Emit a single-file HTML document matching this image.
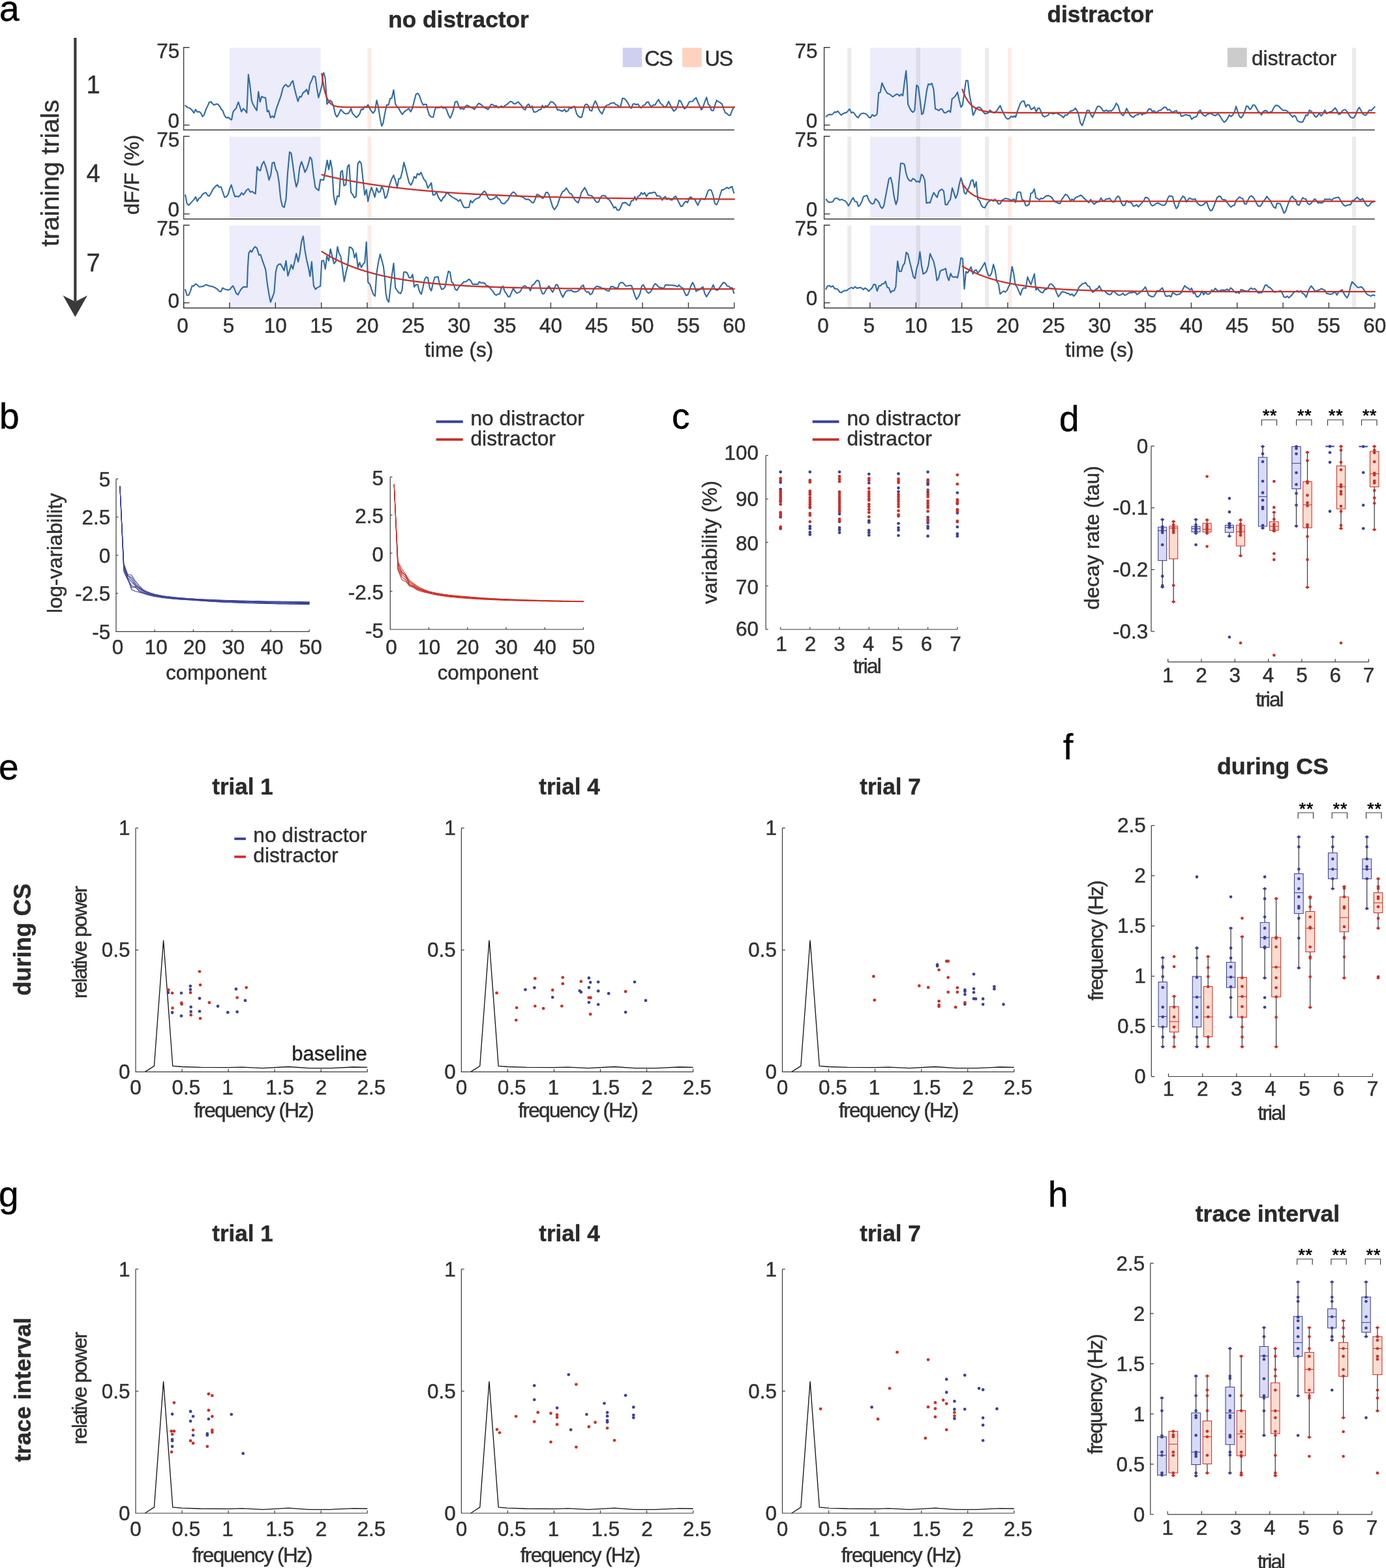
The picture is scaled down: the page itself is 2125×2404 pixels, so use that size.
<!DOCTYPE html>
<html lang="en">
<head>
<meta charset="utf-8">
<title>Figure: distractor effects on neural dynamics</title>
<style>
html,body{margin:0;padding:0;background:#fff;}
body{width:2125px;height:2404px;overflow:hidden;}
svg{display:block;}
svg text{font-family:"Liberation Sans",Arial,Helvetica,sans-serif;fill:#303030;stroke:#303030;stroke-width:0.45px;}
</style>
</head>
<body>
<svg width="2125" height="2404" viewBox="0 0 2125 2404">
<rect width="2125" height="2404" fill="#ffffff"/>
<rect x="352" y="73.3" width="139.6" height="126" fill="#ececfb"/>
<rect x="563.3" y="73.3" width="6" height="126" fill="#fdebe4"/>
<path d="M284.1,161.8 287.5,164.6 291.6,166.3 294.9,169.6 297.4,173.2 299.9,167.9 302.4,171.6 305.7,171.3 308.2,173.7 310.4,178.7 312.9,176.2 315.7,167.9 318.5,162.1 320.7,156.8 323.5,156 325.6,158.8 328.1,161 331.4,159.6 333.9,159.6 336.8,163 339.7,167.9 341.4,169.6 343.9,176.2 346.1,179.9 348,180.9 349.7,179.6 352.2,182 355,183.7 357.5,171.3 359.7,168.3 362.2,165.9 363.8,160.5 365.5,156.6 367.6,163 370.1,171.3 373,166.6 375.4,168.8 378.3,172.9 379.6,144.7 380.8,114.3 382.9,128.1 385.9,154.7 387.9,160 390.4,164.3 393.7,169.3 396.2,140.5 398.7,156.3 401.2,148 403.7,149.3 407,149.7 409.8,171.3 412,169.6 414.8,180.4 417.4,177.9 420.3,180.4 423.3,167.9 427.4,156.3 430.7,147.2 433.6,135.6 436,131.4 438.5,129.7 441.5,133.1 444.3,131.4 446.8,126.4 449,123.9 451.3,134.7 454,145.5 456.8,155.5 459.3,148 461.8,148.8 464.6,142.2 467.3,140.5 470.1,137.2 472.6,144.7 475.1,128.9 477.9,123.1 480.5,116.5 483.4,117.8 485.8,134.7 488.3,149.7 490.8,141.4 493.8,129.7 495,114 496.3,111.5 498.6,119.8 500,139.7 501.3,159.6 503.8,156.6 506.1,153.8 508.8,156.3 511.6,163.8 514.1,175.4 516.6,179.2 519.1,175.4 522.4,167.9 524.9,170.4 527.4,173.2 530.7,174.6 534,173.7 536.5,170.4 538.1,166.3 540.3,173.7 543.1,176.6 546.1,180.1 548.9,177.9 551.4,174.6 553.9,167.6 556.4,167.9 558.9,163.3 561.4,164.6 564.2,160.5 568.3,168.8 572,173.7 575,169.3 577.5,153.8 579.9,163 582.4,179.6 585.3,193.2 587.4,188.7 589.9,174.6 592.9,161 595.7,161 598.2,151.3 600.7,150.5 603.5,138 606.2,159.6 608.5,163 611.5,166.6 614,171.3 616.8,175.4 619.8,171.3 623.1,168.8 626.8,166.6 629.7,171.3 632.2,166.3 635.1,154.7 637.7,144.7 640.5,143 643,146.4 646,155.5 648.8,161 651.3,160 653.8,160 656,169.6 658.3,176.6 661.3,179.2 664.3,179.6 666.6,168.8 668.8,164.6 672.1,165.1 674.6,164.6 677.1,163.3 679.6,165.9 682.5,164.3 684.9,168.8 687.5,176.2 690.3,180.9 692.8,175.4 695.3,167.9 697.8,156.3 700.8,155.6 703.1,162.1 705.8,167.1 708.1,165.9 711.1,167.6 713.6,163 716.1,161.3 719.1,163 721.9,164.6 724.7,165.9 727.4,167.6 729.4,164.6 731.9,161 734.3,158.3 737.7,160.5 740.7,163.3 743.5,165.4 746,166.3 748.1,167.9 750.6,164.6 752.9,160 755.6,160.5 758.4,162.6 760.9,162.1 763.9,165.1 766.2,163.8 768.9,162.6 771.2,164.6 773.9,162.1 776.7,160.5 779.5,158 782.5,155.6 785,156.3 787.5,158.8 790,159.3 792.8,157.1 794.9,156.3 797.4,159.6 799.9,162.1 802.4,167.1 805.4,168.3 807.7,162.1 810.4,159.6 813.7,165.1 815.7,162.6 818.2,171.8 821.5,171.6 824,170.4 826.5,168.3 829.3,167.9 831.5,161.6 834,165.4 836.4,162.1 838.9,163.3 841.4,160.5 843.9,156.6 846.4,156 848.9,158 851.9,161.3 854.7,168.8 857.5,168.3 860,169.9 863,170.4 865.3,167.6 867.9,171.3 870.8,169.9 873.3,165.1 875.8,166.3 878.2,164.3 880.7,163 882.4,168.3 884.1,174.6 886.5,177.9 889,179.9 891.9,179.6 894,171.3 896.5,161.3 899,159.6 901.5,161.3 904.5,169.3 907.3,169.9 909.8,161.3 912.6,154.7 915.1,159.3 917.8,167.1 920.2,171.6 923.1,174.6 925.6,168.8 928,163.3 930.5,161.3 933,161 935.5,158.8 938,158 941.3,157.5 944.3,160.5 946.6,161 948.3,163 951.3,164.3 954.3,150.8 957.1,151 959.9,153.8 962.9,158.3 965.4,163.3 967.9,165.9 970.4,159.6 972.9,159.3 975.4,160.5 978.2,159.6 980.3,163 983.2,165.4 986.2,161.6 988.6,161 991.1,157.1 994.1,156.3 996.4,161.3 999.1,163.8 1001.4,161 1004.4,161 1006.9,156.3 1009.7,152.7 1012.4,158 1015.2,160.5 1017.7,163.3 1020.2,164.3 1022.7,161 1025.2,155.5 1027.7,161.3 1030.2,165.9 1033,170.4 1036,167.9 1038.5,163 1041.3,153.8 1043.9,155.5 1046.8,162.1 1049.2,166.8 1051.7,165.4 1054.2,161.3 1056.7,156.3 1059.2,155.5 1061.7,155.5 1064.5,152.2 1067.2,149.7 1069.7,156 1072.5,162.1 1075.3,168.3 1077.8,164.6 1080.5,156.3 1083.3,149.3 1085.8,159.6 1088.3,162.1 1090.7,169.3 1093.7,169.6 1096.1,161.6 1098.7,153.8 1101.5,156 1104,157.1 1107,159.6 1109.3,166.3 1112,172.9 1114.3,173.7 1117,176.6 1119.8,176.6 1122.3,169.6 1125.3,163.8" stroke="#2e6ba5" stroke-width="2.1" fill="none" stroke-linejoin="round" stroke-linecap="round"/>
<path d="M493.4,113.1 494.8,123.5 496.2,131.8 497.6,138.5 499,143.7 500.4,147.9 501.8,151.3 503.2,153.9 504.6,156.1 506,157.8 507.4,159.1 508.8,160.2 510.2,161 511.6,161.7 513.1,162.3 514.5,162.7 515.9,163 517.3,163.3 518.7,163.5 520.1,163.7 521.5,163.9 522.9,164 524.3,164.1 525.7,164.1 527.1,164.2 528.5,164.2 529.9,164.3 531.3,164.3 532.7,164.3 534.2,164.3 535.6,164.3 537,164.4 538.4,164.4 539.8,164.4 541.2,164.4 542.6,164.4 544,164.4 545.4,164.4 546.8,164.4 548.2,164.4 549.6,164.4 551,164.4 552.4,164.4 553.9,164.4 555.3,164.4 556.7,164.4 558.1,164.4 559.5,164.4 560.9,164.4 562.3,164.4 563.7,164.4 565.1,164.4 566.5,164.4 567.9,164.4 569.3,164.4 570.7,164.4 572.1,164.4 573.6,164.4 575,164.4 576.4,164.4 577.8,164.4 579.2,164.4 580.6,164.4 582,164.4 583.4,164.4 584.8,164.4 586.2,164.4 587.6,164.4 589,164.4 590.4,164.4 591.8,164.4 593.3,164.4 594.7,164.4 596.1,164.4 597.5,164.4 598.9,164.4 600.3,164.4 601.7,164.4 603.1,164.4 604.5,164.4 605.9,164.4 607.3,164.4 608.7,164.4 610.1,164.4 611.5,164.4 612.9,164.4 614.4,164.4 615.8,164.4 617.2,164.4 618.6,164.4 620,164.4 621.4,164.4 622.8,164.4 624.2,164.4 625.6,164.4 627,164.4 628.4,164.4 629.8,164.4 631.2,164.4 632.6,164.4 634.1,164.4 641.1,164.4 648.1,164.4 655.2,164.4 662.2,164.4 669.2,164.4 676.3,164.4 683.3,164.4 690.3,164.4 697.4,164.4 704.4,164.4 711.4,164.4 718.5,164.4 725.5,164.4 732.5,164.4 739.6,164.4 746.6,164.4 753.6,164.4 760.7,164.4 767.7,164.4 774.8,164.4 781.8,164.4 788.8,164.4 795.9,164.4 802.9,164.4 809.9,164.4 817,164.4 824,164.4 831,164.4 838.1,164.4 845.1,164.4 852.1,164.4 859.2,164.4 866.2,164.4 873.2,164.4 880.3,164.4 887.3,164.4 894.3,164.4 901.4,164.4 908.4,164.4 915.5,164.4 922.5,164.4 929.5,164.4 936.6,164.4 943.6,164.4 950.6,164.4 957.7,164.4 964.7,164.4 971.7,164.4 978.8,164.4 985.8,164.4 992.8,164.4 999.9,164.4 1006.9,164.4 1013.9,164.4 1021,164.4 1028,164.4 1035,164.4 1042.1,164.4 1049.1,164.4 1056.2,164.4 1063.2,164.4 1070.2,164.4 1077.3,164.4 1084.3,164.4 1091.3,164.4 1098.4,164.4 1105.4,164.4 1112.4,164.4 1119.5,164.4 1125.8,164.4" stroke="#c9302c" stroke-width="2.3" fill="none" stroke-linejoin="round" stroke-linecap="round"/>
<path d="M290.6,72.8 H281.6 V199.3 H1125.8" stroke="#3a3a3a" stroke-width="1.4" fill="none"/>
<line x1="281.6" y1="191.7" x2="290.6" y2="191.7" stroke="#3a3a3a" stroke-width="1.4"/>
<text x="275.4" y="88.8" font-size="31.5" text-anchor="end">75</text>
<text x="275.1" y="195.5" font-size="31.5" text-anchor="end">0</text>
<rect x="352" y="209.5" width="139.6" height="126.3" fill="#ececfb"/>
<rect x="563.3" y="209.5" width="6" height="126.3" fill="#fdebe4"/>
<path d="M284.1,299 286.6,311.9 289.4,314.7 292.4,311.4 294.9,308.6 297.4,305.9 299.9,301.9 302.4,308.6 305.2,303.9 307.7,302.6 310.2,298.1 313.2,296.1 315.7,295.3 318.5,299.8 320.7,300.6 323.1,297 326.1,290.7 329,287.3 331.4,284.8 333.4,283.5 336.1,287 338.9,286.5 341.4,294 344.4,302.6 347.2,301.4 349.7,298.1 352.2,289 354.7,283.5 357.2,292.3 360,301.1 363,300.9 365.5,301.6 368,299.8 370.5,295.6 373,298.6 375.4,295.6 377.9,291.5 380.8,289.5 383.7,294.5 386.6,293.6 389.2,295.6 391.7,297 392.9,277.4 394.2,255.8 397,261.1 399.2,261.6 401.5,252.5 404.5,247.5 407,254.1 409.8,264.1 412.5,276 415.3,267.4 417.4,250 420.3,248.8 422.8,259.4 425.2,264.1 427.7,279 430.2,303.9 432.7,315.6 435.7,318 438.5,305.6 441,265.7 444,233 446.5,235 449,252.5 451.8,274 454.3,286.5 456.8,279 459.3,257.4 462.3,247.8 464.6,254.1 467.6,264.1 470.6,258.3 472.9,250.8 475.4,240.8 477.9,244.5 480.5,267.4 483.4,287.3 485.8,289.8 488.7,292 491.2,275.4 493.8,275.7 496.1,276 498.8,262.4 501.6,245.8 504.1,259.9 506.6,245.8 509.1,259.1 511.6,300.6 514.4,313.9 517.1,300.6 519.9,301.4 522.4,263.3 524.9,261.6 527.4,284.8 530.3,283.2 532.7,255.8 535.3,252.5 538.1,294.8 540.6,298.1 543.5,303.1 545.9,301.1 548.6,250.8 551.4,247.2 553.9,250.8 556.4,274 559.2,299 561.7,290.7 564.2,308.9 567,295.6 569.5,287.3 572,294 574.6,302.3 577.5,288.2 580.3,294.8 582.9,294 585.3,285.7 587.9,291.5 590.4,303.9 592.9,301.4 595.2,292.3 597.4,283.2 600.7,274 603.5,268.7 606.2,276.5 609,287.3 611.5,273.7 614,273.6 616.5,264.1 619.3,249.1 621.8,258.3 624.4,269.1 627.3,280.4 630.1,283.7 632.7,278.2 635.1,270.7 637.7,273.2 640,266.2 642.7,268.2 645.5,264.4 648,270.7 650.5,275.7 653,278.2 656,288.5 658.3,284.8 661.3,280.4 663.8,299 666.6,298.6 669.3,294.3 671.6,301.4 674.2,305.6 676.6,308.6 679.2,303.6 681.7,301.4 684.2,296.5 686.7,296 689.5,299.3 692.5,301.6 695.3,303.1 697.8,304.8 700.3,305.9 703.1,308.6 705.8,305.9 708.1,311.4 710.8,317.2 713.6,318.5 716.4,318 719.1,317.7 721.4,307.3 724,310.9 726.9,307.3 729.4,305.3 732.3,303.9 734.7,303.1 737.3,298.6 740.2,295.6 742.6,293.1 745.1,295.6 747.6,301.9 750.1,305.3 752.6,305.9 755.6,305.3 758.4,303.6 760.9,300.6 763.4,304.3 765.9,305.6 768.4,310.6 770.9,312.2 773.4,312.2 776.2,308.9 779.2,305.9 781.7,300.3 784.5,296.5 787.1,294.3 790,296.5 792.8,300.3 795.8,300.6 798.3,301.4 801.1,301.9 804.1,304.3 807.1,305.9 809.9,305.3 812.7,307.3 815.7,310.6 818.2,310.6 820.7,304.8 823.2,298.1 826,299 829,301.1 832,304.3 834.3,302.3 836.8,295.3 839.3,294.8 841.9,299 844.7,308.9 847.2,316.9 850.1,321.5 852.5,318 854.7,314.7 857.5,305.6 860,299 862.5,294 865.3,292.3 868.3,288.2 870.8,292.3 873.3,296.5 875.8,297 878.2,301.1 880.7,305.6 883.6,308.9 886.5,310.9 889,303.6 891.5,294.8 894,291.5 896.5,287.7 899,292.3 901.8,299 904.5,299.8 907.3,300.3 909.8,303.1 912.3,307.3 914.8,310.1 917.8,309.7 920.1,303.6 922.7,300.3 925.6,299.8 928.4,300.6 931,304.8 933.4,305.6 936,308.9 938.8,313.9 941.3,318.9 943.8,317.2 946.3,321.9 949.3,322.2 951.6,318 954.3,311.4 957.1,310.9 959.6,310.6 962.6,313.9 965.4,315.2 967.9,308.1 970.9,307.3 973.2,301.4 975.4,306.9 978.2,301.1 980.8,299.8 983.2,295.3 985.8,298.1 988.3,295.3 991.1,301.4 993.6,297.3 996.1,295.6 999.1,296 1001.9,294.8 1004.4,295 1007.4,300.6 1010.2,300.3 1012.7,301.9 1015.2,306.9 1017.7,303.1 1020.2,301.4 1022.7,305.9 1025.2,303.9 1028,306.4 1030.7,306.4 1033.5,302.6 1036,300.6 1038.5,305.6 1040.9,310.6 1043.9,316.4 1046.3,315.9 1048.9,311.4 1051.7,308.6 1054.2,310.6 1056.7,303.6 1059.2,301.9 1062.2,305.3 1064.5,304.8 1067.2,309.7 1070,314.7 1072.5,308.9 1075,304.3 1077.5,305.3 1080.5,305.9 1082.8,300.6 1085.4,293.1 1087.8,290.7 1090.4,291.5 1093.2,299 1096.1,312.2 1098.7,313.9 1101.5,308.1 1104,299 1106.9,290.7 1109,291.1 1112,289 1114.5,287.3 1117.3,289 1119.8,287.3 1122.3,286 1125.3,296" stroke="#2e6ba5" stroke-width="2.1" fill="none" stroke-linejoin="round" stroke-linecap="round"/>
<path d="M493.4,267.9 494.8,268.2 496.2,268.6 497.6,268.9 499,269.3 500.4,269.6 501.8,269.9 503.2,270.2 504.6,270.6 506,270.9 507.4,271.2 508.8,271.5 510.2,271.8 511.6,272.1 513.1,272.5 514.5,272.8 515.9,273.1 517.3,273.4 518.7,273.7 520.1,273.9 521.5,274.2 522.9,274.5 524.3,274.8 525.7,275.1 527.1,275.4 528.5,275.6 529.9,275.9 531.3,276.2 532.7,276.5 534.2,276.7 535.6,277 537,277.3 538.4,277.5 539.8,277.8 541.2,278 542.6,278.3 544,278.5 545.4,278.8 546.8,279 548.2,279.3 549.6,279.5 551,279.8 552.4,280 553.9,280.2 555.3,280.5 556.7,280.7 558.1,280.9 559.5,281.1 560.9,281.4 562.3,281.6 563.7,281.8 565.1,282 566.5,282.3 567.9,282.5 569.3,282.7 570.7,282.9 572.1,283.1 573.6,283.3 575,283.5 576.4,283.7 577.8,283.9 579.2,284.1 580.6,284.3 582,284.5 583.4,284.7 584.8,284.9 586.2,285.1 587.6,285.3 589,285.5 590.4,285.7 591.8,285.8 593.3,286 594.7,286.2 596.1,286.4 597.5,286.6 598.9,286.7 600.3,286.9 601.7,287.1 603.1,287.3 604.5,287.4 605.9,287.6 607.3,287.8 608.7,287.9 610.1,288.1 611.5,288.2 612.9,288.4 614.4,288.6 615.8,288.7 617.2,288.9 618.6,289 620,289.2 621.4,289.3 622.8,289.5 624.2,289.6 625.6,289.8 627,289.9 628.4,290.1 629.8,290.2 631.2,290.4 632.6,290.5 634.1,290.6 641.1,291.3 648.1,292 655.2,292.6 662.2,293.2 669.2,293.8 676.3,294.3 683.3,294.8 690.3,295.3 697.4,295.8 704.4,296.3 711.4,296.7 718.5,297.1 725.5,297.5 732.5,297.9 739.6,298.2 746.6,298.6 753.6,298.9 760.7,299.2 767.7,299.5 774.8,299.8 781.8,300.1 788.8,300.4 795.9,300.6 802.9,300.8 809.9,301.1 817,301.3 824,301.5 831,301.7 838.1,301.9 845.1,302.1 852.1,302.2 859.2,302.4 866.2,302.6 873.2,302.7 880.3,302.9 887.3,303 894.3,303.1 901.4,303.3 908.4,303.4 915.5,303.5 922.5,303.6 929.5,303.7 936.6,303.8 943.6,303.9 950.6,304 957.7,304.1 964.7,304.2 971.7,304.3 978.8,304.3 985.8,304.4 992.8,304.5 999.9,304.6 1006.9,304.6 1013.9,304.7 1021,304.7 1028,304.8 1035,304.8 1042.1,304.9 1049.1,304.9 1056.2,305 1063.2,305 1070.2,305.1 1077.3,305.1 1084.3,305.2 1091.3,305.2 1098.4,305.2 1105.4,305.3 1112.4,305.3 1119.5,305.3 1125.8,305.4" stroke="#c9302c" stroke-width="2.3" fill="none" stroke-linejoin="round" stroke-linecap="round"/>
<path d="M290.6,209 H281.6 V335.8 H1125.8" stroke="#3a3a3a" stroke-width="1.4" fill="none"/>
<line x1="281.6" y1="328" x2="290.6" y2="328" stroke="#3a3a3a" stroke-width="1.4"/>
<text x="275.4" y="225" font-size="31.5" text-anchor="end">75</text>
<text x="275.1" y="331.8" font-size="31.5" text-anchor="end">0</text>
<rect x="352" y="345.7" width="139.6" height="126.6" fill="#ececfb"/>
<rect x="563.3" y="345.7" width="6" height="126.6" fill="#fdebe4"/>
<path d="M284.1,444.1 286.6,452.7 289.4,452.4 291.9,446.6 294.6,438.3 296.9,438.6 299.6,435.3 302.4,436.6 305.2,439.6 308.2,439.4 310.7,439.1 313.2,438.3 315.7,436.3 318.5,437.4 321.5,438.6 324.5,439.1 327.3,439.9 330.1,441.3 333.1,443.3 336.1,446.6 338.9,446.9 341.4,441.3 344.4,443.3 347.2,444.1 350,444.6 352.2,444.1 354.7,440.8 357.2,438.3 359.7,443.3 362.2,449.9 365,451.9 367.6,446.6 370.5,442.4 373.3,439.9 376.3,439.9 378.8,440.3 379.9,410 381.3,388.5 383.7,384 385.9,386.5 388.7,381 391.2,378.2 393.7,380.2 395.9,386.8 397,391 399.5,390.5 402,398.4 404.5,405.4 407.3,413.7 409.8,435 412.5,451.6 414.8,463.2 417.4,456.5 420.3,448.6 422.8,416.7 425.2,407.6 427.7,405.1 430.2,404.7 432.7,409.2 435.7,414.7 438.5,399.8 441.4,423 444,415 446.5,405.9 449,412.5 451.8,400.9 454.3,388.8 457.1,401.4 459.6,390.1 462.3,370.2 464.8,362.2 467.3,382.7 470.1,398.4 472.9,410 475.4,423.7 477.9,401.4 480.9,438.3 483.7,443.6 486.2,441.3 488.8,439.9 491.2,438.6 493.3,399.8 496.1,399.6 498.8,412.5 501.1,392.6 504.1,399.8 506.6,381.8 509.1,391.8 512.1,404.2 514.9,400.9 517.4,378.2 519.9,388.5 522.4,393.1 524.9,410 527.7,431.6 530.7,416.7 533.2,406.7 535.7,378.8 538.6,379.8 541.1,382.7 543.6,395.1 546.1,388.1 548.9,410 551.4,402.6 553.9,410 556.7,405.1 559.2,402.6 561.7,371 564.2,432.5 567.5,436.6 570,444.9 572.5,451.6 575,454 577.5,418.4 579.9,403.4 582.8,389.8 585.3,398.4 587.9,408.4 589.9,426.7 591.6,449.9 593.6,459.5 596,463.2 598.2,444.9 600.7,423.3 603.5,403.7 606.2,441.3 608.5,444.9 611.2,448.6 614,450.2 616.5,444.9 619,417.2 621.8,417 624.4,418.7 627.3,425.8 630.1,425.8 632.6,420.8 635.1,439.9 637.7,436.6 640.5,436.3 643,446.6 645.9,451.2 648.3,441.6 650.8,429.1 653.3,424.7 656,425.8 658.8,441.6 661.3,445.7 664.1,433.3 666.6,425 669.3,424.5 671.6,424.2 674.2,436.6 677.1,443.6 679.9,442.9 682.4,439.9 684.9,427.5 687.5,415.9 690,417.5 692.5,432.5 695.3,435 697.8,443.3 700.6,445.2 703.1,440.8 705.8,437.4 708.6,435 711.1,432 713.9,432 716.4,430.3 719.1,428 721.9,430.8 724.4,435.6 727.4,435.9 730.2,435.9 732.7,435.9 734.7,432 737.7,433.6 740.2,433.6 743,434.1 745.6,437.9 748.5,438.3 750.9,441.3 753.4,444.1 755.9,446.9 758.4,451.2 760.9,452.7 763.4,450.7 766.2,450.7 768.7,441.6 771.2,438.6 773.7,446.6 776.2,449.9 779.2,454.9 781.7,454.5 784.1,448.6 787,441.9 789.5,446.6 792.4,449.6 794.9,448.6 797.8,446.9 800.4,441.3 803.2,438.6 805.7,438.3 808.2,441.3 810.7,440.8 813.2,445.7 815.7,437.4 818.7,435.8 821.5,431.6 824,429.6 826.5,431.3 829,443.3 831.8,450.7 834.3,449.9 836.8,444.9 839.3,441.3 841.9,438.6 844.7,444.1 847.2,447.9 849.7,443.3 852.2,436.6 854.7,436.6 857.5,443.3 860,449.9 863,455.7 865.3,450.7 867.9,446.6 870.8,445.2 873.3,445.7 875.8,444.9 878.2,446.9 880.7,447.4 883.6,447.4 886.2,446.2 889,443.6 891.5,439.1 894.3,437.1 896.8,444.9 899.5,447.9 902.3,447.4 904.8,451.6 907.6,450.2 910.1,444.1 912.8,440.3 915.6,438.6 918.1,439.9 920.6,440.3 923.1,442.4 926.1,442.4 928.9,444.6 931.4,445.7 933.9,446.2 936.4,439.6 938.8,439.1 941.3,440.3 944.3,441.6 947.1,441.3 949.6,435 952.1,433 954.6,433.3 957.1,435.8 959.6,438.6 962.6,438.3 965.4,437.6 968.2,437.9 970.7,444.9 973.2,452.4 975.9,459 978.7,455.2 981.2,450.2 983.7,439.1 986.2,436.6 988.6,440.8 991.5,446.6 994.1,449.6 996.9,447.9 999.4,444.6 1001.9,438.6 1004.4,435 1006.9,436.6 1009.7,439.9 1012.4,440.8 1015.2,441.6 1017.7,441.9 1020.2,436.9 1022.7,436.8 1026,437.1 1029.3,437.3 1032.6,437.6 1035.1,437.9 1038.5,439.6 1040.9,436.9 1043.4,439.9 1046.8,441.6 1049.2,447.4 1051.7,452.9 1054.2,452.4 1056.7,446.6 1059.2,438.3 1062,433 1064.5,438.3 1067.2,446.6 1070,444.6 1072.5,444.1 1075,441.6 1077.8,439.9 1080.5,449.9 1083.3,454.9 1085.8,450.7 1088.3,446.6 1090.7,443.3 1093.6,436.6 1096.1,443.3 1098.7,444.9 1101.5,444.1 1104,439.9 1106.9,435.8 1109.3,433 1112,434.1 1114.8,438.3 1117.3,439.1 1120.1,441.3 1122.6,441.3 1125.3,449.6" stroke="#2e6ba5" stroke-width="2.1" fill="none" stroke-linejoin="round" stroke-linecap="round"/>
<path d="M493.4,385.6 494.8,386.5 496.2,387.4 497.6,388.2 499,389.1 500.4,389.9 501.8,390.8 503.2,391.6 504.6,392.4 506,393.2 507.4,393.9 508.8,394.7 510.2,395.4 511.6,396.2 513.1,396.9 514.5,397.6 515.9,398.3 517.3,399 518.7,399.7 520.1,400.4 521.5,401.1 522.9,401.7 524.3,402.4 525.7,403 527.1,403.6 528.5,404.2 529.9,404.8 531.3,405.4 532.7,406 534.2,406.6 535.6,407.2 537,407.7 538.4,408.3 539.8,408.8 541.2,409.3 542.6,409.9 544,410.4 545.4,410.9 546.8,411.4 548.2,411.9 549.6,412.4 551,412.8 552.4,413.3 553.9,413.8 555.3,414.2 556.7,414.7 558.1,415.1 559.5,415.6 560.9,416 562.3,416.4 563.7,416.8 565.1,417.2 566.5,417.6 567.9,418 569.3,418.4 570.7,418.8 572.1,419.2 573.6,419.6 575,419.9 576.4,420.3 577.8,420.6 579.2,421 580.6,421.3 582,421.7 583.4,422 584.8,422.3 586.2,422.7 587.6,423 589,423.3 590.4,423.6 591.8,423.9 593.3,424.2 594.7,424.5 596.1,424.8 597.5,425.1 598.9,425.4 600.3,425.6 601.7,425.9 603.1,426.2 604.5,426.4 605.9,426.7 607.3,427 608.7,427.2 610.1,427.5 611.5,427.7 612.9,427.9 614.4,428.2 615.8,428.4 617.2,428.6 618.6,428.9 620,429.1 621.4,429.3 622.8,429.5 624.2,429.7 625.6,429.9 627,430.1 628.4,430.3 629.8,430.5 631.2,430.7 632.6,430.9 634.1,431.1 641.1,432 648.1,432.9 655.2,433.6 662.2,434.4 669.2,435 676.3,435.6 683.3,436.2 690.3,436.7 697.4,437.2 704.4,437.7 711.4,438.1 718.5,438.5 725.5,438.8 732.5,439.2 739.6,439.5 746.6,439.7 753.6,440 760.7,440.2 767.7,440.5 774.8,440.7 781.8,440.9 788.8,441 795.9,441.2 802.9,441.3 809.9,441.5 817,441.6 824,441.7 831,441.8 838.1,441.9 845.1,442 852.1,442.1 859.2,442.2 866.2,442.3 873.2,442.4 880.3,442.4 887.3,442.5 894.3,442.5 901.4,442.6 908.4,442.6 915.5,442.7 922.5,442.7 929.5,442.7 936.6,442.8 943.6,442.8 950.6,442.8 957.7,442.9 964.7,442.9 971.7,442.9 978.8,442.9 985.8,443 992.8,443 999.9,443 1006.9,443 1013.9,443 1021,443 1028,443 1035,443.1 1042.1,443.1 1049.1,443.1 1056.2,443.1 1063.2,443.1 1070.2,443.1 1077.3,443.1 1084.3,443.1 1091.3,443.1 1098.4,443.1 1105.4,443.1 1112.4,443.1 1119.5,443.1 1125.8,443.1" stroke="#c9302c" stroke-width="2.3" fill="none" stroke-linejoin="round" stroke-linecap="round"/>
<path d="M290.6,345.2 H281.6 V472.3 H1125.8" stroke="#3a3a3a" stroke-width="1.4" fill="none"/>
<line x1="281.6" y1="464.3" x2="290.6" y2="464.3" stroke="#3a3a3a" stroke-width="1.4"/>
<text x="275.4" y="361.2" font-size="31.5" text-anchor="end">75</text>
<text x="275.1" y="471.9" font-size="31.5" text-anchor="end">0</text>
<line x1="281.6" y1="472.3" x2="281.6" y2="463.8" stroke="#3a3a3a" stroke-width="1.4"/>
<text x="280.1" y="509.5" font-size="31.5" text-anchor="middle">0</text>
<line x1="352" y1="472.3" x2="352" y2="463.8" stroke="#3a3a3a" stroke-width="1.4"/>
<text x="350.5" y="509.5" font-size="31.5" text-anchor="middle">5</text>
<line x1="422.3" y1="472.3" x2="422.3" y2="463.8" stroke="#3a3a3a" stroke-width="1.4"/>
<text x="422.3" y="509.5" font-size="31.5" text-anchor="middle">10</text>
<line x1="492.7" y1="472.3" x2="492.7" y2="463.8" stroke="#3a3a3a" stroke-width="1.4"/>
<text x="492.7" y="509.5" font-size="31.5" text-anchor="middle">15</text>
<line x1="563" y1="472.3" x2="563" y2="463.8" stroke="#3a3a3a" stroke-width="1.4"/>
<text x="563" y="509.5" font-size="31.5" text-anchor="middle">20</text>
<line x1="633.4" y1="472.3" x2="633.4" y2="463.8" stroke="#3a3a3a" stroke-width="1.4"/>
<text x="633.4" y="509.5" font-size="31.5" text-anchor="middle">25</text>
<line x1="703.7" y1="472.3" x2="703.7" y2="463.8" stroke="#3a3a3a" stroke-width="1.4"/>
<text x="703.7" y="509.5" font-size="31.5" text-anchor="middle">30</text>
<line x1="774" y1="472.3" x2="774" y2="463.8" stroke="#3a3a3a" stroke-width="1.4"/>
<text x="774" y="509.5" font-size="31.5" text-anchor="middle">35</text>
<line x1="844.4" y1="472.3" x2="844.4" y2="463.8" stroke="#3a3a3a" stroke-width="1.4"/>
<text x="844.4" y="509.5" font-size="31.5" text-anchor="middle">40</text>
<line x1="914.8" y1="472.3" x2="914.8" y2="463.8" stroke="#3a3a3a" stroke-width="1.4"/>
<text x="914.8" y="509.5" font-size="31.5" text-anchor="middle">45</text>
<line x1="985.1" y1="472.3" x2="985.1" y2="463.8" stroke="#3a3a3a" stroke-width="1.4"/>
<text x="985.1" y="509.5" font-size="31.5" text-anchor="middle">50</text>
<line x1="1055.5" y1="472.3" x2="1055.5" y2="463.8" stroke="#3a3a3a" stroke-width="1.4"/>
<text x="1055.5" y="509.5" font-size="31.5" text-anchor="middle">55</text>
<line x1="1125.8" y1="472.3" x2="1125.8" y2="463.8" stroke="#3a3a3a" stroke-width="1.4"/>
<text x="1125.8" y="509.5" font-size="31.5" text-anchor="middle">60</text>
<text x="703.7" y="546.5" font-size="31.5" text-anchor="middle">time (s)</text>
<rect x="1333.9" y="73.3" width="139.6" height="126" fill="#ececfb"/>
<rect x="1545.3" y="73.3" width="6" height="126" fill="#fdebe4"/>
<rect x="1299.2" y="73.3" width="6.2" height="126" fill="#ebebeb"/>
<rect x="1404.7" y="73.3" width="6.2" height="126" fill="#dcdce8"/>
<rect x="1510.2" y="73.3" width="6.2" height="126" fill="#ebebeb"/>
<rect x="2073" y="73.3" width="6.2" height="126" fill="#ebebeb"/>
<path d="M1266.6,178.7 1269.3,176.2 1272.1,175.4 1274.6,175.9 1277.1,174.6 1279.6,171.6 1282.1,172.1 1284.6,170.4 1287.1,173.7 1289.9,176.6 1292.5,174.2 1295.4,172.9 1297.8,172.6 1300.3,169.9 1302.5,167.1 1305.3,172.9 1307.8,172.1 1310.3,174.6 1313.1,178.7 1315.8,180.4 1318.6,175.9 1321.1,174.2 1323.6,173.4 1326.4,174.2 1329.4,175.9 1332.2,179.9 1334.7,180.4 1337.4,175.9 1340.2,177.9 1342.7,177.1 1344.7,174.6 1346,158 1347.2,142.2 1349.6,141.7 1352.3,127.3 1354.6,132.2 1357.3,138 1360.1,142.7 1362.9,143.9 1365.9,146 1368.7,148.5 1371.7,146.4 1374.2,144.4 1376.7,144.7 1379.2,147.2 1381.7,144.4 1384.2,146.7 1386.7,126.4 1389.2,108.5 1390.8,131.4 1392.1,159.6 1395,166.3 1397.5,170.4 1399.9,172.1 1402.4,168.8 1404.1,144.7 1405.3,130.6 1407.9,133.1 1410.4,151.3 1413.2,175.4 1415.4,173.7 1418.2,158 1420.7,139.7 1423.2,128.9 1426,129.7 1428.7,127.8 1431.5,137.2 1434,167.1 1437,167.9 1439.5,169.6 1442,167.1 1444.4,167.3 1447.3,172.6 1449.8,172.9 1452.2,171.3 1454.7,169.6 1457.2,172.1 1459.7,151.3 1462.5,149.7 1465.2,146.4 1468,141.4 1470.5,153 1473.3,164.3 1475.8,161 1478.5,141.4 1481,123.6 1483.8,123.6 1486.6,146.4 1489.3,159.6 1491.8,176.6 1494.1,172.9 1496.7,165.9 1499.6,164.3 1502.1,164.6 1505,167.6 1507.9,172.1 1510.4,174.6 1512.8,173.7 1515.3,172.9 1517.8,168.8 1520.6,171.6 1523.3,172.9 1525.8,172.6 1528.6,169.3 1531.1,165.4 1533.6,161.8 1536.4,169.6 1539.1,174.6 1541.9,179.9 1544.7,182.5 1546.9,182 1550.5,178.2 1553,179.6 1555,177.9 1557.1,179.6 1559.6,171.3 1562.1,164.6 1564.6,158 1567.1,155.5 1569.9,154.7 1572.9,163.8 1575.4,160.5 1577.9,161.3 1580.9,167.9 1583.2,166.6 1585.9,164.3 1588.7,171.3 1591.2,165.9 1593.7,165.9 1596.1,171.3 1598.6,177.1 1601.1,179.2 1604.1,177.9 1606.9,176.6 1609.4,173.2 1612.4,173.7 1614.7,174.6 1617.4,173.7 1620.2,172.9 1622.7,175.1 1625.2,175.9 1627.7,177.9 1630.5,180.4 1633,176.2 1635.7,176.6 1638.5,173.7 1641,170.4 1643.5,169.9 1646,168.8 1648.8,165.8 1651.3,169.6 1653.8,175.9 1656.2,187.9 1659.2,192.5 1661.7,185.4 1664.2,177.9 1666.7,169.3 1669.7,169.3 1672.2,175.4 1675,179.9 1677.5,174.6 1680,168.8 1682.8,163 1685.5,163 1688.3,165.4 1691.1,169.9 1693.6,170.4 1696.1,168.8 1699.1,170.9 1701.6,169.6 1704.1,170.1 1706.6,167.6 1709,163.8 1711.5,158.3 1714.4,162.1 1717,171.3 1719.5,175.4 1722,177.1 1724.8,172.9 1727.3,166.3 1729.8,171.3 1732.3,175.9 1735.1,178.7 1737.8,179.9 1740.6,177.1 1743.1,175.9 1745.6,175.4 1748.4,172.6 1750.9,176.2 1753.5,174.2 1756.4,174.2 1758.8,171.3 1761.3,167.1 1764.2,167.1 1766.8,171.3 1769.3,169.6 1772.1,172.9 1774.6,171.3 1777.1,169.3 1779.6,169.3 1782.4,166.3 1785.1,164.3 1787.6,164.6 1790.4,168.8 1792.9,167.6 1795.7,170.9 1798.4,172.1 1800.9,170.4 1803.7,169.6 1806.2,174.2 1808.7,172.1 1811.1,178.2 1813.6,177.9 1816.5,176.2 1819.1,175.9 1821.6,177.1 1824.1,176.6 1827,182.9 1829.6,180.4 1832.5,179.6 1835,177.9 1837.5,171.3 1840.3,168.8 1842.4,173.7 1844.9,176.2 1847.9,178.2 1850.7,175.4 1853.2,174.6 1855.7,173.7 1858.2,174.9 1861,176.6 1863.5,177.1 1866,175.4 1868.5,175.4 1871.2,179.2 1874,183.7 1876.8,187.5 1879.5,185.4 1882.3,181.2 1884.8,176.2 1887.3,178.7 1890.1,176.2 1892.7,172.1 1895.1,163 1897.7,171.3 1900.2,178.2 1903,180.7 1905.9,176.6 1908.3,171.3 1911,162.6 1913.5,163.3 1916,167.6 1918.3,166.3 1921,161 1923.8,161.3 1926.3,165.4 1929.1,170.9 1931.6,172.9 1934.1,176.2 1936.6,171.3 1939.2,169.6 1942,169.9 1944.9,173.7 1947.5,171.8 1950.3,170.9 1952.8,165.4 1955.7,161.6 1958.3,161.6 1961.1,163.3 1964,166.6 1966.4,168.8 1969.1,169.1 1971.9,169.3 1974.4,171.3 1976.9,173.7 1979.4,176.6 1981.9,179.6 1984.4,177.1 1986.9,179.6 1989.4,185.4 1991.9,186.7 1994.7,187.4 1997.2,187 1999.7,182 2002.3,176.2 2004.8,177.1 2007.6,168.8 2010.1,170.4 2012.6,172.9 2015.4,177.6 2017.9,179.6 2020.4,177.1 2022.9,173.7 2025.6,177.6 2028.4,174.6 2031.2,168.8 2033.9,174.2 2036.7,172.9 2039.2,171.3 2041.7,171.3 2044.5,168.3 2047.1,165.4 2050,169.9 2052.4,175.4 2054.9,174.6 2057.8,170.4 2060.4,168.3 2062.9,168.3 2065.4,171.3 2068.2,176.2 2070.7,179.6 2073.5,180.9 2076,180.4 2078.7,175.4 2081.5,168.3 2084,164.6 2086.8,169.6 2089.3,174.6 2092,176.2 2094.3,176.6 2096.9,172.9 2099.4,168.8 2101.9,169.6 2104.7,167.1 2107.7,163.8" stroke="#2e6ba5" stroke-width="2.1" fill="none" stroke-linejoin="round" stroke-linecap="round"/>
<path d="M1475.4,137.2 1476.8,141 1478.2,144.3 1479.6,147.3 1481,150 1482.4,152.4 1483.8,154.6 1485.2,156.5 1486.6,158.2 1488,159.8 1489.4,161.1 1490.8,162.4 1492.2,163.5 1493.6,164.5 1495.1,165.4 1496.5,166.2 1497.9,166.9 1499.3,167.5 1500.7,168.1 1502.1,168.6 1503.5,169 1504.9,169.4 1506.3,169.8 1507.7,170.1 1509.1,170.4 1510.5,170.7 1511.9,170.9 1513.3,171.1 1514.7,171.3 1516.2,171.5 1517.6,171.6 1519,171.8 1520.4,171.9 1521.8,172 1523.2,172.1 1524.6,172.2 1526,172.2 1527.4,172.3 1528.8,172.4 1530.2,172.4 1531.6,172.5 1533,172.5 1534.4,172.6 1535.9,172.6 1537.3,172.6 1538.7,172.7 1540.1,172.7 1541.5,172.7 1542.9,172.7 1544.3,172.7 1545.7,172.8 1547.1,172.8 1548.5,172.8 1549.9,172.8 1551.3,172.8 1552.7,172.8 1554.1,172.8 1555.6,172.8 1557,172.8 1558.4,172.8 1559.8,172.9 1561.2,172.9 1562.6,172.9 1564,172.9 1565.4,172.9 1566.8,172.9 1568.2,172.9 1569.6,172.9 1571,172.9 1572.4,172.9 1573.8,172.9 1575.3,172.9 1576.7,172.9 1578.1,172.9 1579.5,172.9 1580.9,172.9 1582.3,172.9 1583.7,172.9 1585.1,172.9 1586.5,172.9 1587.9,172.9 1589.3,172.9 1590.7,172.9 1592.1,172.9 1593.5,172.9 1594.9,172.9 1596.4,172.9 1597.8,172.9 1599.2,172.9 1600.6,172.9 1602,172.9 1603.4,172.9 1604.8,172.9 1606.2,172.9 1607.6,172.9 1609,172.9 1610.4,172.9 1611.8,172.9 1613.2,172.9 1614.6,172.9 1616.1,172.9 1623.1,172.9 1630.1,172.9 1637.2,172.9 1644.2,172.9 1651.2,172.9 1658.3,172.9 1665.3,172.9 1672.3,172.9 1679.4,172.9 1686.4,172.9 1693.4,172.9 1700.5,172.9 1707.5,172.9 1714.5,172.9 1721.6,172.9 1728.6,172.9 1735.6,172.9 1742.7,172.9 1749.7,172.9 1756.8,172.9 1763.8,172.9 1770.8,172.9 1777.9,172.9 1784.9,172.9 1791.9,172.9 1799,172.9 1806,172.9 1813,172.9 1820.1,172.9 1827.1,172.9 1834.1,172.9 1841.2,172.9 1848.2,172.9 1855.2,172.9 1862.3,172.9 1869.3,172.9 1876.3,172.9 1883.4,172.9 1890.4,172.9 1897.5,172.9 1904.5,172.9 1911.5,172.9 1918.6,172.9 1925.6,172.9 1932.6,172.9 1939.7,172.9 1946.7,172.9 1953.7,172.9 1960.8,172.9 1967.8,172.9 1974.8,172.9 1981.9,172.9 1988.9,172.9 1995.9,172.9 2003,172.9 2010,172.9 2017,172.9 2024.1,172.9 2031.1,172.9 2038.2,172.9 2045.2,172.9 2052.2,172.9 2059.3,172.9 2066.3,172.9 2073.3,172.9 2080.4,172.9 2087.4,172.9 2094.4,172.9 2101.5,172.9 2107.8,172.9" stroke="#c9302c" stroke-width="2.3" fill="none" stroke-linejoin="round" stroke-linecap="round"/>
<path d="M1272.6,72.8 H1263.6 V199.3 H2107.8" stroke="#3a3a3a" stroke-width="1.4" fill="none"/>
<line x1="1263.6" y1="191.7" x2="1272.6" y2="191.7" stroke="#3a3a3a" stroke-width="1.4"/>
<text x="1253.6" y="88.8" font-size="31.5" text-anchor="end">75</text>
<text x="1253.3" y="195.5" font-size="31.5" text-anchor="end">0</text>
<rect x="1333.9" y="209.5" width="139.6" height="126.3" fill="#ececfb"/>
<rect x="1545.3" y="209.5" width="6" height="126.3" fill="#fdebe4"/>
<rect x="1299.2" y="209.5" width="6.2" height="126.3" fill="#ebebeb"/>
<rect x="1404.7" y="209.5" width="6.2" height="126.3" fill="#dcdce8"/>
<rect x="1510.2" y="209.5" width="6.2" height="126.3" fill="#ebebeb"/>
<rect x="2073" y="209.5" width="6.2" height="126.3" fill="#ebebeb"/>
<path d="M1266.6,305.6 1269.3,309.2 1272.1,310.2 1274.6,309.7 1277.1,308.9 1279.6,304.8 1282.1,303.6 1284.9,304.8 1287.6,306.9 1290.4,305.6 1292.9,306.9 1295.9,308.1 1298.2,310.6 1300.7,315.6 1303.2,311.9 1305.8,306.4 1308.1,303.1 1310.8,308.9 1313.6,309.2 1316.1,316.4 1318.6,313.9 1321.1,309.7 1323.9,301.4 1326.4,300.6 1329.1,299.5 1331.9,306.4 1334.4,310.6 1337.2,312.6 1339.7,311.9 1342.3,304.8 1345.2,307.3 1347.7,310.6 1350.1,317.2 1352.6,319.4 1355.1,315.6 1357.6,302.3 1360.1,289 1362.9,274 1365.6,272.1 1368.1,282.4 1370.9,302.3 1373.7,313.6 1376.2,305.6 1378.4,277.4 1380.9,250.5 1383.8,250.3 1386.7,252.1 1389.2,265.7 1391.6,273.2 1394.1,276.5 1397,277.7 1399.4,273.7 1402.1,274.9 1404.9,278.7 1407.4,277.9 1409.9,279.4 1412.7,267.4 1415.2,269.4 1417.9,276.5 1420.4,311.4 1423.2,310.6 1426,310.9 1428.7,302.3 1431.5,295.3 1434,299 1436.8,302.6 1439.3,294 1442,291 1444.4,290.3 1446.9,293.1 1449.4,313.6 1452.2,313.9 1454.7,308.9 1457.2,305.6 1460,288.2 1462.5,295.6 1465.2,303.9 1468,297.3 1470.5,284 1473.3,272.7 1475.8,280.7 1478.5,295.6 1481,297.3 1483.5,291.5 1486.3,285.7 1488.8,277.4 1491.6,275.7 1494.1,287.3 1496.7,278.7 1499.2,305.6 1501.7,307.3 1504.5,314.7 1507,317.7 1509.9,318.5 1512.3,313.9 1515,309.7 1517.5,308.1 1520.3,306.4 1522.8,308.1 1525.6,305.6 1528.3,308.6 1530.8,312.6 1533.6,312.2 1536.4,306.9 1538.9,305.6 1541.6,304.3 1544.4,304.8 1547.2,305.6 1550.5,307.3 1553,305.9 1555,305.6 1557.1,310.2 1559.6,295.6 1562.1,294.3 1564.6,294.8 1567.1,306.4 1569.9,307.3 1572.6,315.2 1575.1,315.2 1577.9,313.1 1580.4,296.5 1582.9,295.6 1585.7,289.8 1588.3,303.1 1591.2,304.8 1593.7,306.4 1596.1,303.9 1598.6,304.8 1601.5,302.3 1604.4,300.1 1607.3,299.9 1609.9,300.9 1612.7,303.1 1615.2,306.9 1617.7,309.2 1620.6,310.6 1623,311.9 1625.5,311.9 1628,305.6 1630.5,302.3 1633.2,298.1 1636,299 1638.8,303.1 1641.3,307.8 1643.8,305.3 1646.3,307.3 1648.8,303.1 1651.3,301.9 1653.9,300.9 1656.7,299.3 1659.2,300.6 1661.7,303.9 1664.2,305.9 1666.7,308.1 1669.5,310.6 1672.2,305.9 1675,310.2 1677.5,313.1 1680.3,310.6 1682.8,309.7 1685.3,308.9 1688,303.6 1690.4,307.3 1692.9,308.1 1695.8,305.3 1698.2,305.3 1701.1,303.9 1703.6,307.3 1706.2,309.7 1708.7,309.2 1711.2,303.9 1714,300.6 1716.5,302.6 1719,310.6 1721.8,315.2 1724.5,314.7 1727.3,307.6 1729.8,309.7 1732.3,310.2 1734.8,310.9 1737.6,315.9 1740.3,315.6 1742.7,313.9 1745.6,317.2 1748.4,313.6 1750.9,310.9 1753.5,308.1 1756,302.6 1758.8,303.1 1761.3,305.3 1764.2,312.6 1766.6,315.6 1769.3,314.7 1772.1,312.2 1774.6,311.4 1777.1,311.9 1779.9,313.6 1782.4,314.7 1785.1,314.7 1787.6,312.2 1790.1,304.8 1792.5,300.6 1795.4,300.6 1797.9,301.4 1800.4,312.2 1803.3,319.7 1805.8,317.2 1808.3,308.9 1811.1,304.8 1813.6,300.6 1816.1,302.3 1818.9,309.7 1821.6,305.9 1824.1,303.6 1827,305.3 1830,305.9 1832.5,304.8 1835,310.6 1837.5,313.1 1840.3,315.2 1842.9,314.7 1845.4,313.6 1847.9,310.6 1850.4,310.2 1852.9,318 1855.7,323 1858.2,322.5 1861,316.4 1863.5,309.7 1866,303.1 1868.5,300.9 1871.2,301.1 1873.6,305.6 1876.1,306.4 1878.6,306.4 1881.4,310.6 1884.3,314.2 1887.3,317.5 1890.1,315.2 1892.6,314.7 1895.1,307.3 1897.7,304.8 1900.2,301.9 1903,303.6 1905.5,304.8 1908,312.6 1910.8,312.6 1913.3,306.9 1915.8,301.9 1918.5,300.3 1921.3,302.3 1923.8,306.4 1926.3,311.4 1929.1,315.9 1931.6,316.4 1934.1,313.9 1936.6,308.9 1939.6,305.6 1942.4,301.1 1945,304.8 1947.5,307.3 1950,312.6 1952.8,317.5 1955.7,319.2 1957.8,311.9 1960.3,311.9 1963.1,312.6 1965.8,319.7 1968.6,326.8 1971.1,323.9 1973.6,316.4 1976.1,309.7 1978.6,303.9 1981.1,300.6 1983.9,304.8 1986.4,305.9 1989,313.6 1991.9,314.7 1994.3,308.9 1997.2,303.1 1999.7,304.8 2002.3,305.3 2004.8,311.9 2007.6,313.6 2010.1,311.9 2012.9,308.1 2015.6,304.8 2018.1,307.3 2020.9,311.4 2023.4,310.6 2025.9,311.4 2028.4,310.2 2031.2,305.3 2033.9,305.6 2036.7,305.6 2039.2,305.3 2041.7,306.9 2044.5,304.3 2047,303.6 2049.6,302.8 2052.4,302.6 2055.3,307.3 2057.9,311.4 2060.4,314.7 2062.9,315.9 2065.4,314.7 2068.2,313.9 2070.7,313.9 2073.5,307.3 2076,307.3 2078.5,304.3 2081.2,302.3 2084,305.9 2086.8,306.4 2089,304.3 2091.8,308.9 2094.3,313.6 2096.8,315.9 2099.3,315.2 2101.9,311.4 2104.7,309.7 2107.7,308.9" stroke="#2e6ba5" stroke-width="2.1" fill="none" stroke-linejoin="round" stroke-linecap="round"/>
<path d="M1475.4,281 1476.8,283.3 1478.2,285.4 1479.6,287.3 1481,289.1 1482.4,290.7 1483.8,292.2 1485.2,293.6 1486.6,294.8 1488,296 1489.4,297 1490.8,298 1492.2,298.9 1493.6,299.7 1495.1,300.4 1496.5,301.1 1497.9,301.7 1499.3,302.3 1500.7,302.8 1502.1,303.3 1503.5,303.8 1504.9,304.2 1506.3,304.5 1507.7,304.9 1509.1,305.2 1510.5,305.5 1511.9,305.7 1513.3,306 1514.7,306.2 1516.2,306.4 1517.6,306.6 1519,306.7 1520.4,306.9 1521.8,307 1523.2,307.2 1524.6,307.3 1526,307.4 1527.4,307.5 1528.8,307.6 1530.2,307.7 1531.6,307.7 1533,307.8 1534.4,307.9 1535.9,307.9 1537.3,308 1538.7,308 1540.1,308.1 1541.5,308.1 1542.9,308.2 1544.3,308.2 1545.7,308.2 1547.1,308.3 1548.5,308.3 1549.9,308.3 1551.3,308.3 1552.7,308.4 1554.1,308.4 1555.6,308.4 1557,308.4 1558.4,308.4 1559.8,308.5 1561.2,308.5 1562.6,308.5 1564,308.5 1565.4,308.5 1566.8,308.5 1568.2,308.5 1569.6,308.5 1571,308.5 1572.4,308.5 1573.8,308.5 1575.3,308.5 1576.7,308.5 1578.1,308.6 1579.5,308.6 1580.9,308.6 1582.3,308.6 1583.7,308.6 1585.1,308.6 1586.5,308.6 1587.9,308.6 1589.3,308.6 1590.7,308.6 1592.1,308.6 1593.5,308.6 1594.9,308.6 1596.4,308.6 1597.8,308.6 1599.2,308.6 1600.6,308.6 1602,308.6 1603.4,308.6 1604.8,308.6 1606.2,308.6 1607.6,308.6 1609,308.6 1610.4,308.6 1611.8,308.6 1613.2,308.6 1614.6,308.6 1616.1,308.6 1623.1,308.6 1630.1,308.6 1637.2,308.6 1644.2,308.6 1651.2,308.6 1658.3,308.6 1665.3,308.6 1672.3,308.6 1679.4,308.6 1686.4,308.6 1693.4,308.6 1700.5,308.6 1707.5,308.6 1714.5,308.6 1721.6,308.6 1728.6,308.6 1735.6,308.6 1742.7,308.6 1749.7,308.6 1756.8,308.6 1763.8,308.6 1770.8,308.6 1777.9,308.6 1784.9,308.6 1791.9,308.6 1799,308.6 1806,308.6 1813,308.6 1820.1,308.6 1827.1,308.6 1834.1,308.6 1841.2,308.6 1848.2,308.6 1855.2,308.6 1862.3,308.6 1869.3,308.6 1876.3,308.6 1883.4,308.6 1890.4,308.6 1897.5,308.6 1904.5,308.6 1911.5,308.6 1918.6,308.6 1925.6,308.6 1932.6,308.6 1939.7,308.6 1946.7,308.6 1953.7,308.6 1960.8,308.6 1967.8,308.6 1974.8,308.6 1981.9,308.6 1988.9,308.6 1995.9,308.6 2003,308.6 2010,308.6 2017,308.6 2024.1,308.6 2031.1,308.6 2038.2,308.6 2045.2,308.6 2052.2,308.6 2059.3,308.6 2066.3,308.6 2073.3,308.6 2080.4,308.6 2087.4,308.6 2094.4,308.6 2101.5,308.6 2107.8,308.6" stroke="#c9302c" stroke-width="2.3" fill="none" stroke-linejoin="round" stroke-linecap="round"/>
<path d="M1272.6,209 H1263.6 V335.8 H2107.8" stroke="#3a3a3a" stroke-width="1.4" fill="none"/>
<line x1="1263.6" y1="328" x2="1272.6" y2="328" stroke="#3a3a3a" stroke-width="1.4"/>
<text x="1253.6" y="225" font-size="31.5" text-anchor="end">75</text>
<text x="1253.3" y="331.8" font-size="31.5" text-anchor="end">0</text>
<rect x="1333.9" y="345.7" width="139.6" height="126.6" fill="#ececfb"/>
<rect x="1545.3" y="345.7" width="6" height="126.6" fill="#fdebe4"/>
<rect x="1299.2" y="345.7" width="6.2" height="126.6" fill="#ebebeb"/>
<rect x="1404.7" y="345.7" width="6.2" height="126.6" fill="#dcdce8"/>
<rect x="1510.2" y="345.7" width="6.2" height="126.6" fill="#ebebeb"/>
<rect x="2073" y="345.7" width="6.2" height="126.6" fill="#ebebeb"/>
<path d="M1266.3,443.3 1268.8,438.6 1271.6,437.9 1274.3,439.9 1276.8,438.3 1279.6,442.4 1282.1,442.9 1284.6,443.6 1287.4,447.9 1289.9,448.6 1292.5,446.6 1295.4,445.2 1297.8,445.7 1300.7,443.3 1303.2,441.9 1305.8,440.8 1308.3,442.4 1310.8,439.6 1313.6,441.6 1316.1,441.6 1318.9,440.8 1321.4,441.9 1323.9,444.1 1326.4,441.6 1329.1,443.3 1331.9,446.6 1334.4,444.1 1336.9,441.6 1339.4,436.1 1342.2,436.3 1344.8,446.2 1347.7,438.3 1350.1,437.9 1352.6,435.3 1355.1,435 1357.6,431.3 1360.4,440.8 1362.9,441.3 1365.6,448.6 1368.4,445.7 1370.9,445.7 1373.4,439.6 1374.7,420 1376.2,400.4 1378.7,415.9 1381.7,416.2 1384.2,407.6 1387,403.4 1389.5,386.8 1392.1,389.8 1395,401.7 1397.8,413.4 1400.4,424.2 1402.9,427 1405.4,411.7 1408.2,402.6 1410.4,386 1412.9,406.7 1415.4,420 1418.2,418.4 1420.7,415.9 1423.5,406.7 1426,388.8 1428.7,395.1 1431.5,400.9 1434,412.5 1436.5,430 1439,426.7 1441.5,415.9 1444.3,413.9 1446.9,413.4 1449.8,411.7 1452.2,423.3 1454.7,430 1457.6,419.2 1460,424.2 1462.7,425 1465.5,424.2 1468,425.8 1470.5,414.2 1473.3,395.4 1476,396.8 1478.5,442.9 1481,416.4 1483.5,418.4 1486.3,413.9 1488.8,409.2 1491.6,420 1494.1,415 1496.6,413.7 1499.1,418.4 1501.7,415.9 1504.5,411.7 1507.4,406.7 1509.9,402.6 1512.5,413.4 1515.3,422.5 1517.8,423 1520.3,418.4 1523.1,405.4 1525.8,415 1528.3,431.6 1530.8,435 1533.3,450.7 1536.1,448.2 1538.6,446.2 1541.4,447.9 1544.1,444.9 1546.9,438.3 1548,437.4 1549.7,423.3 1551.7,408.7 1554.3,420 1556.6,436.6 1559.3,439.9 1562.1,446.6 1564.6,452.4 1567.1,444.1 1569.6,441.3 1572.9,441.9 1575.4,424.7 1577.9,430.8 1580.7,436.3 1583.2,428 1585.9,420 1588.3,444.6 1590.8,441.9 1593.7,446.2 1596.5,448.2 1599.1,448.6 1601.6,444.1 1604.4,443.6 1606.9,440.8 1609.4,435.8 1611.9,435.3 1614.7,437.9 1617.4,441.6 1619.9,448.6 1622.7,454.9 1625.2,451.6 1628,447.4 1630.5,447.4 1633,448.2 1636,449.9 1638.5,449.9 1641,452.4 1643.5,450.7 1646.3,454 1648.9,451.2 1651.8,446.6 1654.3,440.3 1656.7,437.9 1659.6,435 1662.1,434.5 1664.5,433.3 1667.5,438.3 1670,439.1 1672.8,444.9 1675.3,448.2 1677.8,446.6 1680.3,443.3 1682.8,442.4 1685.5,438.3 1688,443.6 1690.8,446.2 1693.3,445.7 1695.8,448.6 1698.6,450.7 1701.1,451.9 1703.7,450.7 1706.2,446.2 1708.7,447.4 1711.2,449.9 1713.7,451.9 1716.5,452.7 1719,451.6 1721.8,449.6 1724.3,452.9 1727,451.6 1729.8,449.9 1732.3,448.6 1735.1,448.6 1737.8,448.2 1740.6,447.9 1743.1,451.6 1745.6,449.9 1748.4,447.9 1750.9,445.7 1753.5,443.3 1756,439.9 1758.5,445.7 1761,452.4 1763.8,454 1766.3,454.9 1769.1,454.5 1771.6,450.7 1774.1,445.7 1776.8,446.2 1779.3,444.1 1782.1,441.3 1784.6,447.4 1787.1,454 1789.9,454 1792.5,453.2 1795.4,455.2 1797.9,448.6 1800.4,449.9 1803.2,451.9 1805.8,451.6 1808.7,450.7 1811.1,448.6 1813.6,443.3 1816.5,437.9 1819.1,440.8 1821.9,441.9 1824.4,444.6 1827,441.9 1829.6,449.9 1832,449.1 1834.6,454.9 1837.5,454.9 1840.3,451.6 1842.9,446.2 1845.3,451.9 1847.9,447.4 1850.4,450.7 1852.9,450.9 1855.2,449.6 1857.7,444.6 1860.2,446.6 1863.2,442.1 1866,444.9 1868.5,446.9 1871.2,445.2 1873.6,444.6 1876.1,444.9 1878.6,445.2 1881.4,443.3 1883.9,446.2 1886.8,441.3 1889.4,443.3 1891.9,446.6 1894.7,448.6 1897.6,448.2 1900,449.6 1902.5,444.1 1905.2,444.6 1908,445.7 1910.8,446.2 1913.3,446.6 1915.8,443.3 1918.3,441.6 1921,443.6 1923.8,442.4 1926.6,445.7 1929.1,449.1 1931.8,448.6 1934.6,448.6 1937.1,443.3 1939.6,437.4 1942.4,437.1 1944.9,440.3 1947.5,441.3 1950.3,444.1 1952.8,447.4 1955.7,447.9 1958.1,446.9 1960.8,446.6 1963.6,445.7 1966.1,449.9 1968.6,455.2 1971.1,456 1973.6,454 1976.1,456.5 1978.9,454 1981.4,451.2 1984,447.9 1986.5,446.9 1989.4,445.7 1991.9,447.9 1994.3,445.7 1997.2,449.9 1999.7,451.2 2002.6,455.7 2005.1,448.6 2007.6,442.4 2010.4,438.3 2012.9,441.6 2015.6,445.7 2018.1,446.2 2020.9,444.9 2023.4,444.1 2026.2,442.4 2028.9,444.1 2031.4,444.9 2033.9,449.9 2036.7,450.4 2039.2,451.1 2042,450.7 2044.5,449.1 2047.1,447.4 2049.6,452.4 2052.4,447.4 2055.3,445.7 2057.8,444.1 2060.4,449.9 2062.9,454 2065.4,456.5 2067.9,451.6 2070.4,439.9 2072.9,432.1 2075.7,434.6 2078.5,437.4 2081.5,440.8 2084,440.8 2086.8,439.6 2089.3,441.6 2092,445.7 2094.3,449.1 2096.8,451.9 2099.3,452.9 2101.9,454 2104.7,452.1 2107.7,453.2" stroke="#2e6ba5" stroke-width="2.1" fill="none" stroke-linejoin="round" stroke-linecap="round"/>
<path d="M1475.4,408.1 1476.8,408.9 1478.2,409.8 1479.6,410.6 1481,411.4 1482.4,412.1 1483.8,412.9 1485.2,413.6 1486.6,414.3 1488,415 1489.4,415.7 1490.8,416.4 1492.2,417.1 1493.6,417.7 1495.1,418.4 1496.5,419 1497.9,419.6 1499.3,420.2 1500.7,420.8 1502.1,421.3 1503.5,421.9 1504.9,422.4 1506.3,423 1507.7,423.5 1509.1,424 1510.5,424.5 1511.9,425 1513.3,425.5 1514.7,425.9 1516.2,426.4 1517.6,426.8 1519,427.3 1520.4,427.7 1521.8,428.1 1523.2,428.5 1524.6,428.9 1526,429.3 1527.4,429.7 1528.8,430.1 1530.2,430.5 1531.6,430.8 1533,431.2 1534.4,431.5 1535.9,431.8 1537.3,432.2 1538.7,432.5 1540.1,432.8 1541.5,433.1 1542.9,433.4 1544.3,433.7 1545.7,434 1547.1,434.3 1548.5,434.6 1549.9,434.8 1551.3,435.1 1552.7,435.4 1554.1,435.6 1555.6,435.9 1557,436.1 1558.4,436.4 1559.8,436.6 1561.2,436.8 1562.6,437 1564,437.3 1565.4,437.5 1566.8,437.7 1568.2,437.9 1569.6,438.1 1571,438.3 1572.4,438.5 1573.8,438.7 1575.3,438.8 1576.7,439 1578.1,439.2 1579.5,439.4 1580.9,439.5 1582.3,439.7 1583.7,439.9 1585.1,440 1586.5,440.2 1587.9,440.3 1589.3,440.5 1590.7,440.6 1592.1,440.8 1593.5,440.9 1594.9,441 1596.4,441.2 1597.8,441.3 1599.2,441.4 1600.6,441.6 1602,441.7 1603.4,441.8 1604.8,441.9 1606.2,442 1607.6,442.1 1609,442.2 1610.4,442.3 1611.8,442.5 1613.2,442.6 1614.6,442.7 1616.1,442.8 1623.1,443.2 1630.1,443.6 1637.2,444 1644.2,444.3 1651.2,444.6 1658.3,444.9 1665.3,445.1 1672.3,445.3 1679.4,445.5 1686.4,445.7 1693.4,445.9 1700.5,446 1707.5,446.1 1714.5,446.2 1721.6,446.3 1728.6,446.4 1735.6,446.5 1742.7,446.6 1749.7,446.6 1756.8,446.7 1763.8,446.7 1770.8,446.8 1777.9,446.8 1784.9,446.9 1791.9,446.9 1799,446.9 1806,447 1813,447 1820.1,447 1827.1,447 1834.1,447 1841.2,447.1 1848.2,447.1 1855.2,447.1 1862.3,447.1 1869.3,447.1 1876.3,447.1 1883.4,447.1 1890.4,447.1 1897.5,447.1 1904.5,447.1 1911.5,447.2 1918.6,447.2 1925.6,447.2 1932.6,447.2 1939.7,447.2 1946.7,447.2 1953.7,447.2 1960.8,447.2 1967.8,447.2 1974.8,447.2 1981.9,447.2 1988.9,447.2 1995.9,447.2 2003,447.2 2010,447.2 2017,447.2 2024.1,447.2 2031.1,447.2 2038.2,447.2 2045.2,447.2 2052.2,447.2 2059.3,447.2 2066.3,447.2 2073.3,447.2 2080.4,447.2 2087.4,447.2 2094.4,447.2 2101.5,447.2 2107.8,447.2" stroke="#c9302c" stroke-width="2.3" fill="none" stroke-linejoin="round" stroke-linecap="round"/>
<path d="M1272.6,345.2 H1263.6 V472.3 H2107.8" stroke="#3a3a3a" stroke-width="1.4" fill="none"/>
<line x1="1263.6" y1="464.3" x2="1272.6" y2="464.3" stroke="#3a3a3a" stroke-width="1.4"/>
<text x="1253.6" y="361.2" font-size="31.5" text-anchor="end">75</text>
<text x="1253.3" y="468.1" font-size="31.5" text-anchor="end">0</text>
<line x1="1263.6" y1="472.3" x2="1263.6" y2="463.8" stroke="#3a3a3a" stroke-width="1.4"/>
<text x="1262.1" y="509.5" font-size="31.5" text-anchor="middle">0</text>
<line x1="1333.9" y1="472.3" x2="1333.9" y2="463.8" stroke="#3a3a3a" stroke-width="1.4"/>
<text x="1332.4" y="509.5" font-size="31.5" text-anchor="middle">5</text>
<line x1="1404.3" y1="472.3" x2="1404.3" y2="463.8" stroke="#3a3a3a" stroke-width="1.4"/>
<text x="1404.3" y="509.5" font-size="31.5" text-anchor="middle">10</text>
<line x1="1474.6" y1="472.3" x2="1474.6" y2="463.8" stroke="#3a3a3a" stroke-width="1.4"/>
<text x="1474.6" y="509.5" font-size="31.5" text-anchor="middle">15</text>
<line x1="1545" y1="472.3" x2="1545" y2="463.8" stroke="#3a3a3a" stroke-width="1.4"/>
<text x="1545" y="509.5" font-size="31.5" text-anchor="middle">20</text>
<line x1="1615.3" y1="472.3" x2="1615.3" y2="463.8" stroke="#3a3a3a" stroke-width="1.4"/>
<text x="1615.3" y="509.5" font-size="31.5" text-anchor="middle">25</text>
<line x1="1685.7" y1="472.3" x2="1685.7" y2="463.8" stroke="#3a3a3a" stroke-width="1.4"/>
<text x="1685.7" y="509.5" font-size="31.5" text-anchor="middle">30</text>
<line x1="1756" y1="472.3" x2="1756" y2="463.8" stroke="#3a3a3a" stroke-width="1.4"/>
<text x="1756" y="509.5" font-size="31.5" text-anchor="middle">35</text>
<line x1="1826.4" y1="472.3" x2="1826.4" y2="463.8" stroke="#3a3a3a" stroke-width="1.4"/>
<text x="1826.4" y="509.5" font-size="31.5" text-anchor="middle">40</text>
<line x1="1896.8" y1="472.3" x2="1896.8" y2="463.8" stroke="#3a3a3a" stroke-width="1.4"/>
<text x="1896.8" y="509.5" font-size="31.5" text-anchor="middle">45</text>
<line x1="1967.1" y1="472.3" x2="1967.1" y2="463.8" stroke="#3a3a3a" stroke-width="1.4"/>
<text x="1967.1" y="509.5" font-size="31.5" text-anchor="middle">50</text>
<line x1="2037.4" y1="472.3" x2="2037.4" y2="463.8" stroke="#3a3a3a" stroke-width="1.4"/>
<text x="2037.4" y="509.5" font-size="31.5" text-anchor="middle">55</text>
<line x1="2107.8" y1="472.3" x2="2107.8" y2="463.8" stroke="#3a3a3a" stroke-width="1.4"/>
<text x="2107.8" y="509.5" font-size="31.5" text-anchor="middle">60</text>
<text x="1685.7" y="546.5" font-size="31.5" text-anchor="middle">time (s)</text>
<text x="703" y="41.6" font-size="35.3" text-anchor="middle" font-weight="bold" style="fill:#2a2a2a;stroke:#2a2a2a;">no distractor</text>
<text x="1686.9" y="34" font-size="35.3" text-anchor="middle" font-weight="bold" style="fill:#2a2a2a;stroke:#2a2a2a;">distractor</text>
<rect x="954.8" y="73.2" width="29.5" height="29.7" fill="#cfcff0"/>
<text x="988.3" y="100.5" font-size="32.5" style="letter-spacing:-1.5px;">CS</text>
<rect x="1046.2" y="73.2" width="29.5" height="29.7" fill="#fdd3bf"/>
<text x="1080.5" y="100.5" font-size="32.5" style="letter-spacing:-1.5px;">US</text>
<rect x="1882" y="73.2" width="29.8" height="29.7" fill="#cccccc"/>
<text x="1919" y="100.4" font-size="31.7">distractor</text>
<line x1="115.3" y1="58" x2="115.3" y2="462" stroke="#3a3a3a" stroke-width="4.2"/>
<path d="M96.5,453 L115.3,462.5 L134,453 L115.3,486 Z" fill="#3a3a3a"/>
<text x="143" y="142.5" font-size="38" text-anchor="middle">1</text>
<text x="143" y="279" font-size="38" text-anchor="middle">4</text>
<text x="143" y="415.5" font-size="38" text-anchor="middle">7</text>
<text x="90" y="265.5" font-size="39.7" text-anchor="middle" transform="rotate(-90 90 265.5)">training trials</text>
<text x="212.5" y="268" font-size="31.5" text-anchor="middle" transform="rotate(-90 212.5 268)">dF/F (%)</text>
<text x="-1" y="31.5" font-size="55" style="fill:#000000;stroke:#000000;">a</text>
<text x="-1" y="656.5" font-size="55" style="fill:#000000;stroke:#000000;">b</text>
<text x="1030" y="656.5" font-size="55" style="fill:#000000;stroke:#000000;">c</text>
<text x="1624" y="660.5" font-size="55" style="fill:#000000;stroke:#000000;">d</text>
<text x="-2" y="1194.5" font-size="55" style="fill:#000000;stroke:#000000;">e</text>
<text x="1630" y="1164" font-size="55" style="fill:#000000;stroke:#000000;">f</text>
<text x="-2" y="1850" font-size="55" style="fill:#000000;stroke:#000000;">g</text>
<text x="1607" y="1849.5" font-size="55" style="fill:#000000;stroke:#000000;">h</text>
<path d="M183.9,745.9 189.8,864.2 195.8,880.6 201.7,881.7 207.6,891.1 213.6,898.1 219.5,904 225.4,906.9 231.3,909.2 237.2,911 243.2,912.3 249.1,913.4 255,914.3 260.9,915 266.9,915.7 272.8,916.3 278.7,916.8 284.6,917.3 290.6,917.7 296.5,918 302.4,918.4 308.4,918.8 314.3,919.1 320.2,919.3 326.1,919.6 332,919.8 338,920.1 343.9,920.3 349.8,920.5 355.8,920.6 361.7,920.8 367.6,921 373.5,921.1 379.4,921.3 385.4,921.4 391.3,921.5 397.2,921.6 403.1,921.7 409.1,921.9 415,922 420.9,922 426.9,922.1 432.8,922.2 438.7,922.3 444.6,922.4 450.6,922.5 456.5,922.5 462.4,922.6 468.3,922.7 474.2,922.7" stroke="#3b4098" stroke-width="1.05" fill="none" stroke-linejoin="round" stroke-linecap="round"/>
<path d="M183.9,745.9 189.8,867.7 195.8,882.9 201.7,885.3 207.6,894.6 213.6,900.5 219.5,905.2 225.4,908.1 231.3,910.4 237.2,912.2 243.2,913.3 249.1,914.3 255,915.1 260.9,915.8 266.9,916.4 272.8,916.9 278.7,917.4 284.6,917.8 290.6,918.2 296.5,918.5 302.4,918.9 308.4,919.3 314.3,919.7 320.2,920 326.1,920.3 332,920.6 338,920.8 343.9,921.1 349.8,921.3 355.8,921.5 361.7,921.7 367.6,921.9 373.5,922.1 379.4,922.2 385.4,922.4 391.3,922.5 397.2,922.6 403.1,922.8 409.1,922.9 415,923 420.9,923.1 426.9,923.2 432.8,923.3 438.7,923.4 444.6,923.5 450.6,923.6 456.5,923.7 462.4,923.8 468.3,923.8 474.2,923.9" stroke="#3b4098" stroke-width="1.05" fill="none" stroke-linejoin="round" stroke-linecap="round"/>
<path d="M183.9,745.9 189.8,870 195.8,885.3 201.7,892.3 207.6,898.1 213.6,902.8 219.5,906.3 225.4,909 231.3,911 237.2,912.7 243.2,913.9 249.1,914.8 255,915.7 260.9,916.4 266.9,917 272.8,917.6 278.7,918.1 284.6,918.5 290.6,918.9 296.5,919.2 302.4,919.6 308.4,920 314.3,920.4 320.2,920.7 326.1,921 332,921.3 338,921.5 343.9,921.8 349.8,922 355.8,922.2 361.7,922.4 367.6,922.6 373.5,922.8 379.4,922.9 385.4,923.1 391.3,923.2 397.2,923.3 403.1,923.5 409.1,923.6 415,923.7 420.9,923.8 426.9,923.9 432.8,924 438.7,924.1 444.6,924.2 450.6,924.3 456.5,924.4 462.4,924.5 468.3,924.5 474.2,924.6" stroke="#3b4098" stroke-width="1.05" fill="none" stroke-linejoin="round" stroke-linecap="round"/>
<path d="M183.9,745.9 189.8,873.5 195.8,887.6 201.7,898.1 207.6,900.5 213.6,905.2 219.5,908 225.4,910.3 231.3,912.1 237.2,913.6 243.2,914.7 249.1,915.6 255,916.4 260.9,917.1 266.9,917.7 272.8,918.2 278.7,918.6 284.6,919 290.6,919.4 296.5,919.7 302.4,920.2 308.4,920.6 314.3,921 320.2,921.3 326.1,921.6 332,921.9 338,922.2 343.9,922.5 349.8,922.7 355.8,922.9 361.7,923.1 367.6,923.3 373.5,923.5 379.4,923.7 385.4,923.9 391.3,924 397.2,924.2 403.1,924.3 409.1,924.4 415,924.6 420.9,924.7 426.9,924.8 432.8,924.9 438.7,925 444.6,925.1 450.6,925.2 456.5,925.3 462.4,925.4 468.3,925.5 474.2,925.5" stroke="#3b4098" stroke-width="1.05" fill="none" stroke-linejoin="round" stroke-linecap="round"/>
<path d="M183.9,745.9 189.8,876.4 195.8,888.8 201.7,901 207.6,899.3 213.6,907 219.5,908.9 225.4,911.1 231.3,912.7 237.2,914.1 243.2,915.1 249.1,916 255,916.8 260.9,917.4 266.9,918 272.8,918.5 278.7,918.9 284.6,919.3 290.6,919.6 296.5,919.9 302.4,920.4 308.4,920.9 314.3,921.3 320.2,921.7 326.1,922 332,922.4 338,922.7 343.9,922.9 349.8,923.2 355.8,923.4 361.7,923.7 367.6,923.9 373.5,924.1 379.4,924.3 385.4,924.4 391.3,924.6 397.2,924.8 403.1,924.9 409.1,925.1 415,925.2 420.9,925.3 426.9,925.4 432.8,925.6 438.7,925.7 444.6,925.8 450.6,925.9 456.5,926 462.4,926.1 468.3,926.2 474.2,926.2" stroke="#3b4098" stroke-width="1.05" fill="none" stroke-linejoin="round" stroke-linecap="round"/>
<path d="M183.9,745.9 189.8,865.4 195.8,886.4 201.7,904 207.6,906.6 213.6,908 219.5,909.8 225.4,911.8 231.3,913.3 237.2,914.5 243.2,915.6 249.1,916.4 255,917.1 260.9,917.7 266.9,918.3 272.8,918.7 278.7,919.2 284.6,919.5 290.6,919.9 296.5,920.2 302.4,920.7 308.4,921.1 314.3,921.6 320.2,922 326.1,922.3 332,922.7 338,923 343.9,923.3 349.8,923.5 355.8,923.8 361.7,924 367.6,924.3 373.5,924.5 379.4,924.7 385.4,924.8 391.3,925 397.2,925.2 403.1,925.3 409.1,925.5 415,925.6 420.9,925.8 426.9,925.9 432.8,926 438.7,926.1 444.6,926.2 450.6,926.3 456.5,926.4 462.4,926.5 468.3,926.6 474.2,926.7" stroke="#3b4098" stroke-width="1.05" fill="none" stroke-linejoin="round" stroke-linecap="round"/>
<path d="M183.9,745.9 189.8,868.9 195.8,881.7 201.7,888.8 207.6,897 213.6,901.7 219.5,905.9 225.4,908.3 231.3,910.2 237.2,911.7 243.2,912.9 249.1,913.9 255,914.8 260.9,915.5 266.9,916.1 272.8,916.6 278.7,917.1 284.6,917.6 290.6,917.9 296.5,918.3 302.4,918.7 308.4,919.1 314.3,919.4 320.2,919.7 326.1,920 332,920.3 338,920.5 343.9,920.7 349.8,920.9 355.8,921.1 361.7,921.3 367.6,921.5 373.5,921.7 379.4,921.8 385.4,922 391.3,922.1 397.2,922.2 403.1,922.3 409.1,922.5 415,922.6 420.9,922.7 426.9,922.8 432.8,922.9 438.7,923 444.6,923.1 450.6,923.1 456.5,923.2 462.4,923.3 468.3,923.4 474.2,923.4" stroke="#3b4098" stroke-width="1.05" fill="none" stroke-linejoin="round" stroke-linecap="round"/>
<path d="M178,734.2 V968.4 H474.2" stroke="#3a3a3a" stroke-width="1.2" fill="none"/>
<line x1="178" y1="734.2" x2="181.2" y2="734.2" stroke="#3a3a3a" stroke-width="1.2"/>
<text x="169.2" y="745.5" font-size="31.5" text-anchor="end">5</text>
<line x1="178" y1="792.8" x2="181.2" y2="792.8" stroke="#3a3a3a" stroke-width="1.2"/>
<text x="169.2" y="804" font-size="31.5" text-anchor="end">2.5</text>
<line x1="178" y1="851.3" x2="181.2" y2="851.3" stroke="#3a3a3a" stroke-width="1.2"/>
<text x="169.2" y="862.6" font-size="31.5" text-anchor="end">0</text>
<line x1="178" y1="909.8" x2="181.2" y2="909.8" stroke="#3a3a3a" stroke-width="1.2"/>
<text x="169.2" y="921.1" font-size="31.5" text-anchor="end">-2.5</text>
<text x="169.2" y="979.7" font-size="31.5" text-anchor="end">-5</text>
<text x="180.5" y="1002.6" font-size="31.5" text-anchor="middle">0</text>
<line x1="237.2" y1="968.4" x2="237.2" y2="965.2" stroke="#3a3a3a" stroke-width="1.2"/>
<text x="239.2" y="1002.6" font-size="31.5" text-anchor="middle">10</text>
<line x1="296.5" y1="968.4" x2="296.5" y2="965.2" stroke="#3a3a3a" stroke-width="1.2"/>
<text x="298.5" y="1002.6" font-size="31.5" text-anchor="middle">20</text>
<line x1="355.8" y1="968.4" x2="355.8" y2="965.2" stroke="#3a3a3a" stroke-width="1.2"/>
<text x="357.8" y="1002.6" font-size="31.5" text-anchor="middle">30</text>
<line x1="415" y1="968.4" x2="415" y2="965.2" stroke="#3a3a3a" stroke-width="1.2"/>
<text x="417" y="1002.6" font-size="31.5" text-anchor="middle">40</text>
<line x1="474.2" y1="968.4" x2="474.2" y2="965.2" stroke="#3a3a3a" stroke-width="1.2"/>
<text x="476.2" y="1002.6" font-size="31.5" text-anchor="middle">50</text>
<path d="M604.2,742.9 610.1,861 616.1,872.2 622,880.8 627.9,890.2 633.8,894.4 639.8,898.6 645.7,901.9 651.6,904.5 657.5,906.5 663.5,908 669.4,909.3 675.3,910.3 681.2,911.2 687.2,912 693.1,912.7 699,913.3 704.9,913.8 710.9,914.3 716.8,914.7 722.7,915.3 728.6,915.8 734.6,916.3 740.5,916.7 746.4,917.1 752.3,917.4 758.3,917.8 764.2,918.1 770.1,918.4 776,918.6 782,918.9 787.9,919.1 793.8,919.3 799.8,919.5 805.7,919.7 811.6,919.9 817.5,920.1 823.4,920.3 829.4,920.4 835.3,920.6 841.2,920.7 847.1,920.9 853.1,921 859,921.1 864.9,921.2 870.8,921.3 876.8,921.4 882.7,921.6 888.6,921.7 894.5,921.7" stroke="#cb2f27" stroke-width="1.05" fill="none" stroke-linejoin="round" stroke-linecap="round"/>
<path d="M604.2,742.9 610.1,865.6 616.1,876.2 622,883.2 627.9,892.5 633.8,896 639.8,900 645.7,903.1 651.6,905.5 657.5,907.5 663.5,908.9 669.4,910.1 675.3,911.2 681.2,912 687.2,912.8 693.1,913.4 699,914 704.9,914.6 710.9,915 716.8,915.4 722.7,916 728.6,916.4 734.6,916.9 740.5,917.3 746.4,917.6 752.3,918 758.3,918.3 764.2,918.6 770.1,918.8 776,919.1 782,919.3 787.9,919.5 793.8,919.7 799.8,919.9 805.7,920.1 811.6,920.3 817.5,920.4 823.4,920.6 829.4,920.7 835.3,920.9 841.2,921 847.1,921.1 853.1,921.3 859,921.4 864.9,921.5 870.8,921.6 876.8,921.7 882.7,921.8 888.6,921.9 894.5,922" stroke="#cb2f27" stroke-width="1.05" fill="none" stroke-linejoin="round" stroke-linecap="round"/>
<path d="M604.2,742.9 610.1,869.1 616.1,880.8 622,885.5 627.9,894.9 633.8,897.7 639.8,901.9 645.7,904.6 651.6,906.7 657.5,908.4 663.5,909.8 669.4,911 675.3,912 681.2,912.8 687.2,913.6 693.1,914.2 699,914.8 704.9,915.3 710.9,915.7 716.8,916.1 722.7,916.6 728.6,917.1 734.6,917.5 740.5,917.8 746.4,918.2 752.3,918.5 758.3,918.8 764.2,919 770.1,919.3 776,919.5 782,919.7 787.9,919.9 793.8,920.1 799.8,920.3 805.7,920.5 811.6,920.6 817.5,920.8 823.4,920.9 829.4,921.1 835.3,921.2 841.2,921.3 847.1,921.4 853.1,921.6 859,921.7 864.9,921.8 870.8,921.9 876.8,922 882.7,922 888.6,922.1 894.5,922.2" stroke="#cb2f27" stroke-width="1.05" fill="none" stroke-linejoin="round" stroke-linecap="round"/>
<path d="M604.2,742.9 610.1,871.5 616.1,884.3 622,889 627.9,896.7 633.8,899.1 639.8,903.3 645.7,905.6 651.6,907.4 657.5,908.9 663.5,910.3 669.4,911.5 675.3,912.6 681.2,913.4 687.2,914.2 693.1,914.8 699,915.4 704.9,916 710.9,916.4 716.8,916.8 722.7,917.3 728.6,917.7 734.6,918.1 740.5,918.4 746.4,918.7 752.3,919 758.3,919.3 764.2,919.5 770.1,919.7 776,920 782,920.2 787.9,920.3 793.8,920.5 799.8,920.7 805.7,920.8 811.6,921 817.5,921.1 823.4,921.3 829.4,921.4 835.3,921.5 841.2,921.6 847.1,921.7 853.1,921.8 859,921.9 864.9,922 870.8,922.1 876.8,922.2 882.7,922.3 888.6,922.4 894.5,922.4" stroke="#cb2f27" stroke-width="1.05" fill="none" stroke-linejoin="round" stroke-linecap="round"/>
<path d="M604.2,742.9 610.1,873.8 616.1,888.8 622,891.4 627.9,898.4 633.8,900.5 639.8,904.7 645.7,906.7 651.6,908.3 657.5,909.6 663.5,911 669.4,912.2 675.3,913.3 681.2,914.1 687.2,914.9 693.1,915.6 699,916.1 704.9,916.7 710.9,917.1 716.8,917.5 722.7,917.9 728.6,918.3 734.6,918.7 740.5,919 746.4,919.3 752.3,919.5 758.3,919.8 764.2,920 770.1,920.2 776,920.4 782,920.6 787.9,920.8 793.8,920.9 799.8,921.1 805.7,921.2 811.6,921.3 817.5,921.5 823.4,921.6 829.4,921.7 835.3,921.8 841.2,921.9 847.1,922 853.1,922.1 859,922.2 864.9,922.3 870.8,922.4 876.8,922.5 882.7,922.5 888.6,922.6 894.5,922.7" stroke="#cb2f27" stroke-width="1.05" fill="none" stroke-linejoin="round" stroke-linecap="round"/>
<path d="M604.2,742.9 610.1,863.3 616.1,878.5 622,882 627.9,897.2 633.8,899.5 639.8,901.4 645.7,904.1 651.6,906.3 657.5,908 663.5,909.4 669.4,910.6 675.3,911.6 681.2,912.5 687.2,913.3 693.1,913.9 699,914.5 704.9,915 710.9,915.5 716.8,915.9 722.7,916.4 728.6,916.9 734.6,917.3 740.5,917.7 746.4,918 752.3,918.3 758.3,918.6 764.2,918.9 770.1,919.2 776,919.4 782,919.6 787.9,919.8 793.8,920 799.8,920.2 805.7,920.4 811.6,920.6 817.5,920.7 823.4,920.9 829.4,921 835.3,921.2 841.2,921.3 847.1,921.4 853.1,921.5 859,921.6 864.9,921.7 870.8,921.8 876.8,921.9 882.7,922 888.6,922.1 894.5,922.2" stroke="#cb2f27" stroke-width="1.05" fill="none" stroke-linejoin="round" stroke-linecap="round"/>
<path d="M598.3,731.2 V965 H894.5" stroke="#3a3a3a" stroke-width="1.2" fill="none"/>
<line x1="598.3" y1="731.2" x2="601.5" y2="731.2" stroke="#3a3a3a" stroke-width="1.2"/>
<text x="588" y="743.8" font-size="31.5" text-anchor="end">5</text>
<line x1="598.3" y1="789.7" x2="601.5" y2="789.7" stroke="#3a3a3a" stroke-width="1.2"/>
<text x="588" y="802.3" font-size="31.5" text-anchor="end">2.5</text>
<line x1="598.3" y1="848.1" x2="601.5" y2="848.1" stroke="#3a3a3a" stroke-width="1.2"/>
<text x="588" y="860.7" font-size="31.5" text-anchor="end">0</text>
<line x1="598.3" y1="906.5" x2="601.5" y2="906.5" stroke="#3a3a3a" stroke-width="1.2"/>
<text x="588" y="919.1" font-size="31.5" text-anchor="end">-2.5</text>
<text x="588" y="977.6" font-size="31.5" text-anchor="end">-5</text>
<text x="600" y="1002.5" font-size="31.5" text-anchor="middle">0</text>
<line x1="657.5" y1="965" x2="657.5" y2="961.8" stroke="#3a3a3a" stroke-width="1.2"/>
<text x="657.8" y="1002.5" font-size="31.5" text-anchor="middle">10</text>
<line x1="716.8" y1="965" x2="716.8" y2="961.8" stroke="#3a3a3a" stroke-width="1.2"/>
<text x="717" y="1002.5" font-size="31.5" text-anchor="middle">20</text>
<line x1="776" y1="965" x2="776" y2="961.8" stroke="#3a3a3a" stroke-width="1.2"/>
<text x="776.2" y="1002.5" font-size="31.5" text-anchor="middle">30</text>
<line x1="835.3" y1="965" x2="835.3" y2="961.8" stroke="#3a3a3a" stroke-width="1.2"/>
<text x="835.5" y="1002.5" font-size="31.5" text-anchor="middle">40</text>
<line x1="894.5" y1="965" x2="894.5" y2="961.8" stroke="#3a3a3a" stroke-width="1.2"/>
<text x="894.8" y="1002.5" font-size="31.5" text-anchor="middle">50</text>
<text x="331.3" y="1041.5" font-size="31.2" text-anchor="middle">component</text>
<text x="747.9" y="1041.5" font-size="31.2" text-anchor="middle">component</text>
<text x="94.5" y="848" font-size="31.5" text-anchor="middle" transform="rotate(-90 94.5 848)">log-variability</text>
<line x1="668.7" y1="646.5" x2="709.8" y2="646.5" stroke="#3b4098" stroke-width="3.8"/>
<line x1="668.7" y1="673.8" x2="709.8" y2="673.8" stroke="#cb2f27" stroke-width="3.8"/>
<text x="721.5" y="651.5" font-size="31.7">no distractor</text>
<text x="721.5" y="682.5" font-size="31.7">distractor</text>
<line x1="1174.2" y1="698.3" x2="1174.2" y2="965" stroke="#3a3a3a" stroke-width="1.2"/>
<line x1="1174.2" y1="965" x2="1177.7" y2="965" stroke="#3a3a3a" stroke-width="1.2"/>
<text x="1163" y="975" font-size="31.5" text-anchor="end">60</text>
<line x1="1174.2" y1="898.3" x2="1177.7" y2="898.3" stroke="#3a3a3a" stroke-width="1.2"/>
<text x="1163" y="911" font-size="31.5" text-anchor="end">70</text>
<line x1="1174.2" y1="831.6" x2="1177.7" y2="831.6" stroke="#3a3a3a" stroke-width="1.2"/>
<text x="1163" y="843.8" font-size="31.5" text-anchor="end">80</text>
<line x1="1174.2" y1="765" x2="1177.7" y2="765" stroke="#3a3a3a" stroke-width="1.2"/>
<text x="1163" y="775.8" font-size="31.5" text-anchor="end">90</text>
<line x1="1174.2" y1="698.3" x2="1177.7" y2="698.3" stroke="#3a3a3a" stroke-width="1.2"/>
<text x="1163" y="705.2" font-size="31.5" text-anchor="end">100</text>
<line x1="1196.7" y1="965" x2="1467.8" y2="965" stroke="#3a3a3a" stroke-width="1.2"/>
<line x1="1196.7" y1="965" x2="1196.7" y2="961.5" stroke="#3a3a3a" stroke-width="1.2"/>
<text x="1198" y="998" font-size="31.5" text-anchor="middle">1</text>
<line x1="1241.8" y1="965" x2="1241.8" y2="961.5" stroke="#3a3a3a" stroke-width="1.2"/>
<text x="1242.5" y="998" font-size="31.5" text-anchor="middle">2</text>
<line x1="1287.1" y1="965" x2="1287.1" y2="961.5" stroke="#3a3a3a" stroke-width="1.2"/>
<text x="1287" y="998" font-size="31.5" text-anchor="middle">3</text>
<line x1="1332.3" y1="965" x2="1332.3" y2="961.5" stroke="#3a3a3a" stroke-width="1.2"/>
<text x="1331.6" y="998" font-size="31.5" text-anchor="middle">4</text>
<line x1="1377.5" y1="965" x2="1377.5" y2="961.5" stroke="#3a3a3a" stroke-width="1.2"/>
<text x="1376.1" y="998" font-size="31.5" text-anchor="middle">5</text>
<line x1="1422.6" y1="965" x2="1422.6" y2="961.5" stroke="#3a3a3a" stroke-width="1.2"/>
<text x="1420.6" y="998" font-size="31.5" text-anchor="middle">6</text>
<line x1="1467.8" y1="965" x2="1467.8" y2="961.5" stroke="#3a3a3a" stroke-width="1.2"/>
<text x="1465.1" y="998" font-size="31.5" text-anchor="middle">7</text>
<circle cx="1196.7" cy="723.6" r="2.35" fill="#3b4098"/>
<circle cx="1196.7" cy="739.6" r="2.35" fill="#3b4098"/>
<circle cx="1196.7" cy="750.2" r="2.35" fill="#3b4098"/>
<circle cx="1196.7" cy="768.8" r="2.35" fill="#3b4098"/>
<circle cx="1196.7" cy="792.7" r="2.35" fill="#3b4098"/>
<circle cx="1196.7" cy="810.4" r="2.35" fill="#3b4098"/>
<circle cx="1241.8" cy="723.6" r="2.35" fill="#3b4098"/>
<circle cx="1241.8" cy="806.9" r="2.35" fill="#3b4098"/>
<circle cx="1241.8" cy="810.4" r="2.35" fill="#3b4098"/>
<circle cx="1241.8" cy="816.1" r="2.35" fill="#3b4098"/>
<circle cx="1241.8" cy="819.6" r="2.35" fill="#3b4098"/>
<circle cx="1287.1" cy="723.6" r="2.35" fill="#3b4098"/>
<circle cx="1287.1" cy="787.9" r="2.35" fill="#3b4098"/>
<circle cx="1287.1" cy="799.8" r="2.35" fill="#3b4098"/>
<circle cx="1287.1" cy="809" r="2.35" fill="#3b4098"/>
<circle cx="1287.1" cy="812.2" r="2.35" fill="#3b4098"/>
<circle cx="1287.1" cy="816.6" r="2.35" fill="#3b4098"/>
<circle cx="1332.3" cy="726.8" r="2.35" fill="#3b4098"/>
<circle cx="1332.3" cy="740.5" r="2.35" fill="#3b4098"/>
<circle cx="1332.3" cy="798.4" r="2.35" fill="#3b4098"/>
<circle cx="1332.3" cy="800.7" r="2.35" fill="#3b4098"/>
<circle cx="1332.3" cy="813.1" r="2.35" fill="#3b4098"/>
<circle cx="1332.3" cy="816.6" r="2.35" fill="#3b4098"/>
<circle cx="1332.3" cy="820.5" r="2.35" fill="#3b4098"/>
<circle cx="1377.5" cy="726.3" r="2.35" fill="#3b4098"/>
<circle cx="1377.5" cy="748.1" r="2.35" fill="#3b4098"/>
<circle cx="1377.5" cy="753.8" r="2.35" fill="#3b4098"/>
<circle cx="1377.5" cy="802.5" r="2.35" fill="#3b4098"/>
<circle cx="1377.5" cy="809" r="2.35" fill="#3b4098"/>
<circle cx="1377.5" cy="812.7" r="2.35" fill="#3b4098"/>
<circle cx="1377.5" cy="821" r="2.35" fill="#3b4098"/>
<circle cx="1422.6" cy="723.6" r="2.35" fill="#3b4098"/>
<circle cx="1422.6" cy="740.5" r="2.35" fill="#3b4098"/>
<circle cx="1422.6" cy="742.8" r="2.35" fill="#3b4098"/>
<circle cx="1422.6" cy="754.6" r="2.35" fill="#3b4098"/>
<circle cx="1422.6" cy="793.1" r="2.35" fill="#3b4098"/>
<circle cx="1422.6" cy="801.6" r="2.35" fill="#3b4098"/>
<circle cx="1422.6" cy="806.9" r="2.35" fill="#3b4098"/>
<circle cx="1422.6" cy="809.9" r="2.35" fill="#3b4098"/>
<circle cx="1422.6" cy="821.9" r="2.35" fill="#3b4098"/>
<circle cx="1467.8" cy="755.5" r="2.35" fill="#3b4098"/>
<circle cx="1467.8" cy="772.3" r="2.35" fill="#3b4098"/>
<circle cx="1467.8" cy="786.5" r="2.35" fill="#3b4098"/>
<circle cx="1467.8" cy="807.8" r="2.35" fill="#3b4098"/>
<circle cx="1467.8" cy="818.4" r="2.35" fill="#3b4098"/>
<circle cx="1467.8" cy="821.9" r="2.35" fill="#3b4098"/>
<circle cx="1196.7" cy="733.4" r="2.35" fill="#cb2f27"/>
<circle cx="1196.7" cy="736.4" r="2.35" fill="#cb2f27"/>
<circle cx="1196.7" cy="753.4" r="2.35" fill="#cb2f27"/>
<circle cx="1196.7" cy="755.9" r="2.35" fill="#cb2f27"/>
<circle cx="1196.7" cy="758.4" r="2.35" fill="#cb2f27"/>
<circle cx="1196.7" cy="760.8" r="2.35" fill="#cb2f27"/>
<circle cx="1196.7" cy="763.3" r="2.35" fill="#cb2f27"/>
<circle cx="1196.7" cy="765.8" r="2.35" fill="#cb2f27"/>
<circle cx="1196.7" cy="768.3" r="2.35" fill="#cb2f27"/>
<circle cx="1196.7" cy="773.2" r="2.35" fill="#cb2f27"/>
<circle cx="1196.7" cy="785.6" r="2.35" fill="#cb2f27"/>
<circle cx="1196.7" cy="788.3" r="2.35" fill="#cb2f27"/>
<circle cx="1196.7" cy="790.9" r="2.35" fill="#cb2f27"/>
<circle cx="1196.7" cy="807.8" r="2.35" fill="#cb2f27"/>
<circle cx="1196.7" cy="809.5" r="2.35" fill="#cb2f27"/>
<circle cx="1241.8" cy="736.4" r="2.35" fill="#cb2f27"/>
<circle cx="1241.8" cy="739.2" r="2.35" fill="#cb2f27"/>
<circle cx="1241.8" cy="752.9" r="2.35" fill="#cb2f27"/>
<circle cx="1241.8" cy="755.5" r="2.35" fill="#cb2f27"/>
<circle cx="1241.8" cy="758.2" r="2.35" fill="#cb2f27"/>
<circle cx="1241.8" cy="762.6" r="2.35" fill="#cb2f27"/>
<circle cx="1241.8" cy="766.1" r="2.35" fill="#cb2f27"/>
<circle cx="1241.8" cy="769.7" r="2.35" fill="#cb2f27"/>
<circle cx="1241.8" cy="773.2" r="2.35" fill="#cb2f27"/>
<circle cx="1241.8" cy="776.8" r="2.35" fill="#cb2f27"/>
<circle cx="1241.8" cy="778.5" r="2.35" fill="#cb2f27"/>
<circle cx="1241.8" cy="787" r="2.35" fill="#cb2f27"/>
<circle cx="1241.8" cy="790.1" r="2.35" fill="#cb2f27"/>
<circle cx="1241.8" cy="799.8" r="2.35" fill="#cb2f27"/>
<circle cx="1287.1" cy="730.4" r="2.35" fill="#cb2f27"/>
<circle cx="1287.1" cy="734.3" r="2.35" fill="#cb2f27"/>
<circle cx="1287.1" cy="738.2" r="2.35" fill="#cb2f27"/>
<circle cx="1287.1" cy="754.1" r="2.35" fill="#cb2f27"/>
<circle cx="1287.1" cy="756.9" r="2.35" fill="#cb2f27"/>
<circle cx="1287.1" cy="760.8" r="2.35" fill="#cb2f27"/>
<circle cx="1287.1" cy="764.4" r="2.35" fill="#cb2f27"/>
<circle cx="1287.1" cy="767.9" r="2.35" fill="#cb2f27"/>
<circle cx="1287.1" cy="771.5" r="2.35" fill="#cb2f27"/>
<circle cx="1287.1" cy="775" r="2.35" fill="#cb2f27"/>
<circle cx="1287.1" cy="778.5" r="2.35" fill="#cb2f27"/>
<circle cx="1287.1" cy="782.1" r="2.35" fill="#cb2f27"/>
<circle cx="1287.1" cy="784.7" r="2.35" fill="#cb2f27"/>
<circle cx="1287.1" cy="795.9" r="2.35" fill="#cb2f27"/>
<circle cx="1287.1" cy="798.4" r="2.35" fill="#cb2f27"/>
<circle cx="1332.3" cy="733.4" r="2.35" fill="#cb2f27"/>
<circle cx="1332.3" cy="736.4" r="2.35" fill="#cb2f27"/>
<circle cx="1332.3" cy="748.8" r="2.35" fill="#cb2f27"/>
<circle cx="1332.3" cy="753.8" r="2.35" fill="#cb2f27"/>
<circle cx="1332.3" cy="757.3" r="2.35" fill="#cb2f27"/>
<circle cx="1332.3" cy="760.8" r="2.35" fill="#cb2f27"/>
<circle cx="1332.3" cy="764.4" r="2.35" fill="#cb2f27"/>
<circle cx="1332.3" cy="767" r="2.35" fill="#cb2f27"/>
<circle cx="1332.3" cy="773.2" r="2.35" fill="#cb2f27"/>
<circle cx="1332.3" cy="776.8" r="2.35" fill="#cb2f27"/>
<circle cx="1332.3" cy="781.2" r="2.35" fill="#cb2f27"/>
<circle cx="1332.3" cy="785.6" r="2.35" fill="#cb2f27"/>
<circle cx="1332.3" cy="792.4" r="2.35" fill="#cb2f27"/>
<circle cx="1377.5" cy="734.3" r="2.35" fill="#cb2f27"/>
<circle cx="1377.5" cy="737.5" r="2.35" fill="#cb2f27"/>
<circle cx="1377.5" cy="740.1" r="2.35" fill="#cb2f27"/>
<circle cx="1377.5" cy="758.2" r="2.35" fill="#cb2f27"/>
<circle cx="1377.5" cy="761.7" r="2.35" fill="#cb2f27"/>
<circle cx="1377.5" cy="765.3" r="2.35" fill="#cb2f27"/>
<circle cx="1377.5" cy="768.8" r="2.35" fill="#cb2f27"/>
<circle cx="1377.5" cy="772.9" r="2.35" fill="#cb2f27"/>
<circle cx="1377.5" cy="776.8" r="2.35" fill="#cb2f27"/>
<circle cx="1377.5" cy="783" r="2.35" fill="#cb2f27"/>
<circle cx="1377.5" cy="789.2" r="2.35" fill="#cb2f27"/>
<circle cx="1377.5" cy="791.3" r="2.35" fill="#cb2f27"/>
<circle cx="1422.6" cy="735.7" r="2.35" fill="#cb2f27"/>
<circle cx="1422.6" cy="737.8" r="2.35" fill="#cb2f27"/>
<circle cx="1422.6" cy="751.1" r="2.35" fill="#cb2f27"/>
<circle cx="1422.6" cy="758.2" r="2.35" fill="#cb2f27"/>
<circle cx="1422.6" cy="761.7" r="2.35" fill="#cb2f27"/>
<circle cx="1422.6" cy="767.9" r="2.35" fill="#cb2f27"/>
<circle cx="1422.6" cy="771.5" r="2.35" fill="#cb2f27"/>
<circle cx="1422.6" cy="775" r="2.35" fill="#cb2f27"/>
<circle cx="1422.6" cy="778.2" r="2.35" fill="#cb2f27"/>
<circle cx="1422.6" cy="783.9" r="2.35" fill="#cb2f27"/>
<circle cx="1422.6" cy="796.3" r="2.35" fill="#cb2f27"/>
<circle cx="1422.6" cy="798.4" r="2.35" fill="#cb2f27"/>
<circle cx="1467.8" cy="728.1" r="2.35" fill="#cb2f27"/>
<circle cx="1467.8" cy="742.2" r="2.35" fill="#cb2f27"/>
<circle cx="1467.8" cy="766.1" r="2.35" fill="#cb2f27"/>
<circle cx="1467.8" cy="768.8" r="2.35" fill="#cb2f27"/>
<circle cx="1467.8" cy="771.1" r="2.35" fill="#cb2f27"/>
<circle cx="1467.8" cy="781.2" r="2.35" fill="#cb2f27"/>
<circle cx="1467.8" cy="783.9" r="2.35" fill="#cb2f27"/>
<circle cx="1467.8" cy="798.9" r="2.35" fill="#cb2f27"/>
<circle cx="1467.8" cy="800.1" r="2.35" fill="#cb2f27"/>
<text x="1329" y="1031.5" font-size="31.5" text-anchor="middle" style="letter-spacing:-1.8px;">trial</text>
<text x="1098.5" y="831.5" font-size="31.5" text-anchor="middle" transform="rotate(-90 1098.5 831.5)">variability (%)</text>
<line x1="1245.7" y1="646.5" x2="1286.5" y2="646.5" stroke="#3b4098" stroke-width="3.8"/>
<line x1="1245.7" y1="673.8" x2="1286.5" y2="673.8" stroke="#cb2f27" stroke-width="3.8"/>
<text x="1298.5" y="651.5" font-size="31.7">no distractor</text>
<text x="1298.5" y="682.5" font-size="31.7">distractor</text>
<line x1="1765" y1="683.9" x2="1765" y2="968.1" stroke="#3a3a3a" stroke-width="1.2"/>
<line x1="1765" y1="683.9" x2="1770" y2="683.9" stroke="#3a3a3a" stroke-width="1.2"/>
<text x="1760.2" y="694.7" font-size="31.5" text-anchor="end">0</text>
<line x1="1765" y1="778.6" x2="1770" y2="778.6" stroke="#3a3a3a" stroke-width="1.2"/>
<text x="1760.2" y="789.4" font-size="31.5" text-anchor="end">-0.1</text>
<line x1="1765" y1="873.4" x2="1770" y2="873.4" stroke="#3a3a3a" stroke-width="1.2"/>
<text x="1760.2" y="884.2" font-size="31.5" text-anchor="end">-0.2</text>
<line x1="1765" y1="968.1" x2="1770" y2="968.1" stroke="#3a3a3a" stroke-width="1.2"/>
<text x="1760.2" y="978.9" font-size="31.5" text-anchor="end">-0.3</text>
<line x1="1790.7" y1="1014.9" x2="2098.5" y2="1014.9" stroke="#3a3a3a" stroke-width="1.2"/>
<line x1="1790.7" y1="1014.9" x2="1790.7" y2="1010.2" stroke="#3a3a3a" stroke-width="1.2"/>
<text x="1790.7" y="1046.2" font-size="31.5" text-anchor="middle">1</text>
<line x1="1842" y1="1014.9" x2="1842" y2="1010.2" stroke="#3a3a3a" stroke-width="1.2"/>
<text x="1842" y="1046.2" font-size="31.5" text-anchor="middle">2</text>
<line x1="1893.3" y1="1014.9" x2="1893.3" y2="1010.2" stroke="#3a3a3a" stroke-width="1.2"/>
<text x="1893.3" y="1046.2" font-size="31.5" text-anchor="middle">3</text>
<line x1="1944.6" y1="1014.9" x2="1944.6" y2="1010.2" stroke="#3a3a3a" stroke-width="1.2"/>
<text x="1944.6" y="1046.2" font-size="31.5" text-anchor="middle">4</text>
<line x1="1995.9" y1="1014.9" x2="1995.9" y2="1010.2" stroke="#3a3a3a" stroke-width="1.2"/>
<text x="1995.9" y="1046.2" font-size="31.5" text-anchor="middle">5</text>
<line x1="2047.2" y1="1014.9" x2="2047.2" y2="1010.2" stroke="#3a3a3a" stroke-width="1.2"/>
<text x="2047.2" y="1046.2" font-size="31.5" text-anchor="middle">6</text>
<line x1="2098.5" y1="1014.9" x2="2098.5" y2="1010.2" stroke="#3a3a3a" stroke-width="1.2"/>
<text x="2098.5" y="1046.2" font-size="31.5" text-anchor="middle">7</text>
<line x1="1782.2" y1="796.6" x2="1782.2" y2="808.2" stroke="#3c3c46" stroke-width="1.25"/>
<line x1="1782.2" y1="859.4" x2="1782.2" y2="899.9" stroke="#3c3c46" stroke-width="1.25"/>
<rect x="1775.7" y="808.2" width="13" height="51.2" fill="#d9dbf6" stroke="#3b4098" stroke-width="1.05"/>
<line x1="1775.7" y1="813.6" x2="1788.7" y2="813.6" stroke="#3b4098" stroke-width="1.05"/>
<path d="M1778.9,796.6 l3.3,-2.6 l3.3,2.6 l-3.3,2.6 z" fill="#3b4098"/>
<path d="M1778.9,899.9 l3.3,-2.6 l3.3,2.6 l-3.3,2.6 z" fill="#3b4098"/>
<circle cx="1782.2" cy="807.6" r="2.3" fill="#3b4098"/>
<circle cx="1782.2" cy="810.6" r="2.3" fill="#3b4098"/>
<circle cx="1782.2" cy="813.6" r="2.3" fill="#3b4098"/>
<circle cx="1782.2" cy="816.6" r="2.3" fill="#3b4098"/>
<circle cx="1782.2" cy="835.3" r="2.3" fill="#3b4098"/>
<circle cx="1782.2" cy="883.4" r="2.3" fill="#3b4098"/>
<circle cx="1782.2" cy="897.9" r="2.3" fill="#3b4098"/>
<line x1="1799.2" y1="799.6" x2="1799.2" y2="806.6" stroke="#3c3c46" stroke-width="1.25"/>
<line x1="1799.2" y1="856.7" x2="1799.2" y2="922.6" stroke="#3c3c46" stroke-width="1.25"/>
<rect x="1792.7" y="806.6" width="13" height="50.2" fill="#fddccf" stroke="#cb2f27" stroke-width="1.05"/>
<line x1="1792.7" y1="809.6" x2="1805.8" y2="809.6" stroke="#cb2f27" stroke-width="1.05"/>
<path d="M1795.9,799.6 l3.3,-2.6 l3.3,2.6 l-3.3,2.6 z" fill="#cb2f27"/>
<path d="M1795.9,922.6 l3.3,-2.6 l3.3,2.6 l-3.3,2.6 z" fill="#cb2f27"/>
<circle cx="1799.2" cy="804.6" r="2.3" fill="#cb2f27"/>
<circle cx="1799.2" cy="808.6" r="2.3" fill="#cb2f27"/>
<circle cx="1799.2" cy="810.6" r="2.3" fill="#cb2f27"/>
<circle cx="1799.2" cy="813.6" r="2.3" fill="#cb2f27"/>
<circle cx="1799.2" cy="816.6" r="2.3" fill="#cb2f27"/>
<circle cx="1799.2" cy="897.5" r="2.3" fill="#cb2f27"/>
<line x1="1833.5" y1="796.6" x2="1833.5" y2="807" stroke="#3c3c46" stroke-width="1.25"/>
<line x1="1833.5" y1="815.6" x2="1833.5" y2="817.6" stroke="#3c3c46" stroke-width="1.25"/>
<rect x="1827" y="807" width="13" height="8.6" fill="#d9dbf6" stroke="#3b4098" stroke-width="1.05"/>
<line x1="1827" y1="810.6" x2="1840.1" y2="810.6" stroke="#3b4098" stroke-width="1.05"/>
<path d="M1830.2,796.6 l3.3,-2.6 l3.3,2.6 l-3.3,2.6 z" fill="#3b4098"/>
<path d="M1830.2,817.6 l3.3,-2.6 l3.3,2.6 l-3.3,2.6 z" fill="#3b4098"/>
<circle cx="1833.5" cy="804.6" r="2.3" fill="#3b4098"/>
<circle cx="1833.5" cy="808.6" r="2.3" fill="#3b4098"/>
<circle cx="1833.5" cy="811.6" r="2.3" fill="#3b4098"/>
<circle cx="1833.5" cy="814.6" r="2.3" fill="#3b4098"/>
<circle cx="1833.5" cy="835.3" r="2.3" fill="#3b4098"/>
<line x1="1850.6" y1="797.2" x2="1850.6" y2="802.2" stroke="#3c3c46" stroke-width="1.25"/>
<line x1="1850.6" y1="815.6" x2="1850.6" y2="817.6" stroke="#3c3c46" stroke-width="1.25"/>
<rect x="1844.1" y="802.2" width="13" height="13.4" fill="#fddccf" stroke="#cb2f27" stroke-width="1.05"/>
<line x1="1844.1" y1="811.6" x2="1857.1" y2="811.6" stroke="#cb2f27" stroke-width="1.05"/>
<path d="M1847.3,797.2 l3.3,-2.6 l3.3,2.6 l-3.3,2.6 z" fill="#cb2f27"/>
<path d="M1847.3,817.6 l3.3,-2.6 l3.3,2.6 l-3.3,2.6 z" fill="#cb2f27"/>
<circle cx="1850.6" cy="804.6" r="2.3" fill="#cb2f27"/>
<circle cx="1850.6" cy="807.6" r="2.3" fill="#cb2f27"/>
<circle cx="1850.6" cy="810.6" r="2.3" fill="#cb2f27"/>
<circle cx="1850.6" cy="813.6" r="2.3" fill="#cb2f27"/>
<circle cx="1850.6" cy="730.5" r="2.3" fill="#cb2f27"/>
<circle cx="1850.6" cy="837.7" r="2.3" fill="#cb2f27"/>
<line x1="1884.9" y1="802.6" x2="1884.9" y2="805.2" stroke="#3c3c46" stroke-width="1.25"/>
<line x1="1884.9" y1="816.2" x2="1884.9" y2="822" stroke="#3c3c46" stroke-width="1.25"/>
<rect x="1878.4" y="805.2" width="13" height="11" fill="#d9dbf6" stroke="#3b4098" stroke-width="1.05"/>
<line x1="1878.4" y1="808.6" x2="1891.4" y2="808.6" stroke="#3b4098" stroke-width="1.05"/>
<path d="M1881.6,802.6 l3.3,-2.6 l3.3,2.6 l-3.3,2.6 z" fill="#3b4098"/>
<path d="M1881.6,822 l3.3,-2.6 l3.3,2.6 l-3.3,2.6 z" fill="#3b4098"/>
<circle cx="1884.9" cy="805.6" r="2.3" fill="#3b4098"/>
<circle cx="1884.9" cy="808.6" r="2.3" fill="#3b4098"/>
<circle cx="1884.9" cy="764.1" r="2.3" fill="#3b4098"/>
<circle cx="1884.9" cy="784.9" r="2.3" fill="#3b4098"/>
<circle cx="1884.9" cy="976.7" r="2.3" fill="#3b4098"/>
<line x1="1902" y1="797.2" x2="1902" y2="805.2" stroke="#3c3c46" stroke-width="1.25"/>
<line x1="1902" y1="837.1" x2="1902" y2="852.1" stroke="#3c3c46" stroke-width="1.25"/>
<rect x="1895.4" y="805.2" width="13" height="31.9" fill="#fddccf" stroke="#cb2f27" stroke-width="1.05"/>
<line x1="1895.4" y1="815.2" x2="1908.5" y2="815.2" stroke="#cb2f27" stroke-width="1.05"/>
<path d="M1898.7,797.2 l3.3,-2.6 l3.3,2.6 l-3.3,2.6 z" fill="#cb2f27"/>
<path d="M1898.7,852.1 l3.3,-2.6 l3.3,2.6 l-3.3,2.6 z" fill="#cb2f27"/>
<circle cx="1902" cy="803.6" r="2.3" fill="#cb2f27"/>
<circle cx="1902" cy="807.6" r="2.3" fill="#cb2f27"/>
<circle cx="1902" cy="810.6" r="2.3" fill="#cb2f27"/>
<circle cx="1902" cy="813.6" r="2.3" fill="#cb2f27"/>
<circle cx="1902" cy="816.6" r="2.3" fill="#cb2f27"/>
<circle cx="1902" cy="820.6" r="2.3" fill="#cb2f27"/>
<circle cx="1902" cy="985.8" r="2.3" fill="#cb2f27"/>
<line x1="1936" y1="684.6" x2="1936" y2="701.2" stroke="#3c3c46" stroke-width="1.25"/>
<line x1="1936" y1="807" x2="1936" y2="809.6" stroke="#3c3c46" stroke-width="1.25"/>
<rect x="1929.4" y="701.2" width="13.2" height="105.7" fill="#d9dbf6" stroke="#3b4098" stroke-width="1.05"/>
<line x1="1929.4" y1="761.4" x2="1942.7" y2="761.4" stroke="#3b4098" stroke-width="1.05"/>
<path d="M1932.7,684.6 l3.3,-2.6 l3.3,2.6 l-3.3,2.6 z" fill="#3b4098"/>
<path d="M1932.7,809.6 l3.3,-2.6 l3.3,2.6 l-3.3,2.6 z" fill="#3b4098"/>
<circle cx="1936" cy="695.8" r="2.3" fill="#3b4098"/>
<circle cx="1936" cy="707.7" r="2.3" fill="#3b4098"/>
<circle cx="1936" cy="737.8" r="2.3" fill="#3b4098"/>
<circle cx="1936" cy="755.4" r="2.3" fill="#3b4098"/>
<circle cx="1936" cy="767" r="2.3" fill="#3b4098"/>
<circle cx="1936" cy="777.5" r="2.3" fill="#3b4098"/>
<circle cx="1936" cy="779.9" r="2.3" fill="#3b4098"/>
<circle cx="1936" cy="805.6" r="2.3" fill="#3b4098"/>
<line x1="1953.3" y1="785.5" x2="1953.3" y2="799.9" stroke="#3c3c46" stroke-width="1.25"/>
<line x1="1953.3" y1="813.2" x2="1953.3" y2="814.2" stroke="#3c3c46" stroke-width="1.25"/>
<rect x="1946.5" y="799.9" width="13.6" height="13.2" fill="#fddccf" stroke="#cb2f27" stroke-width="1.05"/>
<line x1="1946.5" y1="807" x2="1960.1" y2="807" stroke="#cb2f27" stroke-width="1.05"/>
<path d="M1950,785.5 l3.3,-2.6 l3.3,2.6 l-3.3,2.6 z" fill="#cb2f27"/>
<path d="M1950,814.2 l3.3,-2.6 l3.3,2.6 l-3.3,2.6 z" fill="#cb2f27"/>
<circle cx="1953.3" cy="796.1" r="2.3" fill="#cb2f27"/>
<circle cx="1953.3" cy="803.6" r="2.3" fill="#cb2f27"/>
<circle cx="1953.3" cy="807" r="2.3" fill="#cb2f27"/>
<circle cx="1953.3" cy="810.6" r="2.3" fill="#cb2f27"/>
<circle cx="1953.3" cy="813.6" r="2.3" fill="#cb2f27"/>
<circle cx="1953.3" cy="738" r="2.3" fill="#cb2f27"/>
<circle cx="1953.3" cy="777.9" r="2.3" fill="#cb2f27"/>
<circle cx="1953.3" cy="848.7" r="2.3" fill="#cb2f27"/>
<circle cx="1953.3" cy="858.1" r="2.3" fill="#cb2f27"/>
<circle cx="1953.3" cy="1004.6" r="2.3" fill="#cb2f27"/>
<line x1="1987.5" y1="749.4" x2="1987.5" y2="806.6" stroke="#3c3c46" stroke-width="1.25"/>
<rect x="1980.8" y="684.6" width="13.4" height="64.8" fill="#d9dbf6" stroke="#3b4098" stroke-width="1.05"/>
<line x1="1980.8" y1="710.3" x2="1994.2" y2="710.3" stroke="#3b4098" stroke-width="1.05"/>
<path d="M1984.2,684.6 l3.3,-2.6 l3.3,2.6 l-3.3,2.6 z" fill="#3b4098"/>
<path d="M1984.2,806.6 l3.3,-2.6 l3.3,2.6 l-3.3,2.6 z" fill="#3b4098"/>
<circle cx="1987.5" cy="687.6" r="2.3" fill="#3b4098"/>
<circle cx="1987.5" cy="695.8" r="2.3" fill="#3b4098"/>
<circle cx="1987.5" cy="724.7" r="2.3" fill="#3b4098"/>
<circle cx="1987.5" cy="742.8" r="2.3" fill="#3b4098"/>
<circle cx="1987.5" cy="756.4" r="2.3" fill="#3b4098"/>
<circle cx="1987.5" cy="774.5" r="2.3" fill="#3b4098"/>
<line x1="2004.5" y1="693.6" x2="2004.5" y2="738.4" stroke="#3c3c46" stroke-width="1.25"/>
<line x1="2004.5" y1="809.2" x2="2004.5" y2="900.4" stroke="#3c3c46" stroke-width="1.25"/>
<rect x="1997.8" y="738.4" width="13.4" height="70.8" fill="#fddccf" stroke="#cb2f27" stroke-width="1.05"/>
<line x1="1997.8" y1="773.9" x2="2011.3" y2="773.9" stroke="#cb2f27" stroke-width="1.05"/>
<path d="M2001.2,693.6 l3.3,-2.6 l3.3,2.6 l-3.3,2.6 z" fill="#cb2f27"/>
<path d="M2001.2,900.4 l3.3,-2.6 l3.3,2.6 l-3.3,2.6 z" fill="#cb2f27"/>
<circle cx="2004.5" cy="706.3" r="2.3" fill="#cb2f27"/>
<circle cx="2004.5" cy="738.4" r="2.3" fill="#cb2f27"/>
<circle cx="2004.5" cy="740.4" r="2.3" fill="#cb2f27"/>
<circle cx="2004.5" cy="759.4" r="2.3" fill="#cb2f27"/>
<circle cx="2004.5" cy="770.9" r="2.3" fill="#cb2f27"/>
<circle cx="2004.5" cy="775.5" r="2.3" fill="#cb2f27"/>
<circle cx="2004.5" cy="804.6" r="2.3" fill="#cb2f27"/>
<circle cx="2004.5" cy="807.6" r="2.3" fill="#cb2f27"/>
<circle cx="2004.5" cy="822.6" r="2.3" fill="#cb2f27"/>
<circle cx="2004.5" cy="858.1" r="2.3" fill="#cb2f27"/>
<line x1="2032.3" y1="684.4" x2="2045.8" y2="684.4" stroke="#3b4098" stroke-width="2.0"/>
<circle cx="2039" cy="684.4" r="2.3" fill="#3b4098"/>
<circle cx="2039" cy="693.8" r="2.3" fill="#3b4098"/>
<circle cx="2039" cy="708.7" r="2.3" fill="#3b4098"/>
<circle cx="2039" cy="783.9" r="2.3" fill="#3b4098"/>
<line x1="2056" y1="684.4" x2="2056" y2="714.3" stroke="#3c3c46" stroke-width="1.25"/>
<line x1="2056" y1="780.1" x2="2056" y2="810.2" stroke="#3c3c46" stroke-width="1.25"/>
<rect x="2049.4" y="714.3" width="13.2" height="65.8" fill="#fddccf" stroke="#cb2f27" stroke-width="1.05"/>
<line x1="2049.4" y1="746" x2="2062.6" y2="746" stroke="#cb2f27" stroke-width="1.05"/>
<path d="M2052.7,684.4 l3.3,-2.6 l3.3,2.6 l-3.3,2.6 z" fill="#cb2f27"/>
<path d="M2052.7,810.2 l3.3,-2.6 l3.3,2.6 l-3.3,2.6 z" fill="#cb2f27"/>
<circle cx="2056" cy="690.2" r="2.3" fill="#cb2f27"/>
<circle cx="2056" cy="708.7" r="2.3" fill="#cb2f27"/>
<circle cx="2056" cy="720.3" r="2.3" fill="#cb2f27"/>
<circle cx="2056" cy="743.4" r="2.3" fill="#cb2f27"/>
<circle cx="2056" cy="746.4" r="2.3" fill="#cb2f27"/>
<circle cx="2056" cy="753.4" r="2.3" fill="#cb2f27"/>
<circle cx="2056" cy="757.4" r="2.3" fill="#cb2f27"/>
<circle cx="2056" cy="776.1" r="2.3" fill="#cb2f27"/>
<circle cx="2056" cy="784.1" r="2.3" fill="#cb2f27"/>
<circle cx="2056" cy="805.6" r="2.3" fill="#cb2f27"/>
<circle cx="2056" cy="985.7" r="2.3" fill="#cb2f27"/>
<line x1="2083.5" y1="684.6" x2="2096.9" y2="684.6" stroke="#3b4098" stroke-width="2.0"/>
<circle cx="2090.2" cy="684.6" r="2.3" fill="#3b4098"/>
<circle cx="2090.2" cy="724.5" r="2.3" fill="#3b4098"/>
<circle cx="2090.2" cy="774.5" r="2.3" fill="#3b4098"/>
<circle cx="2090.2" cy="810.2" r="2.3" fill="#3b4098"/>
<line x1="2107.2" y1="684.4" x2="2107.2" y2="692.2" stroke="#3c3c46" stroke-width="1.25"/>
<line x1="2107.2" y1="746.4" x2="2107.2" y2="812" stroke="#3c3c46" stroke-width="1.25"/>
<rect x="2100.5" y="692.2" width="13.4" height="54.2" fill="#fddccf" stroke="#cb2f27" stroke-width="1.05"/>
<line x1="2100.5" y1="726.3" x2="2114" y2="726.3" stroke="#cb2f27" stroke-width="1.05"/>
<path d="M2103.9,684.4 l3.3,-2.6 l3.3,2.6 l-3.3,2.6 z" fill="#cb2f27"/>
<path d="M2103.9,812 l3.3,-2.6 l3.3,2.6 l-3.3,2.6 z" fill="#cb2f27"/>
<circle cx="2107.2" cy="690.2" r="2.3" fill="#cb2f27"/>
<circle cx="2107.2" cy="694.2" r="2.3" fill="#cb2f27"/>
<circle cx="2107.2" cy="707.9" r="2.3" fill="#cb2f27"/>
<circle cx="2107.2" cy="725.3" r="2.3" fill="#cb2f27"/>
<circle cx="2107.2" cy="728.3" r="2.3" fill="#cb2f27"/>
<circle cx="2107.2" cy="737.4" r="2.3" fill="#cb2f27"/>
<circle cx="2107.2" cy="740.4" r="2.3" fill="#cb2f27"/>
<circle cx="2107.2" cy="752" r="2.3" fill="#cb2f27"/>
<circle cx="2107.2" cy="763.4" r="2.3" fill="#cb2f27"/>
<circle cx="2107.2" cy="771.5" r="2.3" fill="#cb2f27"/>
<path d="M1934.4,652.6 V643.7 H1957.5 V652.6" stroke="#3c3c3c" stroke-width="1.15" fill="none"/>
<text x="1947.1" y="646" font-size="26.5" text-anchor="middle" style="fill:#000000;stroke:#000000;letter-spacing:0.9px;stroke-width:0.7px;">**</text>
<path d="M1987.6,652.6 V643.7 H2010.9 V652.6" stroke="#3c3c3c" stroke-width="1.15" fill="none"/>
<text x="2000.2" y="646" font-size="26.5" text-anchor="middle" style="fill:#000000;stroke:#000000;letter-spacing:0.9px;stroke-width:0.7px;">**</text>
<path d="M2035.5,652.6 V643.7 H2059 V652.6" stroke="#3c3c3c" stroke-width="1.15" fill="none"/>
<text x="2048.2" y="646" font-size="26.5" text-anchor="middle" style="fill:#000000;stroke:#000000;letter-spacing:0.9px;stroke-width:0.7px;">**</text>
<path d="M2087.5,652.6 V643.7 H2111 V652.6" stroke="#3c3c3c" stroke-width="1.15" fill="none"/>
<text x="2100.1" y="646" font-size="26.5" text-anchor="middle" style="fill:#000000;stroke:#000000;letter-spacing:0.9px;stroke-width:0.7px;">**</text>
<text x="1946" y="1083" font-size="31.5" text-anchor="middle" style="letter-spacing:-1.9px;">trial</text>
<text x="1685" y="824.5" font-size="31.5" text-anchor="middle" transform="rotate(-90 1685 824.5)">decay rate (tau)</text>
<line x1="1765.3" y1="1265.6" x2="1765.3" y2="1650.5" stroke="#3a3a3a" stroke-width="1.2"/>
<line x1="1765.3" y1="1265.6" x2="1770.3" y2="1265.6" stroke="#3a3a3a" stroke-width="1.2"/>
<text x="1756.8" y="1276.4" font-size="31.5" text-anchor="end">2.5</text>
<line x1="1765.3" y1="1342.6" x2="1770.3" y2="1342.6" stroke="#3a3a3a" stroke-width="1.2"/>
<text x="1756.8" y="1353.4" font-size="31.5" text-anchor="end">2</text>
<line x1="1765.3" y1="1419.6" x2="1770.3" y2="1419.6" stroke="#3a3a3a" stroke-width="1.2"/>
<text x="1756.8" y="1430.4" font-size="31.5" text-anchor="end">1.5</text>
<line x1="1765.3" y1="1496.6" x2="1770.3" y2="1496.6" stroke="#3a3a3a" stroke-width="1.2"/>
<text x="1756.8" y="1507.4" font-size="31.5" text-anchor="end">1</text>
<line x1="1765.3" y1="1573.6" x2="1770.3" y2="1573.6" stroke="#3a3a3a" stroke-width="1.2"/>
<text x="1756.8" y="1584.4" font-size="31.5" text-anchor="end">0.5</text>
<line x1="1765.3" y1="1650.6" x2="1770.3" y2="1650.6" stroke="#3a3a3a" stroke-width="1.2"/>
<text x="1756.8" y="1661.4" font-size="31.5" text-anchor="end">0</text>
<line x1="1791.5" y1="1650.5" x2="2104.4" y2="1650.5" stroke="#3a3a3a" stroke-width="1.2"/>
<line x1="1791.5" y1="1650.5" x2="1791.5" y2="1645.8" stroke="#3a3a3a" stroke-width="1.2"/>
<text x="1791.5" y="1679.8" font-size="31.5" text-anchor="middle">1</text>
<line x1="1843.7" y1="1650.5" x2="1843.7" y2="1645.8" stroke="#3a3a3a" stroke-width="1.2"/>
<text x="1843.7" y="1679.8" font-size="31.5" text-anchor="middle">2</text>
<line x1="1895.8" y1="1650.5" x2="1895.8" y2="1645.8" stroke="#3a3a3a" stroke-width="1.2"/>
<text x="1895.8" y="1679.8" font-size="31.5" text-anchor="middle">3</text>
<line x1="1948" y1="1650.5" x2="1948" y2="1645.8" stroke="#3a3a3a" stroke-width="1.2"/>
<text x="1948" y="1679.8" font-size="31.5" text-anchor="middle">4</text>
<line x1="2000.1" y1="1650.5" x2="2000.1" y2="1645.8" stroke="#3a3a3a" stroke-width="1.2"/>
<text x="2000.1" y="1679.8" font-size="31.5" text-anchor="middle">5</text>
<line x1="2052.2" y1="1650.5" x2="2052.2" y2="1645.8" stroke="#3a3a3a" stroke-width="1.2"/>
<text x="2052.2" y="1679.8" font-size="31.5" text-anchor="middle">6</text>
<line x1="2104.4" y1="1650.5" x2="2104.4" y2="1645.8" stroke="#3a3a3a" stroke-width="1.2"/>
<text x="2104.4" y="1679.8" font-size="31.5" text-anchor="middle">7</text>
<line x1="1782.7" y1="1468.3" x2="1782.7" y2="1505.6" stroke="#3c3c46" stroke-width="1.25"/>
<line x1="1782.7" y1="1574.5" x2="1782.7" y2="1604.8" stroke="#3c3c46" stroke-width="1.25"/>
<rect x="1776.1" y="1505.6" width="13.2" height="68.9" fill="#d9dbf6" stroke="#3b4098" stroke-width="1.05"/>
<line x1="1776.1" y1="1558.4" x2="1789.3" y2="1558.4" stroke="#3b4098" stroke-width="1.05"/>
<path d="M1779.4,1468.3 l3.3,-2.6 l3.3,2.6 l-3.3,2.6 z" fill="#3b4098"/>
<path d="M1779.4,1604.8 l3.3,-2.6 l3.3,2.6 l-3.3,2.6 z" fill="#3b4098"/>
<circle cx="1782.7" cy="1482" r="2.3" fill="#3b4098"/>
<circle cx="1782.7" cy="1483.5" r="2.3" fill="#3b4098"/>
<circle cx="1782.7" cy="1497.4" r="2.3" fill="#3b4098"/>
<circle cx="1782.7" cy="1513.9" r="2.3" fill="#3b4098"/>
<circle cx="1782.7" cy="1544.1" r="2.3" fill="#3b4098"/>
<circle cx="1782.7" cy="1559" r="2.3" fill="#3b4098"/>
<circle cx="1782.7" cy="1574.5" r="2.3" fill="#3b4098"/>
<circle cx="1782.7" cy="1589.9" r="2.3" fill="#3b4098"/>
<line x1="1800.1" y1="1527.6" x2="1800.1" y2="1543.2" stroke="#3c3c46" stroke-width="1.25"/>
<line x1="1800.1" y1="1582.2" x2="1800.1" y2="1604.8" stroke="#3c3c46" stroke-width="1.25"/>
<rect x="1793.3" y="1543.2" width="13.7" height="39" fill="#fddccf" stroke="#cb2f27" stroke-width="1.05"/>
<line x1="1793.3" y1="1566.3" x2="1807" y2="1566.3" stroke="#cb2f27" stroke-width="1.05"/>
<path d="M1796.8,1527.6 l3.3,-2.6 l3.3,2.6 l-3.3,2.6 z" fill="#cb2f27"/>
<path d="M1796.8,1604.8 l3.3,-2.6 l3.3,2.6 l-3.3,2.6 z" fill="#cb2f27"/>
<circle cx="1800.1" cy="1544.1" r="2.3" fill="#cb2f27"/>
<circle cx="1800.1" cy="1559" r="2.3" fill="#cb2f27"/>
<circle cx="1800.1" cy="1574.5" r="2.3" fill="#cb2f27"/>
<circle cx="1800.1" cy="1589.9" r="2.3" fill="#cb2f27"/>
<circle cx="1800.1" cy="1466.6" r="2.3" fill="#cb2f27"/>
<circle cx="1800.1" cy="1482" r="2.3" fill="#cb2f27"/>
<line x1="1835" y1="1453.4" x2="1835" y2="1497" stroke="#3c3c46" stroke-width="1.25"/>
<line x1="1835" y1="1574.5" x2="1835" y2="1604.8" stroke="#3c3c46" stroke-width="1.25"/>
<rect x="1828.3" y="1497" width="13.4" height="77.5" fill="#d9dbf6" stroke="#3b4098" stroke-width="1.05"/>
<line x1="1828.3" y1="1528.7" x2="1841.7" y2="1528.7" stroke="#3b4098" stroke-width="1.05"/>
<path d="M1831.7,1453.4 l3.3,-2.6 l3.3,2.6 l-3.3,2.6 z" fill="#3b4098"/>
<path d="M1831.7,1604.8 l3.3,-2.6 l3.3,2.6 l-3.3,2.6 z" fill="#3b4098"/>
<circle cx="1835" cy="1468.8" r="2.3" fill="#3b4098"/>
<circle cx="1835" cy="1498.5" r="2.3" fill="#3b4098"/>
<circle cx="1835" cy="1528.7" r="2.3" fill="#3b4098"/>
<circle cx="1835" cy="1544.1" r="2.3" fill="#3b4098"/>
<circle cx="1835" cy="1559.5" r="2.3" fill="#3b4098"/>
<circle cx="1835" cy="1589.9" r="2.3" fill="#3b4098"/>
<circle cx="1835" cy="1344.4" r="2.3" fill="#3b4098"/>
<line x1="1852.2" y1="1466.6" x2="1852.2" y2="1512.4" stroke="#3c3c46" stroke-width="1.25"/>
<line x1="1852.2" y1="1589.4" x2="1852.2" y2="1604.8" stroke="#3c3c46" stroke-width="1.25"/>
<rect x="1845.5" y="1512.4" width="13.4" height="77.1" fill="#fddccf" stroke="#cb2f27" stroke-width="1.05"/>
<line x1="1845.5" y1="1559" x2="1858.9" y2="1559" stroke="#cb2f27" stroke-width="1.05"/>
<path d="M1848.9,1466.6 l3.3,-2.6 l3.3,2.6 l-3.3,2.6 z" fill="#cb2f27"/>
<path d="M1848.9,1604.8 l3.3,-2.6 l3.3,2.6 l-3.3,2.6 z" fill="#cb2f27"/>
<circle cx="1852.2" cy="1483.5" r="2.3" fill="#cb2f27"/>
<circle cx="1852.2" cy="1497.4" r="2.3" fill="#cb2f27"/>
<circle cx="1852.2" cy="1512.8" r="2.3" fill="#cb2f27"/>
<circle cx="1852.2" cy="1544.1" r="2.3" fill="#cb2f27"/>
<circle cx="1852.2" cy="1559" r="2.3" fill="#cb2f27"/>
<circle cx="1852.2" cy="1589.9" r="2.3" fill="#cb2f27"/>
<line x1="1887.1" y1="1423" x2="1887.1" y2="1475.4" stroke="#3c3c46" stroke-width="1.25"/>
<line x1="1887.1" y1="1514.1" x2="1887.1" y2="1559.5" stroke="#3c3c46" stroke-width="1.25"/>
<rect x="1880.5" y="1475.4" width="13.2" height="38.7" fill="#d9dbf6" stroke="#3b4098" stroke-width="1.05"/>
<line x1="1880.5" y1="1498.1" x2="1893.7" y2="1498.1" stroke="#3b4098" stroke-width="1.05"/>
<path d="M1883.8,1423 l3.3,-2.6 l3.3,2.6 l-3.3,2.6 z" fill="#3b4098"/>
<path d="M1883.8,1559.5 l3.3,-2.6 l3.3,2.6 l-3.3,2.6 z" fill="#3b4098"/>
<circle cx="1887.1" cy="1453.4" r="2.3" fill="#3b4098"/>
<circle cx="1887.1" cy="1468.8" r="2.3" fill="#3b4098"/>
<circle cx="1887.1" cy="1482.4" r="2.3" fill="#3b4098"/>
<circle cx="1887.1" cy="1498.1" r="2.3" fill="#3b4098"/>
<circle cx="1887.1" cy="1512.8" r="2.3" fill="#3b4098"/>
<circle cx="1887.1" cy="1529.3" r="2.3" fill="#3b4098"/>
<circle cx="1887.1" cy="1375" r="2.3" fill="#3b4098"/>
<line x1="1904.4" y1="1436.2" x2="1904.4" y2="1498.5" stroke="#3c3c46" stroke-width="1.25"/>
<line x1="1904.4" y1="1559.5" x2="1904.4" y2="1604.8" stroke="#3c3c46" stroke-width="1.25"/>
<rect x="1897.4" y="1498.5" width="13.9" height="61" fill="#fddccf" stroke="#cb2f27" stroke-width="1.05"/>
<line x1="1897.4" y1="1527.8" x2="1911.3" y2="1527.8" stroke="#cb2f27" stroke-width="1.05"/>
<path d="M1901.1,1436.2 l3.3,-2.6 l3.3,2.6 l-3.3,2.6 z" fill="#cb2f27"/>
<path d="M1901.1,1604.8 l3.3,-2.6 l3.3,2.6 l-3.3,2.6 z" fill="#cb2f27"/>
<circle cx="1904.4" cy="1499.2" r="2.3" fill="#cb2f27"/>
<circle cx="1904.4" cy="1512.4" r="2.3" fill="#cb2f27"/>
<circle cx="1904.4" cy="1527.8" r="2.3" fill="#cb2f27"/>
<circle cx="1904.4" cy="1543.2" r="2.3" fill="#cb2f27"/>
<circle cx="1904.4" cy="1559.5" r="2.3" fill="#cb2f27"/>
<circle cx="1904.4" cy="1574.5" r="2.3" fill="#cb2f27"/>
<circle cx="1904.4" cy="1589.9" r="2.3" fill="#cb2f27"/>
<circle cx="1904.4" cy="1407.8" r="2.3" fill="#cb2f27"/>
<line x1="1939.1" y1="1362.5" x2="1939.1" y2="1414.3" stroke="#3c3c46" stroke-width="1.25"/>
<line x1="1939.1" y1="1452.6" x2="1939.1" y2="1499.3" stroke="#3c3c46" stroke-width="1.25"/>
<rect x="1932.3" y="1414.3" width="13.7" height="38.3" fill="#d9dbf6" stroke="#3b4098" stroke-width="1.05"/>
<line x1="1932.3" y1="1437.4" x2="1945.9" y2="1437.4" stroke="#3b4098" stroke-width="1.05"/>
<path d="M1935.8,1362.5 l3.3,-2.6 l3.3,2.6 l-3.3,2.6 z" fill="#3b4098"/>
<path d="M1935.8,1499.3 l3.3,-2.6 l3.3,2.6 l-3.3,2.6 z" fill="#3b4098"/>
<circle cx="1939.1" cy="1377.9" r="2.3" fill="#3b4098"/>
<circle cx="1939.1" cy="1405.7" r="2.3" fill="#3b4098"/>
<circle cx="1939.1" cy="1423.1" r="2.3" fill="#3b4098"/>
<circle cx="1939.1" cy="1437" r="2.3" fill="#3b4098"/>
<circle cx="1939.1" cy="1438.5" r="2.3" fill="#3b4098"/>
<circle cx="1939.1" cy="1451.7" r="2.3" fill="#3b4098"/>
<circle cx="1939.1" cy="1453.5" r="2.3" fill="#3b4098"/>
<circle cx="1939.1" cy="1344.4" r="2.3" fill="#3b4098"/>
<circle cx="1939.1" cy="1529.5" r="2.3" fill="#3b4098"/>
<circle cx="1939.1" cy="1544.2" r="2.3" fill="#3b4098"/>
<line x1="1956.6" y1="1377.7" x2="1956.6" y2="1437.4" stroke="#3c3c46" stroke-width="1.25"/>
<line x1="1956.6" y1="1528.4" x2="1956.6" y2="1604.8" stroke="#3c3c46" stroke-width="1.25"/>
<rect x="1949.7" y="1437.4" width="13.9" height="91" fill="#fddccf" stroke="#cb2f27" stroke-width="1.05"/>
<line x1="1949.7" y1="1482.8" x2="1963.5" y2="1482.8" stroke="#cb2f27" stroke-width="1.05"/>
<path d="M1953.3,1377.7 l3.3,-2.6 l3.3,2.6 l-3.3,2.6 z" fill="#cb2f27"/>
<path d="M1953.3,1604.8 l3.3,-2.6 l3.3,2.6 l-3.3,2.6 z" fill="#cb2f27"/>
<circle cx="1956.6" cy="1437" r="2.3" fill="#cb2f27"/>
<circle cx="1956.6" cy="1438.5" r="2.3" fill="#cb2f27"/>
<circle cx="1956.6" cy="1451.7" r="2.3" fill="#cb2f27"/>
<circle cx="1956.6" cy="1482.8" r="2.3" fill="#cb2f27"/>
<circle cx="1956.6" cy="1499.1" r="2.3" fill="#cb2f27"/>
<circle cx="1956.6" cy="1514.3" r="2.3" fill="#cb2f27"/>
<circle cx="1956.6" cy="1528.4" r="2.3" fill="#cb2f27"/>
<circle cx="1956.6" cy="1559.6" r="2.3" fill="#cb2f27"/>
<line x1="1991.3" y1="1283.2" x2="1991.3" y2="1339.6" stroke="#3c3c46" stroke-width="1.25"/>
<line x1="1991.3" y1="1400.6" x2="1991.3" y2="1483.9" stroke="#3c3c46" stroke-width="1.25"/>
<rect x="1984.5" y="1339.6" width="13.7" height="61" fill="#d9dbf6" stroke="#3b4098" stroke-width="1.05"/>
<line x1="1984.5" y1="1368.7" x2="1998.1" y2="1368.7" stroke="#3b4098" stroke-width="1.05"/>
<path d="M1988,1283.2 l3.3,-2.6 l3.3,2.6 l-3.3,2.6 z" fill="#3b4098"/>
<path d="M1988,1483.9 l3.3,-2.6 l3.3,2.6 l-3.3,2.6 z" fill="#3b4098"/>
<circle cx="1991.3" cy="1298.4" r="2.3" fill="#3b4098"/>
<circle cx="1991.3" cy="1332.6" r="2.3" fill="#3b4098"/>
<circle cx="1991.3" cy="1347.3" r="2.3" fill="#3b4098"/>
<circle cx="1991.3" cy="1362.5" r="2.3" fill="#3b4098"/>
<circle cx="1991.3" cy="1375.1" r="2.3" fill="#3b4098"/>
<circle cx="1991.3" cy="1389.6" r="2.3" fill="#3b4098"/>
<circle cx="1991.3" cy="1392.2" r="2.3" fill="#3b4098"/>
<circle cx="1991.3" cy="1407.9" r="2.3" fill="#3b4098"/>
<circle cx="1991.3" cy="1438.3" r="2.3" fill="#3b4098"/>
<line x1="2008.7" y1="1375.1" x2="2008.7" y2="1397.5" stroke="#3c3c46" stroke-width="1.25"/>
<line x1="2008.7" y1="1459.4" x2="2008.7" y2="1544.4" stroke="#3c3c46" stroke-width="1.25"/>
<rect x="2001.9" y="1397.5" width="13.7" height="61.9" fill="#fddccf" stroke="#cb2f27" stroke-width="1.05"/>
<line x1="2001.9" y1="1423.1" x2="2015.5" y2="1423.1" stroke="#cb2f27" stroke-width="1.05"/>
<path d="M2005.4,1375.1 l3.3,-2.6 l3.3,2.6 l-3.3,2.6 z" fill="#cb2f27"/>
<path d="M2005.4,1544.4 l3.3,-2.6 l3.3,2.6 l-3.3,2.6 z" fill="#cb2f27"/>
<circle cx="2008.7" cy="1376.8" r="2.3" fill="#cb2f27"/>
<circle cx="2008.7" cy="1390.3" r="2.3" fill="#cb2f27"/>
<circle cx="2008.7" cy="1405.7" r="2.3" fill="#cb2f27"/>
<circle cx="2008.7" cy="1421.5" r="2.3" fill="#cb2f27"/>
<circle cx="2008.7" cy="1423.1" r="2.3" fill="#cb2f27"/>
<circle cx="2008.7" cy="1451.7" r="2.3" fill="#cb2f27"/>
<circle cx="2008.7" cy="1467.1" r="2.3" fill="#cb2f27"/>
<circle cx="2008.7" cy="1468.9" r="2.3" fill="#cb2f27"/>
<circle cx="2008.7" cy="1497.5" r="2.3" fill="#cb2f27"/>
<line x1="2043.3" y1="1283.2" x2="2043.3" y2="1307.7" stroke="#3c3c46" stroke-width="1.25"/>
<line x1="2043.3" y1="1347.3" x2="2043.3" y2="1362.5" stroke="#3c3c46" stroke-width="1.25"/>
<rect x="2036.5" y="1307.7" width="13.7" height="39.6" fill="#d9dbf6" stroke="#3b4098" stroke-width="1.05"/>
<line x1="2036.5" y1="1332.6" x2="2050.1" y2="1332.6" stroke="#3b4098" stroke-width="1.05"/>
<path d="M2040,1283.2 l3.3,-2.6 l3.3,2.6 l-3.3,2.6 z" fill="#3b4098"/>
<path d="M2040,1362.5 l3.3,-2.6 l3.3,2.6 l-3.3,2.6 z" fill="#3b4098"/>
<circle cx="2043.3" cy="1298.4" r="2.3" fill="#3b4098"/>
<circle cx="2043.3" cy="1316.9" r="2.3" fill="#3b4098"/>
<circle cx="2043.3" cy="1332.6" r="2.3" fill="#3b4098"/>
<circle cx="2043.3" cy="1347.3" r="2.3" fill="#3b4098"/>
<line x1="2060.9" y1="1359.4" x2="2060.9" y2="1375.1" stroke="#3c3c46" stroke-width="1.25"/>
<line x1="2060.9" y1="1428.6" x2="2060.9" y2="1499.3" stroke="#3c3c46" stroke-width="1.25"/>
<rect x="2054.3" y="1375.1" width="13.2" height="53.5" fill="#fddccf" stroke="#cb2f27" stroke-width="1.05"/>
<line x1="2054.3" y1="1406.8" x2="2067.5" y2="1406.8" stroke="#cb2f27" stroke-width="1.05"/>
<path d="M2057.6,1359.4 l3.3,-2.6 l3.3,2.6 l-3.3,2.6 z" fill="#cb2f27"/>
<path d="M2057.6,1499.3 l3.3,-2.6 l3.3,2.6 l-3.3,2.6 z" fill="#cb2f27"/>
<circle cx="2060.9" cy="1362.1" r="2.3" fill="#cb2f27"/>
<circle cx="2060.9" cy="1375.1" r="2.3" fill="#cb2f27"/>
<circle cx="2060.9" cy="1390.3" r="2.3" fill="#cb2f27"/>
<circle cx="2060.9" cy="1392.2" r="2.3" fill="#cb2f27"/>
<circle cx="2060.9" cy="1420.9" r="2.3" fill="#cb2f27"/>
<circle cx="2060.9" cy="1437" r="2.3" fill="#cb2f27"/>
<circle cx="2060.9" cy="1438.5" r="2.3" fill="#cb2f27"/>
<circle cx="2060.9" cy="1467.1" r="2.3" fill="#cb2f27"/>
<line x1="2095.7" y1="1283.2" x2="2095.7" y2="1316.9" stroke="#3c3c46" stroke-width="1.25"/>
<line x1="2095.7" y1="1347.3" x2="2095.7" y2="1392.9" stroke="#3c3c46" stroke-width="1.25"/>
<rect x="2088.9" y="1316.9" width="13.7" height="30.4" fill="#d9dbf6" stroke="#3b4098" stroke-width="1.05"/>
<line x1="2088.9" y1="1332.6" x2="2102.5" y2="1332.6" stroke="#3b4098" stroke-width="1.05"/>
<path d="M2092.4,1283.2 l3.3,-2.6 l3.3,2.6 l-3.3,2.6 z" fill="#3b4098"/>
<path d="M2092.4,1392.9 l3.3,-2.6 l3.3,2.6 l-3.3,2.6 z" fill="#3b4098"/>
<circle cx="2095.7" cy="1298.4" r="2.3" fill="#3b4098"/>
<circle cx="2095.7" cy="1316.9" r="2.3" fill="#3b4098"/>
<circle cx="2095.7" cy="1328.6" r="2.3" fill="#3b4098"/>
<circle cx="2095.7" cy="1332.6" r="2.3" fill="#3b4098"/>
<circle cx="2095.7" cy="1347.3" r="2.3" fill="#3b4098"/>
<line x1="2113" y1="1347.3" x2="2113" y2="1368.7" stroke="#3c3c46" stroke-width="1.25"/>
<line x1="2113" y1="1399.5" x2="2113" y2="1423.1" stroke="#3c3c46" stroke-width="1.25"/>
<rect x="2106.3" y="1368.7" width="13.4" height="30.8" fill="#fddccf" stroke="#cb2f27" stroke-width="1.05"/>
<line x1="2106.3" y1="1384.1" x2="2119.7" y2="1384.1" stroke="#cb2f27" stroke-width="1.05"/>
<path d="M2109.7,1347.3 l3.3,-2.6 l3.3,2.6 l-3.3,2.6 z" fill="#cb2f27"/>
<path d="M2109.7,1423.1 l3.3,-2.6 l3.3,2.6 l-3.3,2.6 z" fill="#cb2f27"/>
<circle cx="2113" cy="1359.4" r="2.3" fill="#cb2f27"/>
<circle cx="2113" cy="1362.1" r="2.3" fill="#cb2f27"/>
<circle cx="2113" cy="1375.1" r="2.3" fill="#cb2f27"/>
<circle cx="2113" cy="1377.7" r="2.3" fill="#cb2f27"/>
<circle cx="2113" cy="1390.3" r="2.3" fill="#cb2f27"/>
<circle cx="2113" cy="1407.9" r="2.3" fill="#cb2f27"/>
<circle cx="2113" cy="1497.5" r="2.3" fill="#cb2f27"/>
<circle cx="2113" cy="1499.3" r="2.3" fill="#cb2f27"/>
<path d="M1990.2,1254.9 V1246 H2013.5 V1254.9" stroke="#3c3c3c" stroke-width="1.15" fill="none"/>
<text x="2002.9" y="1248.5" font-size="26.5" text-anchor="middle" style="fill:#000000;stroke:#000000;letter-spacing:0.9px;stroke-width:0.7px;">**</text>
<path d="M2042.2,1254.9 V1246 H2065.5 V1254.9" stroke="#3c3c3c" stroke-width="1.15" fill="none"/>
<text x="2054.9" y="1248.5" font-size="26.5" text-anchor="middle" style="fill:#000000;stroke:#000000;letter-spacing:0.9px;stroke-width:0.7px;">**</text>
<path d="M2094.6,1254.9 V1246 H2118 V1254.9" stroke="#3c3c3c" stroke-width="1.15" fill="none"/>
<text x="2107.4" y="1248.5" font-size="26.5" text-anchor="middle" style="fill:#000000;stroke:#000000;letter-spacing:0.9px;stroke-width:0.7px;">**</text>
<text x="1949.2" y="1717.3" font-size="31.5" text-anchor="middle" style="letter-spacing:-1.9px;">trial</text>
<text x="1690.5" y="1442.5" font-size="31.5" text-anchor="middle" style="letter-spacing:-1.7px;" transform="rotate(-90 1690.5 1442.5)">frequency (Hz)</text>
<text x="1951.5" y="1187.3" font-size="35.8" text-anchor="middle" font-weight="bold" style="fill:#2a2a2a;stroke:#2a2a2a;">during CS</text>
<line x1="1763.8" y1="1936.8" x2="1763.8" y2="2321.8" stroke="#3a3a3a" stroke-width="1.2"/>
<line x1="1763.8" y1="1936.8" x2="1768.8" y2="1936.8" stroke="#3a3a3a" stroke-width="1.2"/>
<text x="1755.3" y="1947.6" font-size="31.5" text-anchor="end">2.5</text>
<line x1="1763.8" y1="2013.8" x2="1768.8" y2="2013.8" stroke="#3a3a3a" stroke-width="1.2"/>
<text x="1755.3" y="2024.6" font-size="31.5" text-anchor="end">2</text>
<line x1="1763.8" y1="2090.8" x2="1768.8" y2="2090.8" stroke="#3a3a3a" stroke-width="1.2"/>
<text x="1755.3" y="2101.6" font-size="31.5" text-anchor="end">1.5</text>
<line x1="1763.8" y1="2167.8" x2="1768.8" y2="2167.8" stroke="#3a3a3a" stroke-width="1.2"/>
<text x="1755.3" y="2178.6" font-size="31.5" text-anchor="end">1</text>
<line x1="1763.8" y1="2244.8" x2="1768.8" y2="2244.8" stroke="#3a3a3a" stroke-width="1.2"/>
<text x="1755.3" y="2255.6" font-size="31.5" text-anchor="end">0.5</text>
<line x1="1763.8" y1="2321.8" x2="1768.8" y2="2321.8" stroke="#3a3a3a" stroke-width="1.2"/>
<text x="1755.3" y="2332.6" font-size="31.5" text-anchor="end">0</text>
<line x1="1790.2" y1="2321.8" x2="2103.4" y2="2321.8" stroke="#3a3a3a" stroke-width="1.2"/>
<line x1="1790.2" y1="2321.8" x2="1790.2" y2="2317.1" stroke="#3a3a3a" stroke-width="1.2"/>
<text x="1790.2" y="2352.5" font-size="31.5" text-anchor="middle">1</text>
<line x1="1842.4" y1="2321.8" x2="1842.4" y2="2317.1" stroke="#3a3a3a" stroke-width="1.2"/>
<text x="1842.4" y="2352.5" font-size="31.5" text-anchor="middle">2</text>
<line x1="1894.6" y1="2321.8" x2="1894.6" y2="2317.1" stroke="#3a3a3a" stroke-width="1.2"/>
<text x="1894.6" y="2352.5" font-size="31.5" text-anchor="middle">3</text>
<line x1="1946.8" y1="2321.8" x2="1946.8" y2="2317.1" stroke="#3a3a3a" stroke-width="1.2"/>
<text x="1946.8" y="2352.5" font-size="31.5" text-anchor="middle">4</text>
<line x1="1999" y1="2321.8" x2="1999" y2="2317.1" stroke="#3a3a3a" stroke-width="1.2"/>
<text x="1999" y="2352.5" font-size="31.5" text-anchor="middle">5</text>
<line x1="2051.2" y1="2321.8" x2="2051.2" y2="2317.1" stroke="#3a3a3a" stroke-width="1.2"/>
<text x="2051.2" y="2352.5" font-size="31.5" text-anchor="middle">6</text>
<line x1="2103.4" y1="2321.8" x2="2103.4" y2="2317.1" stroke="#3a3a3a" stroke-width="1.2"/>
<text x="2103.4" y="2352.5" font-size="31.5" text-anchor="middle">7</text>
<line x1="1781.4" y1="2143.3" x2="1781.4" y2="2202.8" stroke="#3c3c46" stroke-width="1.25"/>
<rect x="1774.6" y="2202.8" width="13.7" height="58.8" fill="#d9dbf6" stroke="#3b4098" stroke-width="1.05"/>
<line x1="1774.6" y1="2231.2" x2="1788.2" y2="2231.2" stroke="#3b4098" stroke-width="1.05"/>
<path d="M1778.1,2143.3 l3.3,-2.6 l3.3,2.6 l-3.3,2.6 z" fill="#3b4098"/>
<path d="M1778.1,2261.6 l3.3,-2.6 l3.3,2.6 l-3.3,2.6 z" fill="#3b4098"/>
<circle cx="1781.4" cy="2162.9" r="2.3" fill="#3b4098"/>
<circle cx="1781.4" cy="2201" r="2.3" fill="#3b4098"/>
<circle cx="1781.4" cy="2203.2" r="2.3" fill="#3b4098"/>
<circle cx="1781.4" cy="2226.3" r="2.3" fill="#3b4098"/>
<circle cx="1781.4" cy="2231.2" r="2.3" fill="#3b4098"/>
<circle cx="1781.4" cy="2258.3" r="2.3" fill="#3b4098"/>
<line x1="1798.8" y1="2258.3" x2="1798.8" y2="2262.2" stroke="#3c3c46" stroke-width="1.25"/>
<rect x="1792" y="2194.4" width="13.7" height="63.8" fill="#fddccf" stroke="#cb2f27" stroke-width="1.05"/>
<line x1="1792" y1="2214.2" x2="1805.6" y2="2214.2" stroke="#cb2f27" stroke-width="1.05"/>
<path d="M1795.5,2194.4 l3.3,-2.6 l3.3,2.6 l-3.3,2.6 z" fill="#cb2f27"/>
<path d="M1795.5,2262.2 l3.3,-2.6 l3.3,2.6 l-3.3,2.6 z" fill="#cb2f27"/>
<circle cx="1798.8" cy="2199.9" r="2.3" fill="#cb2f27"/>
<circle cx="1798.8" cy="2202.8" r="2.3" fill="#cb2f27"/>
<circle cx="1798.8" cy="2226.3" r="2.3" fill="#cb2f27"/>
<circle cx="1798.8" cy="2231.2" r="2.3" fill="#cb2f27"/>
<circle cx="1798.8" cy="2258.3" r="2.3" fill="#cb2f27"/>
<line x1="1833.6" y1="2109.7" x2="1833.6" y2="2166.2" stroke="#3c3c46" stroke-width="1.25"/>
<line x1="1833.6" y1="2245.5" x2="1833.6" y2="2262.7" stroke="#3c3c46" stroke-width="1.25"/>
<rect x="1826.8" y="2166.2" width="13.7" height="79.3" fill="#d9dbf6" stroke="#3b4098" stroke-width="1.05"/>
<line x1="1826.8" y1="2226.3" x2="1840.4" y2="2226.3" stroke="#3b4098" stroke-width="1.05"/>
<path d="M1830.3,2109.7 l3.3,-2.6 l3.3,2.6 l-3.3,2.6 z" fill="#3b4098"/>
<path d="M1830.3,2262.7 l3.3,-2.6 l3.3,2.6 l-3.3,2.6 z" fill="#3b4098"/>
<circle cx="1833.6" cy="2139.8" r="2.3" fill="#3b4098"/>
<circle cx="1833.6" cy="2162.9" r="2.3" fill="#3b4098"/>
<circle cx="1833.6" cy="2170.2" r="2.3" fill="#3b4098"/>
<circle cx="1833.6" cy="2173.5" r="2.3" fill="#3b4098"/>
<circle cx="1833.6" cy="2200.6" r="2.3" fill="#3b4098"/>
<circle cx="1833.6" cy="2226.3" r="2.3" fill="#3b4098"/>
<circle cx="1833.6" cy="2229.6" r="2.3" fill="#3b4098"/>
<circle cx="1833.6" cy="2232.9" r="2.3" fill="#3b4098"/>
<circle cx="1833.6" cy="2258.3" r="2.3" fill="#3b4098"/>
<line x1="1850.9" y1="2109.7" x2="1850.9" y2="2178.6" stroke="#3c3c46" stroke-width="1.25"/>
<line x1="1850.9" y1="2244.4" x2="1850.9" y2="2258.3" stroke="#3c3c46" stroke-width="1.25"/>
<rect x="1844.2" y="2178.6" width="13.4" height="65.8" fill="#fddccf" stroke="#cb2f27" stroke-width="1.05"/>
<line x1="1844.2" y1="2202.8" x2="1857.6" y2="2202.8" stroke="#cb2f27" stroke-width="1.05"/>
<path d="M1847.6,2109.7 l3.3,-2.6 l3.3,2.6 l-3.3,2.6 z" fill="#cb2f27"/>
<path d="M1847.6,2258.3 l3.3,-2.6 l3.3,2.6 l-3.3,2.6 z" fill="#cb2f27"/>
<circle cx="1850.9" cy="2131.2" r="2.3" fill="#cb2f27"/>
<circle cx="1850.9" cy="2139.8" r="2.3" fill="#cb2f27"/>
<circle cx="1850.9" cy="2162.9" r="2.3" fill="#cb2f27"/>
<circle cx="1850.9" cy="2194.4" r="2.3" fill="#cb2f27"/>
<circle cx="1850.9" cy="2202.8" r="2.3" fill="#cb2f27"/>
<circle cx="1850.9" cy="2231.2" r="2.3" fill="#cb2f27"/>
<line x1="1885.8" y1="2067.4" x2="1885.8" y2="2126.6" stroke="#3c3c46" stroke-width="1.25"/>
<line x1="1885.8" y1="2214.7" x2="1885.8" y2="2258.3" stroke="#3c3c46" stroke-width="1.25"/>
<rect x="1879" y="2126.6" width="13.7" height="88.1" fill="#d9dbf6" stroke="#3b4098" stroke-width="1.05"/>
<line x1="1879" y1="2166.2" x2="1892.6" y2="2166.2" stroke="#3b4098" stroke-width="1.05"/>
<path d="M1882.5,2067.4 l3.3,-2.6 l3.3,2.6 l-3.3,2.6 z" fill="#3b4098"/>
<path d="M1882.5,2258.3 l3.3,-2.6 l3.3,2.6 l-3.3,2.6 z" fill="#3b4098"/>
<circle cx="1885.8" cy="2109.7" r="2.3" fill="#3b4098"/>
<circle cx="1885.8" cy="2113.4" r="2.3" fill="#3b4098"/>
<circle cx="1885.8" cy="2139.8" r="2.3" fill="#3b4098"/>
<circle cx="1885.8" cy="2162.9" r="2.3" fill="#3b4098"/>
<circle cx="1885.8" cy="2170.2" r="2.3" fill="#3b4098"/>
<circle cx="1885.8" cy="2173.5" r="2.3" fill="#3b4098"/>
<circle cx="1885.8" cy="2200.6" r="2.3" fill="#3b4098"/>
<circle cx="1885.8" cy="2203.2" r="2.3" fill="#3b4098"/>
<circle cx="1885.8" cy="2226.3" r="2.3" fill="#3b4098"/>
<circle cx="1885.8" cy="2230.7" r="2.3" fill="#3b4098"/>
<line x1="1903.1" y1="2079.3" x2="1903.1" y2="2162.5" stroke="#3c3c46" stroke-width="1.25"/>
<line x1="1903.1" y1="2231.8" x2="1903.1" y2="2261.6" stroke="#3c3c46" stroke-width="1.25"/>
<rect x="1896.3" y="2162.5" width="13.4" height="69.4" fill="#fddccf" stroke="#cb2f27" stroke-width="1.05"/>
<line x1="1896.3" y1="2198.4" x2="1909.8" y2="2198.4" stroke="#cb2f27" stroke-width="1.05"/>
<path d="M1899.8,2079.3 l3.3,-2.6 l3.3,2.6 l-3.3,2.6 z" fill="#cb2f27"/>
<path d="M1899.8,2261.6 l3.3,-2.6 l3.3,2.6 l-3.3,2.6 z" fill="#cb2f27"/>
<circle cx="1903.1" cy="2139.8" r="2.3" fill="#cb2f27"/>
<circle cx="1903.1" cy="2162.9" r="2.3" fill="#cb2f27"/>
<circle cx="1903.1" cy="2194.4" r="2.3" fill="#cb2f27"/>
<circle cx="1903.1" cy="2202.8" r="2.3" fill="#cb2f27"/>
<circle cx="1903.1" cy="2226.3" r="2.3" fill="#cb2f27"/>
<circle cx="1903.1" cy="2231.2" r="2.3" fill="#cb2f27"/>
<circle cx="1903.1" cy="2232.9" r="2.3" fill="#cb2f27"/>
<circle cx="1903.1" cy="2258.3" r="2.3" fill="#cb2f27"/>
<line x1="1937.9" y1="2035.5" x2="1937.9" y2="2064.4" stroke="#3c3c46" stroke-width="1.25"/>
<line x1="1937.9" y1="2142.1" x2="1937.9" y2="2200.7" stroke="#3c3c46" stroke-width="1.25"/>
<rect x="1931.2" y="2064.4" width="13.4" height="77.8" fill="#d9dbf6" stroke="#3b4098" stroke-width="1.05"/>
<line x1="1931.2" y1="2078.9" x2="1944.6" y2="2078.9" stroke="#3b4098" stroke-width="1.05"/>
<path d="M1934.6,2035.5 l3.3,-2.6 l3.3,2.6 l-3.3,2.6 z" fill="#3b4098"/>
<path d="M1934.6,2200.7 l3.3,-2.6 l3.3,2.6 l-3.3,2.6 z" fill="#3b4098"/>
<circle cx="1937.9" cy="2049.2" r="2.3" fill="#3b4098"/>
<circle cx="1937.9" cy="2078.9" r="2.3" fill="#3b4098"/>
<circle cx="1937.9" cy="2084" r="2.3" fill="#3b4098"/>
<circle cx="1937.9" cy="2113.7" r="2.3" fill="#3b4098"/>
<circle cx="1937.9" cy="2139.9" r="2.3" fill="#3b4098"/>
<circle cx="1937.9" cy="2143.5" r="2.3" fill="#3b4098"/>
<circle cx="1937.9" cy="2163.1" r="2.3" fill="#3b4098"/>
<line x1="1955.3" y1="2067.5" x2="1955.3" y2="2120.1" stroke="#3c3c46" stroke-width="1.25"/>
<line x1="1955.3" y1="2197.9" x2="1955.3" y2="2262.4" stroke="#3c3c46" stroke-width="1.25"/>
<rect x="1948.6" y="2120.1" width="13.4" height="77.8" fill="#fddccf" stroke="#cb2f27" stroke-width="1.05"/>
<line x1="1948.6" y1="2163.1" x2="1962" y2="2163.1" stroke="#cb2f27" stroke-width="1.05"/>
<path d="M1952,2067.5 l3.3,-2.6 l3.3,2.6 l-3.3,2.6 z" fill="#cb2f27"/>
<path d="M1952,2262.4 l3.3,-2.6 l3.3,2.6 l-3.3,2.6 z" fill="#cb2f27"/>
<circle cx="1955.3" cy="2079.4" r="2.3" fill="#cb2f27"/>
<circle cx="1955.3" cy="2099.8" r="2.3" fill="#cb2f27"/>
<circle cx="1955.3" cy="2109.8" r="2.3" fill="#cb2f27"/>
<circle cx="1955.3" cy="2131.3" r="2.3" fill="#cb2f27"/>
<circle cx="1955.3" cy="2163.1" r="2.3" fill="#cb2f27"/>
<circle cx="1955.3" cy="2173.6" r="2.3" fill="#cb2f27"/>
<circle cx="1955.3" cy="2194.6" r="2.3" fill="#cb2f27"/>
<circle cx="1955.3" cy="2200.7" r="2.3" fill="#cb2f27"/>
<circle cx="1955.3" cy="2231.3" r="2.3" fill="#cb2f27"/>
<circle cx="1955.3" cy="2258.4" r="2.3" fill="#cb2f27"/>
<line x1="1990.1" y1="1965.5" x2="1990.1" y2="2018.3" stroke="#3c3c46" stroke-width="1.25"/>
<line x1="1990.1" y1="2079.6" x2="1990.1" y2="2139.9" stroke="#3c3c46" stroke-width="1.25"/>
<rect x="1983.4" y="2018.3" width="13.4" height="61.2" fill="#d9dbf6" stroke="#3b4098" stroke-width="1.05"/>
<line x1="1983.4" y1="2058.4" x2="1996.8" y2="2058.4" stroke="#3b4098" stroke-width="1.05"/>
<path d="M1986.8,1965.5 l3.3,-2.6 l3.3,2.6 l-3.3,2.6 z" fill="#3b4098"/>
<path d="M1986.8,2139.9 l3.3,-2.6 l3.3,2.6 l-3.3,2.6 z" fill="#3b4098"/>
<circle cx="1990.1" cy="1988.8" r="2.3" fill="#3b4098"/>
<circle cx="1990.1" cy="1995.2" r="2.3" fill="#3b4098"/>
<circle cx="1990.1" cy="2019.4" r="2.3" fill="#3b4098"/>
<circle cx="1990.1" cy="2025" r="2.3" fill="#3b4098"/>
<circle cx="1990.1" cy="2036" r="2.3" fill="#3b4098"/>
<circle cx="1990.1" cy="2049.2" r="2.3" fill="#3b4098"/>
<circle cx="1990.1" cy="2067.5" r="2.3" fill="#3b4098"/>
<circle cx="1990.1" cy="2079.6" r="2.3" fill="#3b4098"/>
<circle cx="1990.1" cy="2200.7" r="2.3" fill="#3b4098"/>
<line x1="2007.4" y1="2035.5" x2="2007.4" y2="2073.4" stroke="#3c3c46" stroke-width="1.25"/>
<line x1="2007.4" y1="2135.5" x2="2007.4" y2="2203.4" stroke="#3c3c46" stroke-width="1.25"/>
<rect x="2000.6" y="2073.4" width="13.7" height="62.1" fill="#fddccf" stroke="#cb2f27" stroke-width="1.05"/>
<line x1="2000.6" y1="2099.4" x2="2014.2" y2="2099.4" stroke="#cb2f27" stroke-width="1.05"/>
<path d="M2004.1,2035.5 l3.3,-2.6 l3.3,2.6 l-3.3,2.6 z" fill="#cb2f27"/>
<path d="M2004.1,2203.4 l3.3,-2.6 l3.3,2.6 l-3.3,2.6 z" fill="#cb2f27"/>
<circle cx="2007.4" cy="2049.2" r="2.3" fill="#cb2f27"/>
<circle cx="2007.4" cy="2067.5" r="2.3" fill="#cb2f27"/>
<circle cx="2007.4" cy="2079.4" r="2.3" fill="#cb2f27"/>
<circle cx="2007.4" cy="2099.4" r="2.3" fill="#cb2f27"/>
<circle cx="2007.4" cy="2131.3" r="2.3" fill="#cb2f27"/>
<circle cx="2007.4" cy="2139.9" r="2.3" fill="#cb2f27"/>
<circle cx="2007.4" cy="2143.5" r="2.3" fill="#cb2f27"/>
<circle cx="2007.4" cy="2232.7" r="2.3" fill="#cb2f27"/>
<line x1="2042.2" y1="1965.5" x2="2042.2" y2="2006.7" stroke="#3c3c46" stroke-width="1.25"/>
<line x1="2042.2" y1="2036" x2="2042.2" y2="2054.7" stroke="#3c3c46" stroke-width="1.25"/>
<rect x="2035.6" y="2006.7" width="13.2" height="29.3" fill="#d9dbf6" stroke="#3b4098" stroke-width="1.05"/>
<line x1="2035.6" y1="2018.8" x2="2048.8" y2="2018.8" stroke="#3b4098" stroke-width="1.05"/>
<path d="M2038.9,1965.5 l3.3,-2.6 l3.3,2.6 l-3.3,2.6 z" fill="#3b4098"/>
<path d="M2038.9,2054.7 l3.3,-2.6 l3.3,2.6 l-3.3,2.6 z" fill="#3b4098"/>
<circle cx="2042.2" cy="1988.8" r="2.3" fill="#3b4098"/>
<circle cx="2042.2" cy="1995.2" r="2.3" fill="#3b4098"/>
<circle cx="2042.2" cy="2018.8" r="2.3" fill="#3b4098"/>
<circle cx="2042.2" cy="2036" r="2.3" fill="#3b4098"/>
<circle cx="2042.2" cy="2049.2" r="2.3" fill="#3b4098"/>
<circle cx="2042.2" cy="2131.3" r="2.3" fill="#3b4098"/>
<line x1="2059.6" y1="2025" x2="2059.6" y2="2058.4" stroke="#3c3c46" stroke-width="1.25"/>
<line x1="2059.6" y1="2110.2" x2="2059.6" y2="2173.6" stroke="#3c3c46" stroke-width="1.25"/>
<rect x="2052.8" y="2058.4" width="13.7" height="51.8" fill="#fddccf" stroke="#cb2f27" stroke-width="1.05"/>
<line x1="2052.8" y1="2067.5" x2="2066.4" y2="2067.5" stroke="#cb2f27" stroke-width="1.05"/>
<path d="M2056.3,2025 l3.3,-2.6 l3.3,2.6 l-3.3,2.6 z" fill="#cb2f27"/>
<path d="M2056.3,2173.6 l3.3,-2.6 l3.3,2.6 l-3.3,2.6 z" fill="#cb2f27"/>
<circle cx="2059.6" cy="2036" r="2.3" fill="#cb2f27"/>
<circle cx="2059.6" cy="2049.2" r="2.3" fill="#cb2f27"/>
<circle cx="2059.6" cy="2067.5" r="2.3" fill="#cb2f27"/>
<circle cx="2059.6" cy="2079.4" r="2.3" fill="#cb2f27"/>
<circle cx="2059.6" cy="2099.8" r="2.3" fill="#cb2f27"/>
<circle cx="2059.6" cy="2109.8" r="2.3" fill="#cb2f27"/>
<circle cx="2059.6" cy="2195" r="2.3" fill="#cb2f27"/>
<circle cx="2059.6" cy="2232.7" r="2.3" fill="#cb2f27"/>
<line x1="2094.5" y1="1965.5" x2="2094.5" y2="1988.6" stroke="#3c3c46" stroke-width="1.25"/>
<line x1="2094.5" y1="2042.6" x2="2094.5" y2="2049.2" stroke="#3c3c46" stroke-width="1.25"/>
<rect x="2087.8" y="1988.6" width="13.4" height="54" fill="#d9dbf6" stroke="#3b4098" stroke-width="1.05"/>
<line x1="2087.8" y1="2027.6" x2="2101.2" y2="2027.6" stroke="#3b4098" stroke-width="1.05"/>
<path d="M2091.2,1965.5 l3.3,-2.6 l3.3,2.6 l-3.3,2.6 z" fill="#3b4098"/>
<path d="M2091.2,2049.2 l3.3,-2.6 l3.3,2.6 l-3.3,2.6 z" fill="#3b4098"/>
<circle cx="2094.5" cy="1988.8" r="2.3" fill="#3b4098"/>
<circle cx="2094.5" cy="1995.2" r="2.3" fill="#3b4098"/>
<circle cx="2094.5" cy="2018.8" r="2.3" fill="#3b4098"/>
<circle cx="2094.5" cy="2036" r="2.3" fill="#3b4098"/>
<circle cx="2094.5" cy="2173.6" r="2.3" fill="#3b4098"/>
<line x1="2111.9" y1="2035.5" x2="2111.9" y2="2049.2" stroke="#3c3c46" stroke-width="1.25"/>
<line x1="2111.9" y1="2107.6" x2="2111.9" y2="2163.1" stroke="#3c3c46" stroke-width="1.25"/>
<rect x="2105" y="2049.2" width="13.9" height="58.4" fill="#fddccf" stroke="#cb2f27" stroke-width="1.05"/>
<line x1="2105" y1="2067.5" x2="2118.8" y2="2067.5" stroke="#cb2f27" stroke-width="1.05"/>
<path d="M2108.6,2035.5 l3.3,-2.6 l3.3,2.6 l-3.3,2.6 z" fill="#cb2f27"/>
<path d="M2108.6,2163.1 l3.3,-2.6 l3.3,2.6 l-3.3,2.6 z" fill="#cb2f27"/>
<circle cx="2111.9" cy="2049.2" r="2.3" fill="#cb2f27"/>
<circle cx="2111.9" cy="2054.7" r="2.3" fill="#cb2f27"/>
<circle cx="2111.9" cy="2067.5" r="2.3" fill="#cb2f27"/>
<circle cx="2111.9" cy="2079.4" r="2.3" fill="#cb2f27"/>
<circle cx="2111.9" cy="2084" r="2.3" fill="#cb2f27"/>
<circle cx="2111.9" cy="2131.3" r="2.3" fill="#cb2f27"/>
<circle cx="2111.9" cy="2143.5" r="2.3" fill="#cb2f27"/>
<circle cx="2111.9" cy="2258.4" r="2.3" fill="#cb2f27"/>
<path d="M1988.7,1939.1 V1930.2 H2012.2 V1939.1" stroke="#3c3c3c" stroke-width="1.15" fill="none"/>
<text x="2001.6" y="1932.7" font-size="26.5" text-anchor="middle" style="fill:#000000;stroke:#000000;letter-spacing:0.9px;stroke-width:0.7px;">**</text>
<path d="M2040.9,1939.1 V1930.2 H2064.2 V1939.1" stroke="#3c3c3c" stroke-width="1.15" fill="none"/>
<text x="2053.8" y="1932.7" font-size="26.5" text-anchor="middle" style="fill:#000000;stroke:#000000;letter-spacing:0.9px;stroke-width:0.7px;">**</text>
<path d="M2093.3,1939.1 V1930.2 H2116.6 V1939.1" stroke="#3c3c3c" stroke-width="1.15" fill="none"/>
<text x="2106" y="1932.7" font-size="26.5" text-anchor="middle" style="fill:#000000;stroke:#000000;letter-spacing:0.9px;stroke-width:0.7px;">**</text>
<text x="1948.6" y="2405" font-size="31.5" text-anchor="middle" style="letter-spacing:-1.9px;">trial</text>
<text x="1690.3" y="2138" font-size="31.5" text-anchor="middle" style="letter-spacing:-1.7px;" transform="rotate(-90 1690.3 2138)">frequency (Hz)</text>
<text x="1943.5" y="1873" font-size="35.6" text-anchor="middle" font-weight="bold" style="fill:#2a2a2a;stroke:#2a2a2a;">trace interval</text>
<path d="M222.2,1643.4 236.4,1634.4 250.6,1441.5 264.8,1634.4 279.1,1635.5 307.5,1636.4 350.1,1636.7 371.4,1636.1 402.7,1637.7 442.5,1635.5 473.7,1637.7 506.4,1637.7 541.9,1636 563.2,1636.4" stroke="#111111" stroke-width="1.3" fill="none" stroke-linejoin="miter"/>
<path d="M208,1269.5 V1643.4 H563.2" stroke="#3a3a3a" stroke-width="1.2" fill="none"/>
<line x1="208" y1="1269.5" x2="212.3" y2="1269.5" stroke="#3a3a3a" stroke-width="1.2"/>
<text x="199.5" y="1280.3" font-size="31.5" text-anchor="end">1</text>
<line x1="208" y1="1456.5" x2="212.3" y2="1456.5" stroke="#3a3a3a" stroke-width="1.2"/>
<text x="199.5" y="1467.2" font-size="31.5" text-anchor="end">0.5</text>
<text x="199.5" y="1654.4" font-size="31.5" text-anchor="end">0</text>
<text x="208" y="1678.2" font-size="31.5" text-anchor="middle">0</text>
<line x1="279.1" y1="1643.4" x2="279.1" y2="1639.1" stroke="#3a3a3a" stroke-width="1.2"/>
<text x="285.4" y="1678.2" font-size="31.5" text-anchor="middle">0.5</text>
<line x1="350.1" y1="1643.4" x2="350.1" y2="1639.1" stroke="#3a3a3a" stroke-width="1.2"/>
<text x="349.1" y="1678.2" font-size="31.5" text-anchor="middle">1</text>
<line x1="421.1" y1="1643.4" x2="421.1" y2="1639.1" stroke="#3a3a3a" stroke-width="1.2"/>
<text x="429.1" y="1678.2" font-size="31.5" text-anchor="middle">1.5</text>
<line x1="492.2" y1="1643.4" x2="492.2" y2="1639.1" stroke="#3a3a3a" stroke-width="1.2"/>
<text x="492.5" y="1678.2" font-size="31.5" text-anchor="middle">2</text>
<line x1="563.2" y1="1643.4" x2="563.2" y2="1639.1" stroke="#3a3a3a" stroke-width="1.2"/>
<text x="569.5" y="1678.2" font-size="31.5" text-anchor="middle">2.5</text>
<circle cx="257.8" cy="1521.9" r="2.35" fill="#3b4098"/>
<circle cx="264.1" cy="1552.4" r="2.35" fill="#3b4098"/>
<circle cx="278" cy="1522.5" r="2.35" fill="#3b4098"/>
<circle cx="278" cy="1557.6" r="2.35" fill="#3b4098"/>
<circle cx="291.9" cy="1511.8" r="2.35" fill="#3b4098"/>
<circle cx="291.9" cy="1517.1" r="2.35" fill="#3b4098"/>
<circle cx="292.7" cy="1543.8" r="2.35" fill="#3b4098"/>
<circle cx="292.7" cy="1551.1" r="2.35" fill="#3b4098"/>
<circle cx="306" cy="1530.7" r="2.35" fill="#3b4098"/>
<circle cx="306" cy="1550.5" r="2.35" fill="#3b4098"/>
<circle cx="334" cy="1542.7" r="2.35" fill="#3b4098"/>
<circle cx="349.3" cy="1552.2" r="2.35" fill="#3b4098"/>
<circle cx="361.9" cy="1516.4" r="2.35" fill="#3b4098"/>
<circle cx="363.6" cy="1551.3" r="2.35" fill="#3b4098"/>
<circle cx="376" cy="1533.9" r="2.35" fill="#3b4098"/>
<circle cx="258.3" cy="1517.7" r="2.35" fill="#cb2f27"/>
<circle cx="264.1" cy="1522.5" r="2.35" fill="#cb2f27"/>
<circle cx="264.6" cy="1545.5" r="2.35" fill="#cb2f27"/>
<circle cx="278.2" cy="1537.7" r="2.35" fill="#cb2f27"/>
<circle cx="278.6" cy="1539.6" r="2.35" fill="#cb2f27"/>
<circle cx="292.1" cy="1521.9" r="2.35" fill="#cb2f27"/>
<circle cx="292.7" cy="1556.2" r="2.35" fill="#cb2f27"/>
<circle cx="306" cy="1489.5" r="2.35" fill="#cb2f27"/>
<circle cx="307" cy="1510.1" r="2.35" fill="#cb2f27"/>
<circle cx="307" cy="1561.4" r="2.35" fill="#cb2f27"/>
<circle cx="320.9" cy="1537.2" r="2.35" fill="#cb2f27"/>
<circle cx="363.6" cy="1529.5" r="2.35" fill="#cb2f27"/>
<circle cx="377.7" cy="1514.1" r="2.35" fill="#cb2f27"/>
<text x="372" y="1218" font-size="35" text-anchor="middle" font-weight="bold" style="fill:#2a2a2a;stroke:#2a2a2a;">trial 1</text>
<text x="388.7" y="1713.2" font-size="31.5" text-anchor="middle" style="letter-spacing:-1.7px;">frequency (Hz)</text>
<path d="M721.6,1643.4 735.8,1634.4 750,1441.5 764.2,1634.4 778.4,1635.5 806.9,1636.4 849.5,1636.7 870.8,1636.1 902.1,1637.7 941.9,1635.5 973.1,1637.7 1005.8,1637.7 1041.3,1636 1062.7,1636.4" stroke="#111111" stroke-width="1.3" fill="none" stroke-linejoin="miter"/>
<path d="M707.4,1269.5 V1643.4 H1062.7" stroke="#3a3a3a" stroke-width="1.2" fill="none"/>
<line x1="707.4" y1="1269.5" x2="711.7" y2="1269.5" stroke="#3a3a3a" stroke-width="1.2"/>
<text x="698.9" y="1280.3" font-size="31.5" text-anchor="end">1</text>
<line x1="707.4" y1="1456.5" x2="711.7" y2="1456.5" stroke="#3a3a3a" stroke-width="1.2"/>
<text x="698.9" y="1467.2" font-size="31.5" text-anchor="end">0.5</text>
<text x="698.9" y="1654.4" font-size="31.5" text-anchor="end">0</text>
<text x="707.4" y="1678.2" font-size="31.5" text-anchor="middle">0</text>
<line x1="778.4" y1="1643.4" x2="778.4" y2="1639.1" stroke="#3a3a3a" stroke-width="1.2"/>
<text x="784.7" y="1678.2" font-size="31.5" text-anchor="middle">0.5</text>
<line x1="849.5" y1="1643.4" x2="849.5" y2="1639.1" stroke="#3a3a3a" stroke-width="1.2"/>
<text x="848.5" y="1678.2" font-size="31.5" text-anchor="middle">1</text>
<line x1="920.5" y1="1643.4" x2="920.5" y2="1639.1" stroke="#3a3a3a" stroke-width="1.2"/>
<text x="928.5" y="1678.2" font-size="31.5" text-anchor="middle">1.5</text>
<line x1="991.6" y1="1643.4" x2="991.6" y2="1639.1" stroke="#3a3a3a" stroke-width="1.2"/>
<text x="991.9" y="1678.2" font-size="31.5" text-anchor="middle">2</text>
<line x1="1062.7" y1="1643.4" x2="1062.7" y2="1639.1" stroke="#3a3a3a" stroke-width="1.2"/>
<text x="1069" y="1678.2" font-size="31.5" text-anchor="middle">2.5</text>
<circle cx="805.4" cy="1517.3" r="2.35" fill="#3b4098"/>
<circle cx="819.4" cy="1514.3" r="2.35" fill="#3b4098"/>
<circle cx="847.2" cy="1529" r="2.35" fill="#3b4098"/>
<circle cx="888.8" cy="1519" r="2.35" fill="#3b4098"/>
<circle cx="890.9" cy="1521.1" r="2.35" fill="#3b4098"/>
<circle cx="902.9" cy="1499.4" r="2.35" fill="#3b4098"/>
<circle cx="905.2" cy="1506.1" r="2.35" fill="#3b4098"/>
<circle cx="902.9" cy="1514.1" r="2.35" fill="#3b4098"/>
<circle cx="902.9" cy="1536.8" r="2.35" fill="#3b4098"/>
<circle cx="917.2" cy="1505.5" r="2.35" fill="#3b4098"/>
<circle cx="917.2" cy="1519.4" r="2.35" fill="#3b4098"/>
<circle cx="917.2" cy="1540" r="2.35" fill="#3b4098"/>
<circle cx="933.2" cy="1523.2" r="2.35" fill="#3b4098"/>
<circle cx="959.1" cy="1551.8" r="2.35" fill="#3b4098"/>
<circle cx="973" cy="1505.5" r="2.35" fill="#3b4098"/>
<circle cx="990" cy="1533.9" r="2.35" fill="#3b4098"/>
<circle cx="761.6" cy="1522.3" r="2.35" fill="#cb2f27"/>
<circle cx="792.1" cy="1545" r="2.35" fill="#cb2f27"/>
<circle cx="791.3" cy="1564" r="2.35" fill="#cb2f27"/>
<circle cx="820.3" cy="1500.2" r="2.35" fill="#cb2f27"/>
<circle cx="820.3" cy="1542.5" r="2.35" fill="#cb2f27"/>
<circle cx="833.1" cy="1546.1" r="2.35" fill="#cb2f27"/>
<circle cx="847.2" cy="1517.9" r="2.35" fill="#cb2f27"/>
<circle cx="862.8" cy="1498.6" r="2.35" fill="#cb2f27"/>
<circle cx="862.8" cy="1508.2" r="2.35" fill="#cb2f27"/>
<circle cx="861.3" cy="1542.5" r="2.35" fill="#cb2f27"/>
<circle cx="890.9" cy="1504.7" r="2.35" fill="#cb2f27"/>
<circle cx="902.9" cy="1529.5" r="2.35" fill="#cb2f27"/>
<circle cx="905.5" cy="1529.7" r="2.35" fill="#cb2f27"/>
<circle cx="905.2" cy="1554.9" r="2.35" fill="#cb2f27"/>
<circle cx="959.1" cy="1520.2" r="2.35" fill="#cb2f27"/>
<text x="873" y="1218" font-size="35" text-anchor="middle" font-weight="bold" style="fill:#2a2a2a;stroke:#2a2a2a;">trial 4</text>
<text x="885.8" y="1713.2" font-size="31.5" text-anchor="middle" style="letter-spacing:-1.7px;">frequency (Hz)</text>
<path d="M1213.7,1643.4 1227.9,1634.4 1242.1,1441.5 1256.3,1634.4 1270.5,1635.5 1299,1636.4 1341.6,1636.7 1362.9,1636.1 1394.2,1637.7 1434,1635.5 1465.2,1637.7 1497.9,1637.7 1533.4,1636 1554.8,1636.4" stroke="#111111" stroke-width="1.3" fill="none" stroke-linejoin="miter"/>
<path d="M1199.5,1269.5 V1643.4 H1554.8" stroke="#3a3a3a" stroke-width="1.2" fill="none"/>
<line x1="1199.5" y1="1269.5" x2="1203.8" y2="1269.5" stroke="#3a3a3a" stroke-width="1.2"/>
<text x="1191" y="1280.3" font-size="31.5" text-anchor="end">1</text>
<line x1="1199.5" y1="1456.5" x2="1203.8" y2="1456.5" stroke="#3a3a3a" stroke-width="1.2"/>
<text x="1191" y="1467.2" font-size="31.5" text-anchor="end">0.5</text>
<text x="1191" y="1654.4" font-size="31.5" text-anchor="end">0</text>
<text x="1199.5" y="1678.2" font-size="31.5" text-anchor="middle">0</text>
<line x1="1270.5" y1="1643.4" x2="1270.5" y2="1639.1" stroke="#3a3a3a" stroke-width="1.2"/>
<text x="1276.8" y="1678.2" font-size="31.5" text-anchor="middle">0.5</text>
<line x1="1341.6" y1="1643.4" x2="1341.6" y2="1639.1" stroke="#3a3a3a" stroke-width="1.2"/>
<text x="1340.6" y="1678.2" font-size="31.5" text-anchor="middle">1</text>
<line x1="1412.7" y1="1643.4" x2="1412.7" y2="1639.1" stroke="#3a3a3a" stroke-width="1.2"/>
<text x="1420.7" y="1678.2" font-size="31.5" text-anchor="middle">1.5</text>
<line x1="1483.7" y1="1643.4" x2="1483.7" y2="1639.1" stroke="#3a3a3a" stroke-width="1.2"/>
<text x="1484" y="1678.2" font-size="31.5" text-anchor="middle">2</text>
<line x1="1554.8" y1="1643.4" x2="1554.8" y2="1639.1" stroke="#3a3a3a" stroke-width="1.2"/>
<text x="1561" y="1678.2" font-size="31.5" text-anchor="middle">2.5</text>
<circle cx="1437.1" cy="1479" r="2.35" fill="#3b4098"/>
<circle cx="1437.1" cy="1481.1" r="2.35" fill="#3b4098"/>
<circle cx="1493" cy="1493.5" r="2.35" fill="#3b4098"/>
<circle cx="1479.4" cy="1517.7" r="2.35" fill="#3b4098"/>
<circle cx="1479.4" cy="1520" r="2.35" fill="#3b4098"/>
<circle cx="1479.4" cy="1524.6" r="2.35" fill="#3b4098"/>
<circle cx="1493" cy="1515.8" r="2.35" fill="#3b4098"/>
<circle cx="1493" cy="1521.5" r="2.35" fill="#3b4098"/>
<circle cx="1493" cy="1531.2" r="2.35" fill="#3b4098"/>
<circle cx="1496" cy="1531.4" r="2.35" fill="#3b4098"/>
<circle cx="1507.1" cy="1531.4" r="2.35" fill="#3b4098"/>
<circle cx="1507.1" cy="1539.8" r="2.35" fill="#3b4098"/>
<circle cx="1479.4" cy="1539.6" r="2.35" fill="#3b4098"/>
<circle cx="1524.4" cy="1512.6" r="2.35" fill="#3b4098"/>
<circle cx="1524.4" cy="1516.2" r="2.35" fill="#3b4098"/>
<circle cx="1538.5" cy="1539.8" r="2.35" fill="#3b4098"/>
<circle cx="1339.3" cy="1496.9" r="2.35" fill="#cb2f27"/>
<circle cx="1340.8" cy="1533.3" r="2.35" fill="#cb2f27"/>
<circle cx="1409.3" cy="1511.4" r="2.35" fill="#cb2f27"/>
<circle cx="1423.2" cy="1513.9" r="2.35" fill="#cb2f27"/>
<circle cx="1439.6" cy="1487" r="2.35" fill="#cb2f27"/>
<circle cx="1451.2" cy="1473.7" r="2.35" fill="#cb2f27"/>
<circle cx="1453.7" cy="1473.7" r="2.35" fill="#cb2f27"/>
<circle cx="1453.7" cy="1498.6" r="2.35" fill="#cb2f27"/>
<circle cx="1453.7" cy="1521.1" r="2.35" fill="#cb2f27"/>
<circle cx="1467.8" cy="1514.3" r="2.35" fill="#cb2f27"/>
<circle cx="1467.8" cy="1521.1" r="2.35" fill="#cb2f27"/>
<circle cx="1439.6" cy="1534.9" r="2.35" fill="#cb2f27"/>
<circle cx="1439.6" cy="1540.8" r="2.35" fill="#cb2f27"/>
<circle cx="1439.6" cy="1543.1" r="2.35" fill="#cb2f27"/>
<circle cx="1465.1" cy="1544.2" r="2.35" fill="#cb2f27"/>
<circle cx="1479.4" cy="1537" r="2.35" fill="#cb2f27"/>
<text x="1365" y="1218" font-size="35" text-anchor="middle" font-weight="bold" style="fill:#2a2a2a;stroke:#2a2a2a;">trial 7</text>
<text x="1377.5" y="1713.2" font-size="31.5" text-anchor="middle" style="letter-spacing:-1.7px;">frequency (Hz)</text>
<path d="M222.2,2320 236.4,2310.9 250.6,2117.9 264.8,2310.9 279.1,2312.1 307.5,2313 350.1,2313.3 371.4,2312.7 402.7,2314.3 442.5,2312.1 473.7,2314.3 506.4,2314.3 541.9,2312.6 563.2,2313" stroke="#111111" stroke-width="1.3" fill="none" stroke-linejoin="miter"/>
<path d="M208,1945.8 V2320 H563.2" stroke="#3a3a3a" stroke-width="1.2" fill="none"/>
<line x1="208" y1="1945.8" x2="212.3" y2="1945.8" stroke="#3a3a3a" stroke-width="1.2"/>
<text x="199.5" y="1956.6" font-size="31.5" text-anchor="end">1</text>
<line x1="208" y1="2132.9" x2="212.3" y2="2132.9" stroke="#3a3a3a" stroke-width="1.2"/>
<text x="199.5" y="2143.7" font-size="31.5" text-anchor="end">0.5</text>
<text x="199.5" y="2331" font-size="31.5" text-anchor="end">0</text>
<text x="208" y="2354.5" font-size="31.5" text-anchor="middle">0</text>
<line x1="279.1" y1="2320" x2="279.1" y2="2315.7" stroke="#3a3a3a" stroke-width="1.2"/>
<text x="285.4" y="2354.5" font-size="31.5" text-anchor="middle">0.5</text>
<line x1="350.1" y1="2320" x2="350.1" y2="2315.7" stroke="#3a3a3a" stroke-width="1.2"/>
<text x="349.1" y="2354.5" font-size="31.5" text-anchor="middle">1</text>
<line x1="421.1" y1="2320" x2="421.1" y2="2315.7" stroke="#3a3a3a" stroke-width="1.2"/>
<text x="429.1" y="2354.5" font-size="31.5" text-anchor="middle">1.5</text>
<line x1="492.2" y1="2320" x2="492.2" y2="2315.7" stroke="#3a3a3a" stroke-width="1.2"/>
<text x="492.5" y="2354.5" font-size="31.5" text-anchor="middle">2</text>
<line x1="563.2" y1="2320" x2="563.2" y2="2315.7" stroke="#3a3a3a" stroke-width="1.2"/>
<text x="569.5" y="2354.5" font-size="31.5" text-anchor="middle">2.5</text>
<circle cx="264.1" cy="2168.1" r="2.35" fill="#3b4098"/>
<circle cx="264.1" cy="2206.8" r="2.35" fill="#3b4098"/>
<circle cx="264.1" cy="2208.9" r="2.35" fill="#3b4098"/>
<circle cx="264.1" cy="2217.7" r="2.35" fill="#3b4098"/>
<circle cx="292.1" cy="2163.9" r="2.35" fill="#3b4098"/>
<circle cx="296.1" cy="2171.5" r="2.35" fill="#3b4098"/>
<circle cx="292.1" cy="2178.8" r="2.35" fill="#3b4098"/>
<circle cx="296.1" cy="2200.5" r="2.35" fill="#3b4098"/>
<circle cx="319.9" cy="2175.5" r="2.35" fill="#3b4098"/>
<circle cx="317.8" cy="2198" r="2.35" fill="#3b4098"/>
<circle cx="317.8" cy="2200.5" r="2.35" fill="#3b4098"/>
<circle cx="354.8" cy="2168.5" r="2.35" fill="#3b4098"/>
<circle cx="372.7" cy="2228.4" r="2.35" fill="#3b4098"/>
<circle cx="266.9" cy="2150.6" r="2.35" fill="#cb2f27"/>
<circle cx="262.7" cy="2194.2" r="2.35" fill="#cb2f27"/>
<circle cx="266.9" cy="2194.2" r="2.35" fill="#cb2f27"/>
<circle cx="264.1" cy="2199" r="2.35" fill="#cb2f27"/>
<circle cx="263.1" cy="2226.1" r="2.35" fill="#cb2f27"/>
<circle cx="296.1" cy="2192.5" r="2.35" fill="#cb2f27"/>
<circle cx="292.1" cy="2208.9" r="2.35" fill="#cb2f27"/>
<circle cx="296.1" cy="2212.7" r="2.35" fill="#cb2f27"/>
<circle cx="319.9" cy="2137.2" r="2.35" fill="#cb2f27"/>
<circle cx="325.3" cy="2139.7" r="2.35" fill="#cb2f27"/>
<circle cx="319.9" cy="2162.2" r="2.35" fill="#cb2f27"/>
<circle cx="325.3" cy="2171.7" r="2.35" fill="#cb2f27"/>
<circle cx="325.3" cy="2192.7" r="2.35" fill="#cb2f27"/>
<circle cx="325.3" cy="2195.8" r="2.35" fill="#cb2f27"/>
<circle cx="317.8" cy="2217.7" r="2.35" fill="#cb2f27"/>
<text x="372" y="1902.6" font-size="35" text-anchor="middle" font-weight="bold" style="fill:#2a2a2a;stroke:#2a2a2a;">trial 1</text>
<text x="386.4" y="2394.9" font-size="31.5" text-anchor="middle" style="letter-spacing:-1.7px;">frequency (Hz)</text>
<path d="M721.6,2320 735.8,2310.9 750,2117.9 764.2,2310.9 778.4,2312.1 806.9,2313 849.5,2313.3 870.8,2312.7 902.1,2314.3 941.9,2312.1 973.1,2314.3 1005.8,2314.3 1041.3,2312.6 1062.7,2313" stroke="#111111" stroke-width="1.3" fill="none" stroke-linejoin="miter"/>
<path d="M707.4,1945.8 V2320 H1062.7" stroke="#3a3a3a" stroke-width="1.2" fill="none"/>
<line x1="707.4" y1="1945.8" x2="711.7" y2="1945.8" stroke="#3a3a3a" stroke-width="1.2"/>
<text x="698.9" y="1956.6" font-size="31.5" text-anchor="end">1</text>
<line x1="707.4" y1="2132.9" x2="711.7" y2="2132.9" stroke="#3a3a3a" stroke-width="1.2"/>
<text x="698.9" y="2143.7" font-size="31.5" text-anchor="end">0.5</text>
<text x="698.9" y="2331" font-size="31.5" text-anchor="end">0</text>
<text x="707.4" y="2354.5" font-size="31.5" text-anchor="middle">0</text>
<line x1="778.4" y1="2320" x2="778.4" y2="2315.7" stroke="#3a3a3a" stroke-width="1.2"/>
<text x="784.7" y="2354.5" font-size="31.5" text-anchor="middle">0.5</text>
<line x1="849.5" y1="2320" x2="849.5" y2="2315.7" stroke="#3a3a3a" stroke-width="1.2"/>
<text x="848.5" y="2354.5" font-size="31.5" text-anchor="middle">1</text>
<line x1="920.5" y1="2320" x2="920.5" y2="2315.7" stroke="#3a3a3a" stroke-width="1.2"/>
<text x="928.5" y="2354.5" font-size="31.5" text-anchor="middle">1.5</text>
<line x1="991.6" y1="2320" x2="991.6" y2="2315.7" stroke="#3a3a3a" stroke-width="1.2"/>
<text x="991.9" y="2354.5" font-size="31.5" text-anchor="middle">2</text>
<line x1="1062.7" y1="2320" x2="1062.7" y2="2315.7" stroke="#3a3a3a" stroke-width="1.2"/>
<text x="1069" y="2354.5" font-size="31.5" text-anchor="middle">2.5</text>
<circle cx="819.2" cy="2124.3" r="2.35" fill="#3b4098"/>
<circle cx="819.2" cy="2146" r="2.35" fill="#3b4098"/>
<circle cx="854.1" cy="2158.6" r="2.35" fill="#3b4098"/>
<circle cx="871.8" cy="2107.5" r="2.35" fill="#3b4098"/>
<circle cx="875.2" cy="2192.1" r="2.35" fill="#3b4098"/>
<circle cx="899.4" cy="2168.5" r="2.35" fill="#3b4098"/>
<circle cx="926.5" cy="2151.5" r="2.35" fill="#3b4098"/>
<circle cx="931.1" cy="2165.6" r="2.35" fill="#3b4098"/>
<circle cx="931.1" cy="2171.2" r="2.35" fill="#3b4098"/>
<circle cx="931.1" cy="2177.8" r="2.35" fill="#3b4098"/>
<circle cx="931.1" cy="2180.3" r="2.35" fill="#3b4098"/>
<circle cx="959.1" cy="2139.3" r="2.35" fill="#3b4098"/>
<circle cx="971.3" cy="2157.4" r="2.35" fill="#3b4098"/>
<circle cx="971.3" cy="2169.6" r="2.35" fill="#3b4098"/>
<circle cx="971.3" cy="2173.6" r="2.35" fill="#3b4098"/>
<circle cx="762" cy="2191.6" r="2.35" fill="#cb2f27"/>
<circle cx="766" cy="2196.5" r="2.35" fill="#cb2f27"/>
<circle cx="791.1" cy="2171.5" r="2.35" fill="#cb2f27"/>
<circle cx="819.2" cy="2179.7" r="2.35" fill="#cb2f27"/>
<circle cx="824.7" cy="2165.4" r="2.35" fill="#cb2f27"/>
<circle cx="844.5" cy="2166.8" r="2.35" fill="#cb2f27"/>
<circle cx="854.1" cy="2169.1" r="2.35" fill="#cb2f27"/>
<circle cx="854.1" cy="2173.1" r="2.35" fill="#cb2f27"/>
<circle cx="854.1" cy="2183.9" r="2.35" fill="#cb2f27"/>
<circle cx="844.5" cy="2210.8" r="2.35" fill="#cb2f27"/>
<circle cx="883.4" cy="2122.5" r="2.35" fill="#cb2f27"/>
<circle cx="883.4" cy="2218.6" r="2.35" fill="#cb2f27"/>
<circle cx="902.9" cy="2187.4" r="2.35" fill="#cb2f27"/>
<circle cx="912.6" cy="2180.7" r="2.35" fill="#cb2f27"/>
<circle cx="931.1" cy="2189.5" r="2.35" fill="#cb2f27"/>
<circle cx="942" cy="2208.3" r="2.35" fill="#cb2f27"/>
<text x="873" y="1902.6" font-size="35" text-anchor="middle" font-weight="bold" style="fill:#2a2a2a;stroke:#2a2a2a;">trial 4</text>
<text x="889.2" y="2394.9" font-size="31.5" text-anchor="middle" style="letter-spacing:-1.7px;">frequency (Hz)</text>
<path d="M1213.7,2320 1227.9,2310.9 1242.1,2117.9 1256.3,2310.9 1270.5,2312.1 1299,2313 1341.6,2313.3 1362.9,2312.7 1394.2,2314.3 1434,2312.1 1465.2,2314.3 1497.9,2314.3 1533.4,2312.6 1554.8,2313" stroke="#111111" stroke-width="1.3" fill="none" stroke-linejoin="miter"/>
<path d="M1199.5,1945.8 V2320 H1554.8" stroke="#3a3a3a" stroke-width="1.2" fill="none"/>
<line x1="1199.5" y1="1945.8" x2="1203.8" y2="1945.8" stroke="#3a3a3a" stroke-width="1.2"/>
<text x="1191" y="1956.6" font-size="31.5" text-anchor="end">1</text>
<line x1="1199.5" y1="2132.9" x2="1203.8" y2="2132.9" stroke="#3a3a3a" stroke-width="1.2"/>
<text x="1191" y="2143.7" font-size="31.5" text-anchor="end">0.5</text>
<text x="1191" y="2331" font-size="31.5" text-anchor="end">0</text>
<text x="1199.5" y="2354.5" font-size="31.5" text-anchor="middle">0</text>
<line x1="1270.5" y1="2320" x2="1270.5" y2="2315.7" stroke="#3a3a3a" stroke-width="1.2"/>
<text x="1276.8" y="2354.5" font-size="31.5" text-anchor="middle">0.5</text>
<line x1="1341.6" y1="2320" x2="1341.6" y2="2315.7" stroke="#3a3a3a" stroke-width="1.2"/>
<text x="1340.6" y="2354.5" font-size="31.5" text-anchor="middle">1</text>
<line x1="1412.7" y1="2320" x2="1412.7" y2="2315.7" stroke="#3a3a3a" stroke-width="1.2"/>
<text x="1420.7" y="2354.5" font-size="31.5" text-anchor="middle">1.5</text>
<line x1="1483.7" y1="2320" x2="1483.7" y2="2315.7" stroke="#3a3a3a" stroke-width="1.2"/>
<text x="1484" y="2354.5" font-size="31.5" text-anchor="middle">2</text>
<line x1="1554.8" y1="2320" x2="1554.8" y2="2315.7" stroke="#3a3a3a" stroke-width="1.2"/>
<text x="1561" y="2354.5" font-size="31.5" text-anchor="middle">2.5</text>
<circle cx="1336.6" cy="2157.4" r="2.35" fill="#3b4098"/>
<circle cx="1451.2" cy="2114.7" r="2.35" fill="#3b4098"/>
<circle cx="1451.2" cy="2134.7" r="2.35" fill="#3b4098"/>
<circle cx="1463.4" cy="2148.3" r="2.35" fill="#3b4098"/>
<circle cx="1463.4" cy="2160.7" r="2.35" fill="#3b4098"/>
<circle cx="1463.4" cy="2175" r="2.35" fill="#3b4098"/>
<circle cx="1479.2" cy="2108.4" r="2.35" fill="#3b4098"/>
<circle cx="1479.2" cy="2160.5" r="2.35" fill="#3b4098"/>
<circle cx="1501" cy="2128.6" r="2.35" fill="#3b4098"/>
<circle cx="1507.1" cy="2130.7" r="2.35" fill="#3b4098"/>
<circle cx="1507.1" cy="2173.8" r="2.35" fill="#3b4098"/>
<circle cx="1507.1" cy="2184.9" r="2.35" fill="#3b4098"/>
<circle cx="1507.1" cy="2208.5" r="2.35" fill="#3b4098"/>
<circle cx="1528.4" cy="2159.9" r="2.35" fill="#3b4098"/>
<circle cx="1258.1" cy="2160.1" r="2.35" fill="#cb2f27"/>
<circle cx="1346" cy="2175.7" r="2.35" fill="#cb2f27"/>
<circle cx="1363.9" cy="2128.6" r="2.35" fill="#cb2f27"/>
<circle cx="1375.5" cy="2073.2" r="2.35" fill="#cb2f27"/>
<circle cx="1423" cy="2084.6" r="2.35" fill="#cb2f27"/>
<circle cx="1423" cy="2157.2" r="2.35" fill="#cb2f27"/>
<circle cx="1418.8" cy="2204.9" r="2.35" fill="#cb2f27"/>
<circle cx="1433.9" cy="2150.4" r="2.35" fill="#cb2f27"/>
<circle cx="1433.9" cy="2159.7" r="2.35" fill="#cb2f27"/>
<circle cx="1433.9" cy="2172.3" r="2.35" fill="#cb2f27"/>
<circle cx="1446.1" cy="2146.6" r="2.35" fill="#cb2f27"/>
<circle cx="1451.2" cy="2152.1" r="2.35" fill="#cb2f27"/>
<circle cx="1451.2" cy="2192.1" r="2.35" fill="#cb2f27"/>
<circle cx="1463.4" cy="2165.6" r="2.35" fill="#cb2f27"/>
<circle cx="1463.4" cy="2170.8" r="2.35" fill="#cb2f27"/>
<text x="1365" y="1902.6" font-size="35" text-anchor="middle" font-weight="bold" style="fill:#2a2a2a;stroke:#2a2a2a;">trial 7</text>
<text x="1381.2" y="2394.9" font-size="31.5" text-anchor="middle" style="letter-spacing:-1.7px;">frequency (Hz)</text>
<text x="132.5" y="1445.5" font-size="31.5" text-anchor="middle" style="letter-spacing:-1.8px;" transform="rotate(-90 132.5 1445.5)">relative power</text>
<text x="132.5" y="2129" font-size="31.5" text-anchor="middle" style="letter-spacing:-1.8px;" transform="rotate(-90 132.5 2129)">relative power</text>
<text x="47" y="1440.5" font-size="36" text-anchor="middle" font-weight="bold" style="fill:#2a2a2a;stroke:#2a2a2a;" transform="rotate(-90 47 1440.5)">during CS</text>
<text x="47" y="2130.5" font-size="35.6" text-anchor="middle" font-weight="bold" style="fill:#2a2a2a;stroke:#2a2a2a;" transform="rotate(-90 47 2130.5)">trace interval</text>
<line x1="359.3" y1="1286" x2="376.9" y2="1286" stroke="#3b4098" stroke-width="3.8"/>
<line x1="359.3" y1="1313.6" x2="376.9" y2="1313.6" stroke="#cb2f27" stroke-width="3.8"/>
<text x="388.3" y="1291" font-size="31.7">no distractor</text>
<text x="388.3" y="1322" font-size="31.7">distractor</text>
<text x="562.8" y="1625.7" font-size="31" text-anchor="end" style="fill:#222222;stroke:#222222;">baseline</text>
</svg>
</body>
</html>
